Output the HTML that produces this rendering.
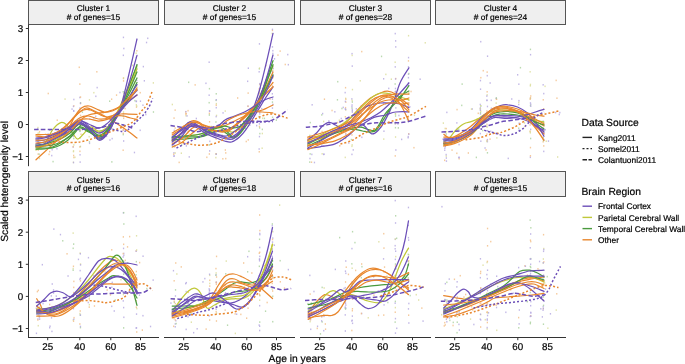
<!DOCTYPE html>
<html><head><meta charset="utf-8"><style>
html,body{margin:0;padding:0;background:#fff;width:685px;height:364px;overflow:hidden}
svg{display:block}
</style></head><body>
<div style="will-change:transform;width:685px;height:364px">
<svg width="685" height="364" viewBox="0 0 685 364" font-family="Liberation Sans, sans-serif" style="text-rendering:geometricPrecision">
<rect x="28.5" y="0.5" width="130" height="24.0" fill="#efefef" stroke="#555" stroke-width="1"/>
<text x="93.5" y="11.1" font-size="8.4" text-anchor="middle" fill="#000" stroke="#000" stroke-width="0.2">Cluster 1</text>
<text x="93.5" y="19.7" font-size="8.4" text-anchor="middle" fill="#000" stroke="#000" stroke-width="0.2"># of genes=15</text>
<rect x="164.5" y="0.5" width="130" height="24.0" fill="#efefef" stroke="#555" stroke-width="1"/>
<text x="229.5" y="11.1" font-size="8.4" text-anchor="middle" fill="#000" stroke="#000" stroke-width="0.2">Cluster 2</text>
<text x="229.5" y="19.7" font-size="8.4" text-anchor="middle" fill="#000" stroke="#000" stroke-width="0.2"># of genes=15</text>
<rect x="300.5" y="0.5" width="130" height="24.0" fill="#efefef" stroke="#555" stroke-width="1"/>
<text x="365.5" y="11.1" font-size="8.4" text-anchor="middle" fill="#000" stroke="#000" stroke-width="0.2">Cluster 3</text>
<text x="365.5" y="19.7" font-size="8.4" text-anchor="middle" fill="#000" stroke="#000" stroke-width="0.2"># of genes=28</text>
<rect x="435.5" y="0.5" width="130" height="24.0" fill="#efefef" stroke="#555" stroke-width="1"/>
<text x="500.5" y="11.1" font-size="8.4" text-anchor="middle" fill="#000" stroke="#000" stroke-width="0.2">Cluster 4</text>
<text x="500.5" y="19.7" font-size="8.4" text-anchor="middle" fill="#000" stroke="#000" stroke-width="0.2"># of genes=24</text>
<rect x="28.5" y="171.5" width="130" height="25.0" fill="#efefef" stroke="#555" stroke-width="1"/>
<text x="93.5" y="182.8" font-size="8.4" text-anchor="middle" fill="#000" stroke="#000" stroke-width="0.2">Cluster 5</text>
<text x="93.5" y="191.4" font-size="8.4" text-anchor="middle" fill="#000" stroke="#000" stroke-width="0.2"># of genes=16</text>
<rect x="164.5" y="171.5" width="130" height="25.0" fill="#efefef" stroke="#555" stroke-width="1"/>
<text x="229.5" y="182.8" font-size="8.4" text-anchor="middle" fill="#000" stroke="#000" stroke-width="0.2">Cluster 6</text>
<text x="229.5" y="191.4" font-size="8.4" text-anchor="middle" fill="#000" stroke="#000" stroke-width="0.2"># of genes=18</text>
<rect x="300.5" y="171.5" width="130" height="25.0" fill="#efefef" stroke="#555" stroke-width="1"/>
<text x="365.5" y="182.8" font-size="8.4" text-anchor="middle" fill="#000" stroke="#000" stroke-width="0.2">Cluster 7</text>
<text x="365.5" y="191.4" font-size="8.4" text-anchor="middle" fill="#000" stroke="#000" stroke-width="0.2"># of genes=16</text>
<rect x="435.5" y="171.5" width="130" height="25.0" fill="#efefef" stroke="#555" stroke-width="1"/>
<text x="500.5" y="182.8" font-size="8.4" text-anchor="middle" fill="#000" stroke="#000" stroke-width="0.2">Cluster 8</text>
<text x="500.5" y="191.4" font-size="8.4" text-anchor="middle" fill="#000" stroke="#000" stroke-width="0.2"># of genes=15</text>
<line x1="28.5" y1="24.5" x2="28.5" y2="166.2" stroke="#333" stroke-width="1"/>
<line x1="25.8" y1="28.5" x2="28.5" y2="28.5" stroke="#333" stroke-width="1"/>
<text x="23.3" y="32.1" font-size="9.8" text-anchor="end" fill="#000" stroke="#000" stroke-width="0.2">3</text>
<line x1="25.8" y1="60.5" x2="28.5" y2="60.5" stroke="#333" stroke-width="1"/>
<text x="23.3" y="64.1" font-size="9.8" text-anchor="end" fill="#000" stroke="#000" stroke-width="0.2">2</text>
<line x1="25.8" y1="92.5" x2="28.5" y2="92.5" stroke="#333" stroke-width="1"/>
<text x="23.3" y="96.1" font-size="9.8" text-anchor="end" fill="#000" stroke="#000" stroke-width="0.2">1</text>
<line x1="25.8" y1="124.5" x2="28.5" y2="124.5" stroke="#333" stroke-width="1"/>
<text x="23.3" y="128.1" font-size="9.8" text-anchor="end" fill="#000" stroke="#000" stroke-width="0.2">0</text>
<line x1="25.8" y1="156.5" x2="28.5" y2="156.5" stroke="#333" stroke-width="1"/>
<text x="23.3" y="160.1" font-size="9.8" text-anchor="end" fill="#000" stroke="#000" stroke-width="0.2">−1</text>
<line x1="28.5" y1="196.5" x2="28.5" y2="337.8" stroke="#333" stroke-width="1"/>
<line x1="25.8" y1="200.1" x2="28.5" y2="200.1" stroke="#333" stroke-width="1"/>
<text x="23.3" y="203.7" font-size="9.8" text-anchor="end" fill="#000" stroke="#000" stroke-width="0.2">3</text>
<line x1="25.8" y1="232.2" x2="28.5" y2="232.2" stroke="#333" stroke-width="1"/>
<text x="23.3" y="235.8" font-size="9.8" text-anchor="end" fill="#000" stroke="#000" stroke-width="0.2">2</text>
<line x1="25.8" y1="264.3" x2="28.5" y2="264.3" stroke="#333" stroke-width="1"/>
<text x="23.3" y="267.9" font-size="9.8" text-anchor="end" fill="#000" stroke="#000" stroke-width="0.2">1</text>
<line x1="25.8" y1="296.4" x2="28.5" y2="296.4" stroke="#333" stroke-width="1"/>
<text x="23.3" y="300.0" font-size="9.8" text-anchor="end" fill="#000" stroke="#000" stroke-width="0.2">0</text>
<line x1="25.8" y1="328.5" x2="28.5" y2="328.5" stroke="#333" stroke-width="1"/>
<text x="23.3" y="332.1" font-size="9.8" text-anchor="end" fill="#000" stroke="#000" stroke-width="0.2">−1</text>
<line x1="28.0" y1="337.5" x2="159.0" y2="337.5" stroke="#333" stroke-width="1"/>
<line x1="47.7" y1="337.5" x2="47.7" y2="340.2" stroke="#333" stroke-width="1"/>
<text x="47.7" y="349.9" font-size="9.8" text-anchor="middle" fill="#000" stroke="#000" stroke-width="0.2">25</text>
<line x1="79.8" y1="337.5" x2="79.8" y2="340.2" stroke="#333" stroke-width="1"/>
<text x="79.8" y="349.9" font-size="9.8" text-anchor="middle" fill="#000" stroke="#000" stroke-width="0.2">40</text>
<line x1="110.8" y1="337.5" x2="110.8" y2="340.2" stroke="#333" stroke-width="1"/>
<text x="110.8" y="349.9" font-size="9.8" text-anchor="middle" fill="#000" stroke="#000" stroke-width="0.2">60</text>
<line x1="140.5" y1="337.5" x2="140.5" y2="340.2" stroke="#333" stroke-width="1"/>
<text x="140.5" y="349.9" font-size="9.8" text-anchor="middle" fill="#000" stroke="#000" stroke-width="0.2">85</text>
<line x1="164.0" y1="337.5" x2="295.0" y2="337.5" stroke="#333" stroke-width="1"/>
<line x1="183.7" y1="337.5" x2="183.7" y2="340.2" stroke="#333" stroke-width="1"/>
<text x="183.7" y="349.9" font-size="9.8" text-anchor="middle" fill="#000" stroke="#000" stroke-width="0.2">25</text>
<line x1="215.8" y1="337.5" x2="215.8" y2="340.2" stroke="#333" stroke-width="1"/>
<text x="215.8" y="349.9" font-size="9.8" text-anchor="middle" fill="#000" stroke="#000" stroke-width="0.2">40</text>
<line x1="246.8" y1="337.5" x2="246.8" y2="340.2" stroke="#333" stroke-width="1"/>
<text x="246.8" y="349.9" font-size="9.8" text-anchor="middle" fill="#000" stroke="#000" stroke-width="0.2">60</text>
<line x1="276.5" y1="337.5" x2="276.5" y2="340.2" stroke="#333" stroke-width="1"/>
<text x="276.5" y="349.9" font-size="9.8" text-anchor="middle" fill="#000" stroke="#000" stroke-width="0.2">85</text>
<line x1="300.0" y1="337.5" x2="431.0" y2="337.5" stroke="#333" stroke-width="1"/>
<line x1="319.7" y1="337.5" x2="319.7" y2="340.2" stroke="#333" stroke-width="1"/>
<text x="319.7" y="349.9" font-size="9.8" text-anchor="middle" fill="#000" stroke="#000" stroke-width="0.2">25</text>
<line x1="351.8" y1="337.5" x2="351.8" y2="340.2" stroke="#333" stroke-width="1"/>
<text x="351.8" y="349.9" font-size="9.8" text-anchor="middle" fill="#000" stroke="#000" stroke-width="0.2">40</text>
<line x1="382.8" y1="337.5" x2="382.8" y2="340.2" stroke="#333" stroke-width="1"/>
<text x="382.8" y="349.9" font-size="9.8" text-anchor="middle" fill="#000" stroke="#000" stroke-width="0.2">60</text>
<line x1="412.5" y1="337.5" x2="412.5" y2="340.2" stroke="#333" stroke-width="1"/>
<text x="412.5" y="349.9" font-size="9.8" text-anchor="middle" fill="#000" stroke="#000" stroke-width="0.2">85</text>
<line x1="435.0" y1="337.5" x2="566.0" y2="337.5" stroke="#333" stroke-width="1"/>
<line x1="454.7" y1="337.5" x2="454.7" y2="340.2" stroke="#333" stroke-width="1"/>
<text x="454.7" y="349.9" font-size="9.8" text-anchor="middle" fill="#000" stroke="#000" stroke-width="0.2">25</text>
<line x1="486.8" y1="337.5" x2="486.8" y2="340.2" stroke="#333" stroke-width="1"/>
<text x="486.8" y="349.9" font-size="9.8" text-anchor="middle" fill="#000" stroke="#000" stroke-width="0.2">40</text>
<line x1="517.8" y1="337.5" x2="517.8" y2="340.2" stroke="#333" stroke-width="1"/>
<text x="517.8" y="349.9" font-size="9.8" text-anchor="middle" fill="#000" stroke="#000" stroke-width="0.2">60</text>
<line x1="547.5" y1="337.5" x2="547.5" y2="340.2" stroke="#333" stroke-width="1"/>
<text x="547.5" y="349.9" font-size="9.8" text-anchor="middle" fill="#000" stroke="#000" stroke-width="0.2">85</text>
<text x="297.2" y="361.9" font-size="10.3" text-anchor="middle" fill="#000" stroke="#000" stroke-width="0.2">Age in years</text>
<text transform="translate(7.6,181.4) rotate(-90)" x="0" y="0" font-size="10.3" text-anchor="middle" fill="#000" stroke="#000" stroke-width="0.2">Scaled heterogeneity level</text>
<text x="581.5" y="125.9" font-size="10.3" fill="#000" stroke="#000" stroke-width="0.2">Data Source</text>
<line x1="582.5" y1="137.4" x2="592" y2="137.4" stroke="#222" stroke-width="1.4"/>
<text x="598" y="140.5" font-size="8.4" fill="#000" stroke="#000" stroke-width="0.2">Kang2011</text>
<line x1="582.5" y1="148.6" x2="592" y2="148.6" stroke="#222" stroke-width="1.4" stroke-dasharray="2 2"/>
<text x="598" y="151.7" font-size="8.4" fill="#000" stroke="#000" stroke-width="0.2">Somel2011</text>
<line x1="582.5" y1="159.8" x2="592" y2="159.8" stroke="#222" stroke-width="1.4" stroke-dasharray="4.5 1.5"/>
<text x="598" y="162.9" font-size="8.4" fill="#000" stroke="#000" stroke-width="0.2">Colantuoni2011</text>
<text x="581.5" y="195" font-size="10.3" fill="#000" stroke="#000" stroke-width="0.2">Brain Region</text>
<line x1="582.5" y1="206.2" x2="592" y2="206.2" stroke="#6c4fb8" stroke-width="1.4"/>
<text x="598" y="209.3" font-size="8.4" fill="#000" stroke="#000" stroke-width="0.2">Frontal Cortex</text>
<line x1="582.5" y1="217.4" x2="592" y2="217.4" stroke="#c0c83a" stroke-width="1.4"/>
<text x="598" y="220.5" font-size="8.4" fill="#000" stroke="#000" stroke-width="0.2">Parietal Cerebral Wall</text>
<line x1="582.5" y1="228.6" x2="592" y2="228.6" stroke="#4a9a3e" stroke-width="1.4"/>
<text x="598" y="231.7" font-size="8.4" fill="#000" stroke="#000" stroke-width="0.2">Temporal Cerebral Wall</text>
<line x1="582.5" y1="239.8" x2="592" y2="239.8" stroke="#e8862c" stroke-width="1.4"/>
<text x="598" y="242.9" font-size="8.4" fill="#000" stroke="#000" stroke-width="0.2">Other</text>
<rect x="37.3" y="126.8" width="1.3" height="1.6" fill="#dadc96" opacity="0.8"/>
<rect x="37.6" y="149.3" width="1.3" height="1.6" fill="#f2bd85" opacity="0.8"/>
<rect x="37.5" y="153.3" width="1.3" height="1.6" fill="#f2bd85" opacity="0.8"/>
<rect x="37.1" y="145.6" width="1.3" height="1.6" fill="#b3a6e0" opacity="0.8"/>
<rect x="37.6" y="138.0" width="1.3" height="1.6" fill="#f2bd85" opacity="0.8"/>
<rect x="37.7" y="142.5" width="1.3" height="1.6" fill="#f2bd85" opacity="0.8"/>
<rect x="37.5" y="140.1" width="1.3" height="1.6" fill="#a9d19c" opacity="0.8"/>
<rect x="37.4" y="132.5" width="1.3" height="1.6" fill="#dadc96" opacity="0.8"/>
<rect x="37.0" y="128.1" width="1.3" height="1.6" fill="#b3a6e0" opacity="0.8"/>
<rect x="38.8" y="157.6" width="1.3" height="1.6" fill="#dadc96" opacity="0.8"/>
<rect x="38.9" y="130.8" width="1.3" height="1.6" fill="#f2bd85" opacity="0.8"/>
<rect x="38.8" y="147.2" width="1.3" height="1.6" fill="#b3a6e0" opacity="0.8"/>
<rect x="38.5" y="153.4" width="1.3" height="1.6" fill="#a9d19c" opacity="0.8"/>
<rect x="39.2" y="135.7" width="1.3" height="1.6" fill="#f2bd85" opacity="0.8"/>
<rect x="38.5" y="132.0" width="1.3" height="1.6" fill="#dadc96" opacity="0.8"/>
<rect x="38.7" y="143.2" width="1.3" height="1.6" fill="#f2bd85" opacity="0.8"/>
<rect x="49.0" y="150.8" width="1.3" height="1.6" fill="#f2bd85" opacity="0.8"/>
<rect x="49.6" y="137.6" width="1.3" height="1.6" fill="#b3a6e0" opacity="0.8"/>
<rect x="49.1" y="144.9" width="1.3" height="1.6" fill="#b3a6e0" opacity="0.8"/>
<rect x="49.7" y="143.8" width="1.3" height="1.6" fill="#f2bd85" opacity="0.8"/>
<rect x="49.3" y="136.8" width="1.3" height="1.6" fill="#f2bd85" opacity="0.8"/>
<rect x="49.2" y="129.4" width="1.3" height="1.6" fill="#a9d19c" opacity="0.8"/>
<rect x="51.2" y="134.1" width="1.3" height="1.6" fill="#b3a6e0" opacity="0.8"/>
<rect x="51.1" y="154.8" width="1.3" height="1.6" fill="#b3a6e0" opacity="0.8"/>
<rect x="51.0" y="139.9" width="1.3" height="1.6" fill="#a9d19c" opacity="0.8"/>
<rect x="51.5" y="148.9" width="1.3" height="1.6" fill="#b3a6e0" opacity="0.8"/>
<rect x="73.1" y="137.7" width="1.3" height="1.6" fill="#a9d19c" opacity="0.8"/>
<rect x="73.0" y="154.7" width="1.3" height="1.6" fill="#f2bd85" opacity="0.8"/>
<rect x="72.5" y="146.2" width="1.3" height="1.6" fill="#b3a6e0" opacity="0.8"/>
<rect x="73.2" y="144.1" width="1.3" height="1.6" fill="#dadc96" opacity="0.8"/>
<rect x="72.6" y="133.3" width="1.3" height="1.6" fill="#b3a6e0" opacity="0.8"/>
<rect x="73.2" y="105.1" width="1.3" height="1.6" fill="#f2bd85" opacity="0.8"/>
<rect x="73.2" y="98.7" width="1.3" height="1.6" fill="#b3a6e0" opacity="0.8"/>
<rect x="72.8" y="105.6" width="1.3" height="1.6" fill="#b3a6e0" opacity="0.8"/>
<rect x="72.7" y="161.6" width="1.3" height="1.6" fill="#dadc96" opacity="0.8"/>
<rect x="72.5" y="128.1" width="1.3" height="1.6" fill="#b3a6e0" opacity="0.8"/>
<rect x="72.9" y="135.5" width="1.3" height="1.6" fill="#b3a6e0" opacity="0.8"/>
<rect x="72.9" y="161.7" width="1.3" height="1.6" fill="#b3a6e0" opacity="0.8"/>
<rect x="72.9" y="150.1" width="1.3" height="1.6" fill="#dadc96" opacity="0.8"/>
<rect x="72.8" y="150.8" width="1.3" height="1.6" fill="#dadc96" opacity="0.8"/>
<rect x="73.1" y="110.4" width="1.3" height="1.6" fill="#b3a6e0" opacity="0.8"/>
<rect x="73.0" y="109.9" width="1.3" height="1.6" fill="#b3a6e0" opacity="0.8"/>
<rect x="72.6" y="145.9" width="1.3" height="1.6" fill="#f2bd85" opacity="0.8"/>
<rect x="73.2" y="156.7" width="1.3" height="1.6" fill="#f2bd85" opacity="0.8"/>
<rect x="79.2" y="96.7" width="1.3" height="1.6" fill="#b3a6e0" opacity="0.8"/>
<rect x="79.9" y="102.7" width="1.3" height="1.6" fill="#f2bd85" opacity="0.8"/>
<rect x="79.5" y="125.1" width="1.3" height="1.6" fill="#b3a6e0" opacity="0.8"/>
<rect x="79.3" y="150.5" width="1.3" height="1.6" fill="#f2bd85" opacity="0.8"/>
<rect x="79.9" y="102.0" width="1.3" height="1.6" fill="#a9d19c" opacity="0.8"/>
<rect x="79.8" y="145.7" width="1.3" height="1.6" fill="#a9d19c" opacity="0.8"/>
<rect x="79.2" y="146.1" width="1.3" height="1.6" fill="#f2bd85" opacity="0.8"/>
<rect x="79.2" y="137.3" width="1.3" height="1.6" fill="#a9d19c" opacity="0.8"/>
<rect x="79.2" y="117.7" width="1.3" height="1.6" fill="#b3a6e0" opacity="0.8"/>
<rect x="79.4" y="154.0" width="1.3" height="1.6" fill="#b3a6e0" opacity="0.8"/>
<rect x="79.3" y="107.3" width="1.3" height="1.6" fill="#b3a6e0" opacity="0.8"/>
<rect x="79.9" y="114.7" width="1.3" height="1.6" fill="#f2bd85" opacity="0.8"/>
<rect x="79.9" y="96.3" width="1.3" height="1.6" fill="#f2bd85" opacity="0.8"/>
<rect x="79.2" y="83.3" width="1.3" height="1.6" fill="#f2bd85" opacity="0.8"/>
<rect x="79.4" y="129.1" width="1.3" height="1.6" fill="#a9d19c" opacity="0.8"/>
<rect x="79.5" y="161.3" width="1.3" height="1.6" fill="#b3a6e0" opacity="0.8"/>
<rect x="79.4" y="130.1" width="1.3" height="1.6" fill="#a9d19c" opacity="0.8"/>
<rect x="79.6" y="129.3" width="1.3" height="1.6" fill="#f2bd85" opacity="0.8"/>
<rect x="79.2" y="130.5" width="1.3" height="1.6" fill="#a9d19c" opacity="0.8"/>
<rect x="79.8" y="102.5" width="1.3" height="1.6" fill="#b3a6e0" opacity="0.8"/>
<rect x="88.8" y="141.1" width="1.3" height="1.6" fill="#a9d19c" opacity="0.8"/>
<rect x="89.1" y="118.2" width="1.3" height="1.6" fill="#b3a6e0" opacity="0.8"/>
<rect x="88.8" y="99.1" width="1.3" height="1.6" fill="#dadc96" opacity="0.8"/>
<rect x="88.9" y="142.5" width="1.3" height="1.6" fill="#b3a6e0" opacity="0.8"/>
<rect x="88.5" y="109.1" width="1.3" height="1.6" fill="#f2bd85" opacity="0.8"/>
<rect x="111.5" y="137.8" width="1.3" height="1.6" fill="#b3a6e0" opacity="0.8"/>
<rect x="111.2" y="161.1" width="1.3" height="1.6" fill="#a9d19c" opacity="0.8"/>
<rect x="111.5" y="118.2" width="1.3" height="1.6" fill="#a9d19c" opacity="0.8"/>
<rect x="111.0" y="98.4" width="1.3" height="1.6" fill="#f2bd85" opacity="0.8"/>
<rect x="111.4" y="125.8" width="1.3" height="1.6" fill="#dadc96" opacity="0.8"/>
<rect x="111.1" y="116.8" width="1.3" height="1.6" fill="#b3a6e0" opacity="0.8"/>
<rect x="111.0" y="127.9" width="1.3" height="1.6" fill="#a9d19c" opacity="0.8"/>
<rect x="122.7" y="112.9" width="1.3" height="1.6" fill="#f2bd85" opacity="0.8"/>
<rect x="122.7" y="54.5" width="1.3" height="1.6" fill="#b3a6e0" opacity="0.8"/>
<rect x="122.6" y="132.6" width="1.3" height="1.6" fill="#f2bd85" opacity="0.8"/>
<rect x="123.0" y="140.2" width="1.3" height="1.6" fill="#b3a6e0" opacity="0.8"/>
<rect x="122.8" y="36.6" width="1.3" height="1.6" fill="#b3a6e0" opacity="0.8"/>
<rect x="122.6" y="129.1" width="1.3" height="1.6" fill="#b3a6e0" opacity="0.8"/>
<rect x="123.2" y="47.7" width="1.3" height="1.6" fill="#b3a6e0" opacity="0.8"/>
<rect x="122.6" y="129.4" width="1.3" height="1.6" fill="#f2bd85" opacity="0.8"/>
<rect x="122.8" y="124.0" width="1.3" height="1.6" fill="#b3a6e0" opacity="0.8"/>
<rect x="123.2" y="92.4" width="1.3" height="1.6" fill="#dadc96" opacity="0.8"/>
<rect x="123.1" y="115.5" width="1.3" height="1.6" fill="#b3a6e0" opacity="0.8"/>
<rect x="122.8" y="106.7" width="1.3" height="1.6" fill="#b3a6e0" opacity="0.8"/>
<rect x="122.8" y="99.8" width="1.3" height="1.6" fill="#f2bd85" opacity="0.8"/>
<rect x="122.8" y="126.8" width="1.3" height="1.6" fill="#f2bd85" opacity="0.8"/>
<rect x="122.8" y="77.6" width="1.3" height="1.6" fill="#f2bd85" opacity="0.8"/>
<rect x="122.9" y="111.2" width="1.3" height="1.6" fill="#dadc96" opacity="0.8"/>
<rect x="123.0" y="107.4" width="1.3" height="1.6" fill="#a9d19c" opacity="0.8"/>
<rect x="122.9" y="77.1" width="1.3" height="1.6" fill="#dadc96" opacity="0.8"/>
<rect x="122.6" y="91.0" width="1.3" height="1.6" fill="#a9d19c" opacity="0.8"/>
<rect x="122.7" y="96.2" width="1.3" height="1.6" fill="#dadc96" opacity="0.8"/>
<rect x="122.6" y="105.7" width="1.3" height="1.6" fill="#dadc96" opacity="0.8"/>
<rect x="122.5" y="149.4" width="1.3" height="1.6" fill="#f2bd85" opacity="0.8"/>
<rect x="123.0" y="117.5" width="1.3" height="1.6" fill="#f2bd85" opacity="0.8"/>
<rect x="122.6" y="133.8" width="1.3" height="1.6" fill="#a9d19c" opacity="0.8"/>
<rect x="122.5" y="115.2" width="1.3" height="1.6" fill="#a9d19c" opacity="0.8"/>
<rect x="122.9" y="80.1" width="1.3" height="1.6" fill="#f2bd85" opacity="0.8"/>
<rect x="135.7" y="104.1" width="1.3" height="1.6" fill="#dadc96" opacity="0.8"/>
<rect x="136.2" y="89.1" width="1.3" height="1.6" fill="#a9d19c" opacity="0.8"/>
<rect x="135.8" y="84.3" width="1.3" height="1.6" fill="#b3a6e0" opacity="0.8"/>
<rect x="135.8" y="100.5" width="1.3" height="1.6" fill="#b3a6e0" opacity="0.8"/>
<rect x="135.8" y="106.3" width="1.3" height="1.6" fill="#f2bd85" opacity="0.8"/>
<rect x="136.2" y="67.3" width="1.3" height="1.6" fill="#a9d19c" opacity="0.8"/>
<rect x="136.2" y="119.9" width="1.3" height="1.6" fill="#a9d19c" opacity="0.8"/>
<rect x="136.1" y="86.1" width="1.3" height="1.6" fill="#dadc96" opacity="0.8"/>
<rect x="135.5" y="70.8" width="1.3" height="1.6" fill="#b3a6e0" opacity="0.8"/>
<rect x="136.1" y="105.3" width="1.3" height="1.6" fill="#dadc96" opacity="0.8"/>
<rect x="135.6" y="56.6" width="1.3" height="1.6" fill="#b3a6e0" opacity="0.8"/>
<rect x="136.2" y="50.0" width="1.3" height="1.6" fill="#f2bd85" opacity="0.8"/>
<rect x="136.2" y="119.0" width="1.3" height="1.6" fill="#dadc96" opacity="0.8"/>
<rect x="136.2" y="79.7" width="1.3" height="1.6" fill="#b3a6e0" opacity="0.8"/>
<rect x="135.5" y="100.6" width="1.3" height="1.6" fill="#b3a6e0" opacity="0.8"/>
<rect x="135.9" y="64.2" width="1.3" height="1.6" fill="#b3a6e0" opacity="0.8"/>
<rect x="135.6" y="88.3" width="1.3" height="1.6" fill="#b3a6e0" opacity="0.8"/>
<rect x="135.5" y="52.4" width="1.3" height="1.6" fill="#dadc96" opacity="0.8"/>
<rect x="136.0" y="89.9" width="1.3" height="1.6" fill="#b3a6e0" opacity="0.8"/>
<rect x="135.8" y="68.2" width="1.3" height="1.6" fill="#b3a6e0" opacity="0.8"/>
<rect x="152.8" y="111.2" width="1.3" height="1.6" fill="#a9d19c" opacity="0.8"/>
<rect x="115.9" y="94.3" width="1.3" height="1.6" fill="#f2bd85" opacity="0.8"/>
<rect x="102.7" y="111.7" width="1.3" height="1.6" fill="#f2bd85" opacity="0.8"/>
<rect x="96.5" y="86.8" width="1.3" height="1.6" fill="#b3a6e0" opacity="0.8"/>
<rect x="132.8" y="73.9" width="1.3" height="1.6" fill="#f2bd85" opacity="0.8"/>
<rect x="134.2" y="80.8" width="1.3" height="1.6" fill="#f2bd85" opacity="0.8"/>
<rect x="64.4" y="98.3" width="1.3" height="1.6" fill="#dadc96" opacity="0.8"/>
<rect x="96.2" y="71.0" width="1.3" height="1.6" fill="#f2bd85" opacity="0.8"/>
<rect x="93.1" y="117.1" width="1.3" height="1.6" fill="#b3a6e0" opacity="0.8"/>
<rect x="105.9" y="135.5" width="1.3" height="1.6" fill="#b3a6e0" opacity="0.8"/>
<rect x="98.6" y="148.0" width="1.3" height="1.6" fill="#f2bd85" opacity="0.8"/>
<rect x="48.4" y="153.6" width="1.3" height="1.6" fill="#f2bd85" opacity="0.8"/>
<rect x="88.5" y="135.9" width="1.3" height="1.6" fill="#dadc96" opacity="0.8"/>
<rect x="143.7" y="80.0" width="1.3" height="1.6" fill="#b3a6e0" opacity="0.8"/>
<rect x="74.3" y="156.5" width="1.3" height="1.6" fill="#dadc96" opacity="0.8"/>
<rect x="145.2" y="113.7" width="1.3" height="1.6" fill="#b3a6e0" opacity="0.8"/>
<rect x="56.6" y="119.4" width="1.3" height="1.6" fill="#f2bd85" opacity="0.8"/>
<rect x="37.4" y="141.2" width="1.3" height="1.6" fill="#b3a6e0" opacity="0.8"/>
<rect x="52.4" y="160.8" width="1.3" height="1.6" fill="#a9d19c" opacity="0.8"/>
<rect x="76.1" y="124.8" width="1.3" height="1.6" fill="#f2bd85" opacity="0.8"/>
<rect x="93.2" y="91.9" width="1.3" height="1.6" fill="#dadc96" opacity="0.8"/>
<rect x="94.6" y="129.6" width="1.3" height="1.6" fill="#b3a6e0" opacity="0.8"/>
<rect x="119.3" y="91.7" width="1.3" height="1.6" fill="#b3a6e0" opacity="0.8"/>
<rect x="78.6" y="66.5" width="1.3" height="1.6" fill="#f2bd85" opacity="0.8"/>
<rect x="132.0" y="64.6" width="1.3" height="1.6" fill="#dadc96" opacity="0.8"/>
<rect x="109.0" y="100.4" width="1.3" height="1.6" fill="#a9d19c" opacity="0.8"/>
<rect x="59.8" y="141.6" width="1.3" height="1.6" fill="#f2bd85" opacity="0.8"/>
<rect x="135.8" y="118.9" width="1.3" height="1.6" fill="#b3a6e0" opacity="0.8"/>
<rect x="142.7" y="65.8" width="1.3" height="1.6" fill="#b3a6e0" opacity="0.8"/>
<rect x="71.4" y="108.3" width="1.3" height="1.6" fill="#b3a6e0" opacity="0.8"/>
<rect x="139.8" y="100.4" width="1.3" height="1.6" fill="#b3a6e0" opacity="0.8"/>
<rect x="139.5" y="129.5" width="1.3" height="1.6" fill="#b3a6e0" opacity="0.8"/>
<rect x="139.6" y="91.9" width="1.3" height="1.6" fill="#f2bd85" opacity="0.8"/>
<rect x="45.4" y="149.5" width="1.3" height="1.6" fill="#dadc96" opacity="0.8"/>
<rect x="145.9" y="41.7" width="1.3" height="1.6" fill="#b3a6e0" opacity="0.8"/>
<rect x="81.8" y="111.4" width="1.3" height="1.6" fill="#a9d19c" opacity="0.8"/>
<rect x="128.9" y="126.1" width="1.3" height="1.6" fill="#b3a6e0" opacity="0.8"/>
<rect x="142.3" y="104.4" width="1.3" height="1.6" fill="#b3a6e0" opacity="0.8"/>
<rect x="47.6" y="92.7" width="1.3" height="1.6" fill="#f2bd85" opacity="0.8"/>
<rect x="152.7" y="82.1" width="1.3" height="1.6" fill="#dadc96" opacity="0.8"/>
<rect x="56.3" y="147.9" width="1.3" height="1.6" fill="#b3a6e0" opacity="0.8"/>
<rect x="124.5" y="107.8" width="1.3" height="1.6" fill="#f2bd85" opacity="0.8"/>
<rect x="95.1" y="115.5" width="1.3" height="1.6" fill="#b3a6e0" opacity="0.8"/>
<rect x="47.5" y="133.2" width="1.3" height="1.6" fill="#b3a6e0" opacity="0.8"/>
<rect x="133.8" y="151.7" width="1.3" height="1.6" fill="#b3a6e0" opacity="0.8"/>
<rect x="102.8" y="125.4" width="1.3" height="1.6" fill="#b3a6e0" opacity="0.8"/>
<rect x="147.1" y="37.5" width="1.3" height="1.6" fill="#b3a6e0" opacity="0.8"/>
<rect x="80.4" y="133.5" width="1.3" height="1.6" fill="#f2bd85" opacity="0.8"/>
<rect x="95.2" y="95.5" width="1.3" height="1.6" fill="#b3a6e0" opacity="0.8"/>
<rect x="109.3" y="139.2" width="1.3" height="1.6" fill="#b3a6e0" opacity="0.8"/>
<rect x="134.3" y="99.9" width="1.3" height="1.6" fill="#a9d19c" opacity="0.8"/>
<rect x="173.3" y="152.0" width="1.3" height="1.6" fill="#b3a6e0" opacity="0.8"/>
<rect x="173.6" y="140.8" width="1.3" height="1.6" fill="#f2bd85" opacity="0.8"/>
<rect x="173.7" y="145.9" width="1.3" height="1.6" fill="#b3a6e0" opacity="0.8"/>
<rect x="173.7" y="145.0" width="1.3" height="1.6" fill="#dadc96" opacity="0.8"/>
<rect x="173.4" y="117.3" width="1.3" height="1.6" fill="#f2bd85" opacity="0.8"/>
<rect x="173.6" y="144.7" width="1.3" height="1.6" fill="#b3a6e0" opacity="0.8"/>
<rect x="173.2" y="155.3" width="1.3" height="1.6" fill="#b3a6e0" opacity="0.8"/>
<rect x="173.6" y="155.2" width="1.3" height="1.6" fill="#b3a6e0" opacity="0.8"/>
<rect x="173.1" y="153.4" width="1.3" height="1.6" fill="#f2bd85" opacity="0.8"/>
<rect x="173.6" y="129.6" width="1.3" height="1.6" fill="#b3a6e0" opacity="0.8"/>
<rect x="174.6" y="152.2" width="1.3" height="1.6" fill="#dadc96" opacity="0.8"/>
<rect x="174.7" y="139.4" width="1.3" height="1.6" fill="#dadc96" opacity="0.8"/>
<rect x="174.5" y="145.6" width="1.3" height="1.6" fill="#f2bd85" opacity="0.8"/>
<rect x="174.5" y="109.3" width="1.3" height="1.6" fill="#f2bd85" opacity="0.8"/>
<rect x="174.7" y="131.8" width="1.3" height="1.6" fill="#b3a6e0" opacity="0.8"/>
<rect x="174.5" y="127.2" width="1.3" height="1.6" fill="#f2bd85" opacity="0.8"/>
<rect x="185.7" y="113.0" width="1.3" height="1.6" fill="#f2bd85" opacity="0.8"/>
<rect x="185.3" y="114.9" width="1.3" height="1.6" fill="#dadc96" opacity="0.8"/>
<rect x="185.0" y="111.1" width="1.3" height="1.6" fill="#f2bd85" opacity="0.8"/>
<rect x="185.3" y="110.9" width="1.3" height="1.6" fill="#b3a6e0" opacity="0.8"/>
<rect x="185.0" y="113.1" width="1.3" height="1.6" fill="#f2bd85" opacity="0.8"/>
<rect x="185.2" y="135.7" width="1.3" height="1.6" fill="#b3a6e0" opacity="0.8"/>
<rect x="185.7" y="145.1" width="1.3" height="1.6" fill="#b3a6e0" opacity="0.8"/>
<rect x="187.4" y="109.9" width="1.3" height="1.6" fill="#f2bd85" opacity="0.8"/>
<rect x="187.5" y="122.1" width="1.3" height="1.6" fill="#b3a6e0" opacity="0.8"/>
<rect x="187.5" y="130.4" width="1.3" height="1.6" fill="#f2bd85" opacity="0.8"/>
<rect x="187.3" y="122.1" width="1.3" height="1.6" fill="#b3a6e0" opacity="0.8"/>
<rect x="187.6" y="142.7" width="1.3" height="1.6" fill="#b3a6e0" opacity="0.8"/>
<rect x="208.9" y="121.0" width="1.3" height="1.6" fill="#f2bd85" opacity="0.8"/>
<rect x="208.7" y="153.2" width="1.3" height="1.6" fill="#f2bd85" opacity="0.8"/>
<rect x="208.7" y="112.6" width="1.3" height="1.6" fill="#f2bd85" opacity="0.8"/>
<rect x="208.7" y="144.1" width="1.3" height="1.6" fill="#a9d19c" opacity="0.8"/>
<rect x="208.7" y="114.2" width="1.3" height="1.6" fill="#a9d19c" opacity="0.8"/>
<rect x="209.0" y="150.1" width="1.3" height="1.6" fill="#b3a6e0" opacity="0.8"/>
<rect x="209.1" y="132.4" width="1.3" height="1.6" fill="#f2bd85" opacity="0.8"/>
<rect x="208.8" y="87.9" width="1.3" height="1.6" fill="#a9d19c" opacity="0.8"/>
<rect x="208.5" y="94.4" width="1.3" height="1.6" fill="#b3a6e0" opacity="0.8"/>
<rect x="208.8" y="110.2" width="1.3" height="1.6" fill="#b3a6e0" opacity="0.8"/>
<rect x="208.5" y="61.4" width="1.3" height="1.6" fill="#b3a6e0" opacity="0.8"/>
<rect x="209.2" y="140.5" width="1.3" height="1.6" fill="#b3a6e0" opacity="0.8"/>
<rect x="208.6" y="125.7" width="1.3" height="1.6" fill="#dadc96" opacity="0.8"/>
<rect x="208.5" y="101.9" width="1.3" height="1.6" fill="#a9d19c" opacity="0.8"/>
<rect x="209.1" y="110.3" width="1.3" height="1.6" fill="#b3a6e0" opacity="0.8"/>
<rect x="215.6" y="106.9" width="1.3" height="1.6" fill="#b3a6e0" opacity="0.8"/>
<rect x="215.5" y="153.2" width="1.3" height="1.6" fill="#a9d19c" opacity="0.8"/>
<rect x="215.4" y="153.0" width="1.3" height="1.6" fill="#f2bd85" opacity="0.8"/>
<rect x="215.7" y="102.9" width="1.3" height="1.6" fill="#dadc96" opacity="0.8"/>
<rect x="215.9" y="114.7" width="1.3" height="1.6" fill="#dadc96" opacity="0.8"/>
<rect x="215.5" y="115.8" width="1.3" height="1.6" fill="#b3a6e0" opacity="0.8"/>
<rect x="215.6" y="104.4" width="1.3" height="1.6" fill="#f2bd85" opacity="0.8"/>
<rect x="215.4" y="129.7" width="1.3" height="1.6" fill="#b3a6e0" opacity="0.8"/>
<rect x="215.6" y="93.0" width="1.3" height="1.6" fill="#a9d19c" opacity="0.8"/>
<rect x="215.4" y="99.5" width="1.3" height="1.6" fill="#a9d19c" opacity="0.8"/>
<rect x="215.9" y="135.0" width="1.3" height="1.6" fill="#f2bd85" opacity="0.8"/>
<rect x="215.7" y="99.0" width="1.3" height="1.6" fill="#b3a6e0" opacity="0.8"/>
<rect x="215.6" y="153.4" width="1.3" height="1.6" fill="#b3a6e0" opacity="0.8"/>
<rect x="215.3" y="131.5" width="1.3" height="1.6" fill="#b3a6e0" opacity="0.8"/>
<rect x="215.3" y="121.2" width="1.3" height="1.6" fill="#a9d19c" opacity="0.8"/>
<rect x="215.5" y="138.2" width="1.3" height="1.6" fill="#f2bd85" opacity="0.8"/>
<rect x="215.3" y="136.9" width="1.3" height="1.6" fill="#a9d19c" opacity="0.8"/>
<rect x="215.2" y="156.8" width="1.3" height="1.6" fill="#dadc96" opacity="0.8"/>
<rect x="225.1" y="152.1" width="1.3" height="1.6" fill="#f2bd85" opacity="0.8"/>
<rect x="224.7" y="132.0" width="1.3" height="1.6" fill="#a9d19c" opacity="0.8"/>
<rect x="224.6" y="110.3" width="1.3" height="1.6" fill="#dadc96" opacity="0.8"/>
<rect x="224.7" y="149.2" width="1.3" height="1.6" fill="#f2bd85" opacity="0.8"/>
<rect x="225.1" y="157.8" width="1.3" height="1.6" fill="#f2bd85" opacity="0.8"/>
<rect x="247.2" y="122.6" width="1.3" height="1.6" fill="#a9d19c" opacity="0.8"/>
<rect x="247.3" y="105.4" width="1.3" height="1.6" fill="#b3a6e0" opacity="0.8"/>
<rect x="247.4" y="105.5" width="1.3" height="1.6" fill="#f2bd85" opacity="0.8"/>
<rect x="247.6" y="139.1" width="1.3" height="1.6" fill="#f2bd85" opacity="0.8"/>
<rect x="247.0" y="80.5" width="1.3" height="1.6" fill="#b3a6e0" opacity="0.8"/>
<rect x="247.7" y="125.2" width="1.3" height="1.6" fill="#b3a6e0" opacity="0.8"/>
<rect x="247.5" y="92.3" width="1.3" height="1.6" fill="#f2bd85" opacity="0.8"/>
<rect x="258.7" y="68.0" width="1.3" height="1.6" fill="#a9d19c" opacity="0.8"/>
<rect x="259.0" y="117.4" width="1.3" height="1.6" fill="#a9d19c" opacity="0.8"/>
<rect x="259.2" y="83.7" width="1.3" height="1.6" fill="#b3a6e0" opacity="0.8"/>
<rect x="259.2" y="83.7" width="1.3" height="1.6" fill="#f2bd85" opacity="0.8"/>
<rect x="259.2" y="132.8" width="1.3" height="1.6" fill="#a9d19c" opacity="0.8"/>
<rect x="258.8" y="43.1" width="1.3" height="1.6" fill="#b3a6e0" opacity="0.8"/>
<rect x="258.8" y="123.1" width="1.3" height="1.6" fill="#b3a6e0" opacity="0.8"/>
<rect x="258.5" y="71.0" width="1.3" height="1.6" fill="#b3a6e0" opacity="0.8"/>
<rect x="258.8" y="103.4" width="1.3" height="1.6" fill="#a9d19c" opacity="0.8"/>
<rect x="259.1" y="93.2" width="1.3" height="1.6" fill="#f2bd85" opacity="0.8"/>
<rect x="258.9" y="97.5" width="1.3" height="1.6" fill="#f2bd85" opacity="0.8"/>
<rect x="258.9" y="67.3" width="1.3" height="1.6" fill="#dadc96" opacity="0.8"/>
<rect x="259.2" y="106.3" width="1.3" height="1.6" fill="#f2bd85" opacity="0.8"/>
<rect x="259.1" y="113.1" width="1.3" height="1.6" fill="#b3a6e0" opacity="0.8"/>
<rect x="258.9" y="101.9" width="1.3" height="1.6" fill="#b3a6e0" opacity="0.8"/>
<rect x="259.0" y="111.4" width="1.3" height="1.6" fill="#b3a6e0" opacity="0.8"/>
<rect x="258.7" y="104.0" width="1.3" height="1.6" fill="#f2bd85" opacity="0.8"/>
<rect x="258.5" y="88.2" width="1.3" height="1.6" fill="#f2bd85" opacity="0.8"/>
<rect x="258.5" y="148.2" width="1.3" height="1.6" fill="#b3a6e0" opacity="0.8"/>
<rect x="259.0" y="127.1" width="1.3" height="1.6" fill="#a9d19c" opacity="0.8"/>
<rect x="258.6" y="151.0" width="1.3" height="1.6" fill="#f2bd85" opacity="0.8"/>
<rect x="258.8" y="135.8" width="1.3" height="1.6" fill="#b3a6e0" opacity="0.8"/>
<rect x="258.8" y="125.7" width="1.3" height="1.6" fill="#f2bd85" opacity="0.8"/>
<rect x="259.1" y="82.9" width="1.3" height="1.6" fill="#b3a6e0" opacity="0.8"/>
<rect x="258.9" y="90.6" width="1.3" height="1.6" fill="#f2bd85" opacity="0.8"/>
<rect x="258.5" y="115.8" width="1.3" height="1.6" fill="#a9d19c" opacity="0.8"/>
<rect x="259.1" y="92.1" width="1.3" height="1.6" fill="#dadc96" opacity="0.8"/>
<rect x="271.7" y="70.5" width="1.3" height="1.6" fill="#a9d19c" opacity="0.8"/>
<rect x="272.2" y="103.6" width="1.3" height="1.6" fill="#b3a6e0" opacity="0.8"/>
<rect x="272.0" y="77.0" width="1.3" height="1.6" fill="#f2bd85" opacity="0.8"/>
<rect x="271.5" y="32.7" width="1.3" height="1.6" fill="#dadc96" opacity="0.8"/>
<rect x="272.2" y="69.7" width="1.3" height="1.6" fill="#f2bd85" opacity="0.8"/>
<rect x="271.8" y="76.8" width="1.3" height="1.6" fill="#a9d19c" opacity="0.8"/>
<rect x="271.7" y="93.0" width="1.3" height="1.6" fill="#b3a6e0" opacity="0.8"/>
<rect x="272.2" y="49.9" width="1.3" height="1.6" fill="#b3a6e0" opacity="0.8"/>
<rect x="271.8" y="98.3" width="1.3" height="1.6" fill="#b3a6e0" opacity="0.8"/>
<rect x="272.1" y="73.4" width="1.3" height="1.6" fill="#b3a6e0" opacity="0.8"/>
<rect x="272.2" y="52.7" width="1.3" height="1.6" fill="#b3a6e0" opacity="0.8"/>
<rect x="272.2" y="76.4" width="1.3" height="1.6" fill="#f2bd85" opacity="0.8"/>
<rect x="271.7" y="71.1" width="1.3" height="1.6" fill="#b3a6e0" opacity="0.8"/>
<rect x="271.6" y="84.9" width="1.3" height="1.6" fill="#f2bd85" opacity="0.8"/>
<rect x="271.8" y="101.3" width="1.3" height="1.6" fill="#a9d19c" opacity="0.8"/>
<rect x="271.8" y="46.1" width="1.3" height="1.6" fill="#b3a6e0" opacity="0.8"/>
<rect x="272.2" y="74.7" width="1.3" height="1.6" fill="#dadc96" opacity="0.8"/>
<rect x="271.8" y="29.6" width="1.3" height="1.6" fill="#f2bd85" opacity="0.8"/>
<rect x="271.8" y="28.6" width="1.3" height="1.6" fill="#b3a6e0" opacity="0.8"/>
<rect x="271.9" y="116.5" width="1.3" height="1.6" fill="#a9d19c" opacity="0.8"/>
<rect x="271.8" y="107.3" width="1.3" height="1.6" fill="#b3a6e0" opacity="0.8"/>
<rect x="195.7" y="117.7" width="1.3" height="1.6" fill="#b3a6e0" opacity="0.8"/>
<rect x="265.2" y="64.8" width="1.3" height="1.6" fill="#f2bd85" opacity="0.8"/>
<rect x="262.0" y="117.5" width="1.3" height="1.6" fill="#dadc96" opacity="0.8"/>
<rect x="287.7" y="63.9" width="1.3" height="1.6" fill="#b3a6e0" opacity="0.8"/>
<rect x="273.9" y="58.0" width="1.3" height="1.6" fill="#b3a6e0" opacity="0.8"/>
<rect x="223.4" y="130.4" width="1.3" height="1.6" fill="#dadc96" opacity="0.8"/>
<rect x="188.6" y="156.1" width="1.3" height="1.6" fill="#b3a6e0" opacity="0.8"/>
<rect x="261.7" y="132.7" width="1.3" height="1.6" fill="#dadc96" opacity="0.8"/>
<rect x="245.6" y="140.7" width="1.3" height="1.6" fill="#f2bd85" opacity="0.8"/>
<rect x="176.2" y="135.8" width="1.3" height="1.6" fill="#f2bd85" opacity="0.8"/>
<rect x="261.5" y="147.4" width="1.3" height="1.6" fill="#dadc96" opacity="0.8"/>
<rect x="187.6" y="128.2" width="1.3" height="1.6" fill="#b3a6e0" opacity="0.8"/>
<rect x="179.7" y="130.0" width="1.3" height="1.6" fill="#b3a6e0" opacity="0.8"/>
<rect x="275.7" y="119.3" width="1.3" height="1.6" fill="#a9d19c" opacity="0.8"/>
<rect x="271.9" y="66.0" width="1.3" height="1.6" fill="#b3a6e0" opacity="0.8"/>
<rect x="172.1" y="145.8" width="1.3" height="1.6" fill="#a9d19c" opacity="0.8"/>
<rect x="180.7" y="152.4" width="1.3" height="1.6" fill="#dadc96" opacity="0.8"/>
<rect x="222.2" y="158.0" width="1.3" height="1.6" fill="#f2bd85" opacity="0.8"/>
<rect x="188.6" y="133.5" width="1.3" height="1.6" fill="#dadc96" opacity="0.8"/>
<rect x="284.6" y="63.7" width="1.3" height="1.6" fill="#f2bd85" opacity="0.8"/>
<rect x="206.2" y="156.5" width="1.3" height="1.6" fill="#f2bd85" opacity="0.8"/>
<rect x="249.2" y="124.3" width="1.3" height="1.6" fill="#b3a6e0" opacity="0.8"/>
<rect x="182.4" y="138.5" width="1.3" height="1.6" fill="#f2bd85" opacity="0.8"/>
<rect x="250.3" y="111.8" width="1.3" height="1.6" fill="#b3a6e0" opacity="0.8"/>
<rect x="247.7" y="67.4" width="1.3" height="1.6" fill="#b3a6e0" opacity="0.8"/>
<rect x="272.6" y="67.6" width="1.3" height="1.6" fill="#b3a6e0" opacity="0.8"/>
<rect x="237.0" y="97.2" width="1.3" height="1.6" fill="#f2bd85" opacity="0.8"/>
<rect x="261.7" y="128.6" width="1.3" height="1.6" fill="#a9d19c" opacity="0.8"/>
<rect x="194.5" y="84.1" width="1.3" height="1.6" fill="#f2bd85" opacity="0.8"/>
<rect x="188.0" y="81.5" width="1.3" height="1.6" fill="#a9d19c" opacity="0.8"/>
<rect x="205.3" y="82.5" width="1.3" height="1.6" fill="#b3a6e0" opacity="0.8"/>
<rect x="259.7" y="87.3" width="1.3" height="1.6" fill="#b3a6e0" opacity="0.8"/>
<rect x="193.6" y="122.7" width="1.3" height="1.6" fill="#a9d19c" opacity="0.8"/>
<rect x="182.9" y="125.3" width="1.3" height="1.6" fill="#f2bd85" opacity="0.8"/>
<rect x="256.0" y="124.8" width="1.3" height="1.6" fill="#b3a6e0" opacity="0.8"/>
<rect x="223.0" y="120.2" width="1.3" height="1.6" fill="#f2bd85" opacity="0.8"/>
<rect x="181.1" y="144.2" width="1.3" height="1.6" fill="#a9d19c" opacity="0.8"/>
<rect x="244.9" y="127.6" width="1.3" height="1.6" fill="#b3a6e0" opacity="0.8"/>
<rect x="269.4" y="98.3" width="1.3" height="1.6" fill="#f2bd85" opacity="0.8"/>
<rect x="253.6" y="114.1" width="1.3" height="1.6" fill="#b3a6e0" opacity="0.8"/>
<rect x="221.5" y="134.2" width="1.3" height="1.6" fill="#dadc96" opacity="0.8"/>
<rect x="178.5" y="161.6" width="1.3" height="1.6" fill="#f2bd85" opacity="0.8"/>
<rect x="186.4" y="115.1" width="1.3" height="1.6" fill="#b3a6e0" opacity="0.8"/>
<rect x="261.1" y="107.9" width="1.3" height="1.6" fill="#b3a6e0" opacity="0.8"/>
<rect x="279.5" y="50.3" width="1.3" height="1.6" fill="#f2bd85" opacity="0.8"/>
<rect x="171.7" y="103.7" width="1.3" height="1.6" fill="#dadc96" opacity="0.8"/>
<rect x="263.8" y="117.6" width="1.3" height="1.6" fill="#a9d19c" opacity="0.8"/>
<rect x="287.1" y="53.8" width="1.3" height="1.6" fill="#b3a6e0" opacity="0.8"/>
<rect x="210.6" y="125.8" width="1.3" height="1.6" fill="#a9d19c" opacity="0.8"/>
<rect x="222.4" y="112.1" width="1.3" height="1.6" fill="#b3a6e0" opacity="0.8"/>
<rect x="263.7" y="85.8" width="1.3" height="1.6" fill="#dadc96" opacity="0.8"/>
<rect x="182.1" y="129.6" width="1.3" height="1.6" fill="#f2bd85" opacity="0.8"/>
<rect x="277.3" y="54.3" width="1.3" height="1.6" fill="#f2bd85" opacity="0.8"/>
<rect x="309.1" y="144.1" width="1.3" height="1.6" fill="#f2bd85" opacity="0.8"/>
<rect x="309.1" y="161.3" width="1.3" height="1.6" fill="#a9d19c" opacity="0.8"/>
<rect x="309.6" y="121.8" width="1.3" height="1.6" fill="#a9d19c" opacity="0.8"/>
<rect x="309.5" y="153.1" width="1.3" height="1.6" fill="#a9d19c" opacity="0.8"/>
<rect x="309.4" y="143.4" width="1.3" height="1.6" fill="#f2bd85" opacity="0.8"/>
<rect x="309.2" y="134.7" width="1.3" height="1.6" fill="#a9d19c" opacity="0.8"/>
<rect x="309.3" y="157.7" width="1.3" height="1.6" fill="#b3a6e0" opacity="0.8"/>
<rect x="310.9" y="161.4" width="1.3" height="1.6" fill="#f2bd85" opacity="0.8"/>
<rect x="311.2" y="153.6" width="1.3" height="1.6" fill="#b3a6e0" opacity="0.8"/>
<rect x="310.6" y="140.2" width="1.3" height="1.6" fill="#f2bd85" opacity="0.8"/>
<rect x="321.7" y="138.3" width="1.3" height="1.6" fill="#a9d19c" opacity="0.8"/>
<rect x="321.6" y="136.5" width="1.3" height="1.6" fill="#b3a6e0" opacity="0.8"/>
<rect x="321.4" y="130.7" width="1.3" height="1.6" fill="#f2bd85" opacity="0.8"/>
<rect x="321.3" y="144.3" width="1.3" height="1.6" fill="#b3a6e0" opacity="0.8"/>
<rect x="321.1" y="114.1" width="1.3" height="1.6" fill="#a9d19c" opacity="0.8"/>
<rect x="321.5" y="153.0" width="1.3" height="1.6" fill="#dadc96" opacity="0.8"/>
<rect x="321.5" y="135.8" width="1.3" height="1.6" fill="#f2bd85" opacity="0.8"/>
<rect x="323.0" y="120.7" width="1.3" height="1.6" fill="#dadc96" opacity="0.8"/>
<rect x="323.4" y="142.0" width="1.3" height="1.6" fill="#b3a6e0" opacity="0.8"/>
<rect x="323.4" y="153.4" width="1.3" height="1.6" fill="#b3a6e0" opacity="0.8"/>
<rect x="323.1" y="145.3" width="1.3" height="1.6" fill="#b3a6e0" opacity="0.8"/>
<rect x="323.0" y="153.6" width="1.3" height="1.6" fill="#b3a6e0" opacity="0.8"/>
<rect x="344.6" y="136.4" width="1.3" height="1.6" fill="#dadc96" opacity="0.8"/>
<rect x="344.9" y="86.9" width="1.3" height="1.6" fill="#f2bd85" opacity="0.8"/>
<rect x="345.2" y="101.3" width="1.3" height="1.6" fill="#f2bd85" opacity="0.8"/>
<rect x="345.1" y="132.6" width="1.3" height="1.6" fill="#f2bd85" opacity="0.8"/>
<rect x="345.1" y="127.9" width="1.3" height="1.6" fill="#f2bd85" opacity="0.8"/>
<rect x="345.0" y="97.6" width="1.3" height="1.6" fill="#dadc96" opacity="0.8"/>
<rect x="345.2" y="133.5" width="1.3" height="1.6" fill="#b3a6e0" opacity="0.8"/>
<rect x="344.7" y="116.0" width="1.3" height="1.6" fill="#f2bd85" opacity="0.8"/>
<rect x="344.7" y="100.7" width="1.3" height="1.6" fill="#b3a6e0" opacity="0.8"/>
<rect x="344.7" y="124.1" width="1.3" height="1.6" fill="#b3a6e0" opacity="0.8"/>
<rect x="344.9" y="106.9" width="1.3" height="1.6" fill="#f2bd85" opacity="0.8"/>
<rect x="345.1" y="109.1" width="1.3" height="1.6" fill="#dadc96" opacity="0.8"/>
<rect x="344.5" y="91.8" width="1.3" height="1.6" fill="#b3a6e0" opacity="0.8"/>
<rect x="345.2" y="98.5" width="1.3" height="1.6" fill="#f2bd85" opacity="0.8"/>
<rect x="345.0" y="137.6" width="1.3" height="1.6" fill="#f2bd85" opacity="0.8"/>
<rect x="345.0" y="108.6" width="1.3" height="1.6" fill="#b3a6e0" opacity="0.8"/>
<rect x="345.2" y="124.4" width="1.3" height="1.6" fill="#b3a6e0" opacity="0.8"/>
<rect x="351.7" y="124.3" width="1.3" height="1.6" fill="#dadc96" opacity="0.8"/>
<rect x="351.3" y="145.5" width="1.3" height="1.6" fill="#dadc96" opacity="0.8"/>
<rect x="351.7" y="101.2" width="1.3" height="1.6" fill="#a9d19c" opacity="0.8"/>
<rect x="351.6" y="65.3" width="1.3" height="1.6" fill="#b3a6e0" opacity="0.8"/>
<rect x="351.2" y="98.1" width="1.3" height="1.6" fill="#b3a6e0" opacity="0.8"/>
<rect x="351.4" y="52.9" width="1.3" height="1.6" fill="#b3a6e0" opacity="0.8"/>
<rect x="351.4" y="107.3" width="1.3" height="1.6" fill="#a9d19c" opacity="0.8"/>
<rect x="351.8" y="119.6" width="1.3" height="1.6" fill="#f2bd85" opacity="0.8"/>
<rect x="351.3" y="134.1" width="1.3" height="1.6" fill="#f2bd85" opacity="0.8"/>
<rect x="351.2" y="116.8" width="1.3" height="1.6" fill="#b3a6e0" opacity="0.8"/>
<rect x="351.4" y="104.2" width="1.3" height="1.6" fill="#b3a6e0" opacity="0.8"/>
<rect x="351.5" y="54.6" width="1.3" height="1.6" fill="#dadc96" opacity="0.8"/>
<rect x="351.3" y="125.2" width="1.3" height="1.6" fill="#b3a6e0" opacity="0.8"/>
<rect x="351.3" y="153.6" width="1.3" height="1.6" fill="#b3a6e0" opacity="0.8"/>
<rect x="351.8" y="88.8" width="1.3" height="1.6" fill="#dadc96" opacity="0.8"/>
<rect x="351.9" y="128.9" width="1.3" height="1.6" fill="#a9d19c" opacity="0.8"/>
<rect x="351.3" y="121.3" width="1.3" height="1.6" fill="#f2bd85" opacity="0.8"/>
<rect x="351.7" y="111.3" width="1.3" height="1.6" fill="#b3a6e0" opacity="0.8"/>
<rect x="351.7" y="110.0" width="1.3" height="1.6" fill="#b3a6e0" opacity="0.8"/>
<rect x="351.5" y="99.7" width="1.3" height="1.6" fill="#dadc96" opacity="0.8"/>
<rect x="351.5" y="144.1" width="1.3" height="1.6" fill="#dadc96" opacity="0.8"/>
<rect x="351.3" y="105.8" width="1.3" height="1.6" fill="#b3a6e0" opacity="0.8"/>
<rect x="360.6" y="126.2" width="1.3" height="1.6" fill="#a9d19c" opacity="0.8"/>
<rect x="361.0" y="113.3" width="1.3" height="1.6" fill="#b3a6e0" opacity="0.8"/>
<rect x="360.7" y="105.2" width="1.3" height="1.6" fill="#b3a6e0" opacity="0.8"/>
<rect x="360.9" y="120.2" width="1.3" height="1.6" fill="#a9d19c" opacity="0.8"/>
<rect x="361.2" y="136.5" width="1.3" height="1.6" fill="#b3a6e0" opacity="0.8"/>
<rect x="383.5" y="118.2" width="1.3" height="1.6" fill="#b3a6e0" opacity="0.8"/>
<rect x="383.3" y="97.4" width="1.3" height="1.6" fill="#b3a6e0" opacity="0.8"/>
<rect x="383.3" y="130.4" width="1.3" height="1.6" fill="#b3a6e0" opacity="0.8"/>
<rect x="383.0" y="78.0" width="1.3" height="1.6" fill="#b3a6e0" opacity="0.8"/>
<rect x="383.2" y="97.8" width="1.3" height="1.6" fill="#f2bd85" opacity="0.8"/>
<rect x="383.1" y="102.0" width="1.3" height="1.6" fill="#b3a6e0" opacity="0.8"/>
<rect x="383.1" y="138.3" width="1.3" height="1.6" fill="#dadc96" opacity="0.8"/>
<rect x="394.6" y="123.0" width="1.3" height="1.6" fill="#b3a6e0" opacity="0.8"/>
<rect x="395.2" y="149.2" width="1.3" height="1.6" fill="#b3a6e0" opacity="0.8"/>
<rect x="394.9" y="136.2" width="1.3" height="1.6" fill="#dadc96" opacity="0.8"/>
<rect x="395.2" y="107.1" width="1.3" height="1.6" fill="#b3a6e0" opacity="0.8"/>
<rect x="395.1" y="77.8" width="1.3" height="1.6" fill="#f2bd85" opacity="0.8"/>
<rect x="394.7" y="99.2" width="1.3" height="1.6" fill="#b3a6e0" opacity="0.8"/>
<rect x="394.9" y="90.6" width="1.3" height="1.6" fill="#b3a6e0" opacity="0.8"/>
<rect x="395.0" y="100.1" width="1.3" height="1.6" fill="#dadc96" opacity="0.8"/>
<rect x="394.6" y="155.1" width="1.3" height="1.6" fill="#f2bd85" opacity="0.8"/>
<rect x="395.1" y="93.4" width="1.3" height="1.6" fill="#dadc96" opacity="0.8"/>
<rect x="394.8" y="126.9" width="1.3" height="1.6" fill="#a9d19c" opacity="0.8"/>
<rect x="394.7" y="122.7" width="1.3" height="1.6" fill="#dadc96" opacity="0.8"/>
<rect x="394.8" y="87.7" width="1.3" height="1.6" fill="#b3a6e0" opacity="0.8"/>
<rect x="395.1" y="46.1" width="1.3" height="1.6" fill="#b3a6e0" opacity="0.8"/>
<rect x="394.9" y="78.1" width="1.3" height="1.6" fill="#b3a6e0" opacity="0.8"/>
<rect x="394.5" y="83.2" width="1.3" height="1.6" fill="#a9d19c" opacity="0.8"/>
<rect x="394.6" y="32.8" width="1.3" height="1.6" fill="#b3a6e0" opacity="0.8"/>
<rect x="394.9" y="121.5" width="1.3" height="1.6" fill="#b3a6e0" opacity="0.8"/>
<rect x="394.7" y="113.1" width="1.3" height="1.6" fill="#a9d19c" opacity="0.8"/>
<rect x="394.5" y="61.4" width="1.3" height="1.6" fill="#dadc96" opacity="0.8"/>
<rect x="394.9" y="115.2" width="1.3" height="1.6" fill="#a9d19c" opacity="0.8"/>
<rect x="395.0" y="113.2" width="1.3" height="1.6" fill="#dadc96" opacity="0.8"/>
<rect x="394.5" y="91.1" width="1.3" height="1.6" fill="#f2bd85" opacity="0.8"/>
<rect x="395.1" y="91.3" width="1.3" height="1.6" fill="#b3a6e0" opacity="0.8"/>
<rect x="394.9" y="94.9" width="1.3" height="1.6" fill="#dadc96" opacity="0.8"/>
<rect x="395.0" y="40.1" width="1.3" height="1.6" fill="#b3a6e0" opacity="0.8"/>
<rect x="394.6" y="66.1" width="1.3" height="1.6" fill="#b3a6e0" opacity="0.8"/>
<rect x="395.0" y="97.0" width="1.3" height="1.6" fill="#a9d19c" opacity="0.8"/>
<rect x="407.8" y="76.9" width="1.3" height="1.6" fill="#b3a6e0" opacity="0.8"/>
<rect x="408.0" y="84.8" width="1.3" height="1.6" fill="#b3a6e0" opacity="0.8"/>
<rect x="407.8" y="82.1" width="1.3" height="1.6" fill="#b3a6e0" opacity="0.8"/>
<rect x="407.9" y="34.9" width="1.3" height="1.6" fill="#dadc96" opacity="0.8"/>
<rect x="408.0" y="133.0" width="1.3" height="1.6" fill="#f2bd85" opacity="0.8"/>
<rect x="407.5" y="136.9" width="1.3" height="1.6" fill="#b3a6e0" opacity="0.8"/>
<rect x="407.8" y="73.4" width="1.3" height="1.6" fill="#b3a6e0" opacity="0.8"/>
<rect x="407.8" y="120.6" width="1.3" height="1.6" fill="#b3a6e0" opacity="0.8"/>
<rect x="408.2" y="72.8" width="1.3" height="1.6" fill="#a9d19c" opacity="0.8"/>
<rect x="407.7" y="106.1" width="1.3" height="1.6" fill="#b3a6e0" opacity="0.8"/>
<rect x="407.9" y="56.8" width="1.3" height="1.6" fill="#b3a6e0" opacity="0.8"/>
<rect x="407.7" y="103.9" width="1.3" height="1.6" fill="#b3a6e0" opacity="0.8"/>
<rect x="408.2" y="133.4" width="1.3" height="1.6" fill="#b3a6e0" opacity="0.8"/>
<rect x="407.8" y="119.7" width="1.3" height="1.6" fill="#b3a6e0" opacity="0.8"/>
<rect x="408.2" y="93.1" width="1.3" height="1.6" fill="#a9d19c" opacity="0.8"/>
<rect x="408.2" y="99.4" width="1.3" height="1.6" fill="#dadc96" opacity="0.8"/>
<rect x="407.8" y="66.1" width="1.3" height="1.6" fill="#b3a6e0" opacity="0.8"/>
<rect x="407.8" y="60.1" width="1.3" height="1.6" fill="#f2bd85" opacity="0.8"/>
<rect x="407.6" y="135.8" width="1.3" height="1.6" fill="#b3a6e0" opacity="0.8"/>
<rect x="408.1" y="92.0" width="1.3" height="1.6" fill="#f2bd85" opacity="0.8"/>
<rect x="407.6" y="116.9" width="1.3" height="1.6" fill="#f2bd85" opacity="0.8"/>
<rect x="331.4" y="109.7" width="1.3" height="1.6" fill="#f2bd85" opacity="0.8"/>
<rect x="364.2" y="122.1" width="1.3" height="1.6" fill="#a9d19c" opacity="0.8"/>
<rect x="386.7" y="114.5" width="1.3" height="1.6" fill="#f2bd85" opacity="0.8"/>
<rect x="355.7" y="108.0" width="1.3" height="1.6" fill="#b3a6e0" opacity="0.8"/>
<rect x="388.1" y="87.6" width="1.3" height="1.6" fill="#b3a6e0" opacity="0.8"/>
<rect x="367.6" y="129.9" width="1.3" height="1.6" fill="#a9d19c" opacity="0.8"/>
<rect x="337.1" y="80.9" width="1.3" height="1.6" fill="#a9d19c" opacity="0.8"/>
<rect x="398.3" y="114.7" width="1.3" height="1.6" fill="#b3a6e0" opacity="0.8"/>
<rect x="397.0" y="89.1" width="1.3" height="1.6" fill="#b3a6e0" opacity="0.8"/>
<rect x="424.6" y="42.0" width="1.3" height="1.6" fill="#dadc96" opacity="0.8"/>
<rect x="344.6" y="156.6" width="1.3" height="1.6" fill="#dadc96" opacity="0.8"/>
<rect x="410.4" y="90.7" width="1.3" height="1.6" fill="#f2bd85" opacity="0.8"/>
<rect x="334.2" y="111.0" width="1.3" height="1.6" fill="#b3a6e0" opacity="0.8"/>
<rect x="328.2" y="120.2" width="1.3" height="1.6" fill="#b3a6e0" opacity="0.8"/>
<rect x="343.0" y="126.8" width="1.3" height="1.6" fill="#f2bd85" opacity="0.8"/>
<rect x="362.8" y="106.9" width="1.3" height="1.6" fill="#f2bd85" opacity="0.8"/>
<rect x="336.8" y="99.0" width="1.3" height="1.6" fill="#a9d19c" opacity="0.8"/>
<rect x="359.6" y="80.0" width="1.3" height="1.6" fill="#dadc96" opacity="0.8"/>
<rect x="390.7" y="78.4" width="1.3" height="1.6" fill="#dadc96" opacity="0.8"/>
<rect x="348.2" y="142.2" width="1.3" height="1.6" fill="#b3a6e0" opacity="0.8"/>
<rect x="340.6" y="117.7" width="1.3" height="1.6" fill="#b3a6e0" opacity="0.8"/>
<rect x="406.8" y="118.6" width="1.3" height="1.6" fill="#a9d19c" opacity="0.8"/>
<rect x="380.9" y="55.6" width="1.3" height="1.6" fill="#a9d19c" opacity="0.8"/>
<rect x="341.3" y="107.7" width="1.3" height="1.6" fill="#a9d19c" opacity="0.8"/>
<rect x="313.8" y="161.7" width="1.3" height="1.6" fill="#b3a6e0" opacity="0.8"/>
<rect x="385.2" y="73.6" width="1.3" height="1.6" fill="#dadc96" opacity="0.8"/>
<rect x="409.2" y="106.0" width="1.3" height="1.6" fill="#b3a6e0" opacity="0.8"/>
<rect x="401.0" y="138.6" width="1.3" height="1.6" fill="#b3a6e0" opacity="0.8"/>
<rect x="352.6" y="149.1" width="1.3" height="1.6" fill="#b3a6e0" opacity="0.8"/>
<rect x="339.7" y="139.4" width="1.3" height="1.6" fill="#a9d19c" opacity="0.8"/>
<rect x="339.1" y="145.0" width="1.3" height="1.6" fill="#f2bd85" opacity="0.8"/>
<rect x="397.3" y="123.1" width="1.3" height="1.6" fill="#b3a6e0" opacity="0.8"/>
<rect x="385.0" y="103.0" width="1.3" height="1.6" fill="#b3a6e0" opacity="0.8"/>
<rect x="413.8" y="114.5" width="1.3" height="1.6" fill="#dadc96" opacity="0.8"/>
<rect x="323.8" y="98.4" width="1.3" height="1.6" fill="#f2bd85" opacity="0.8"/>
<rect x="342.6" y="106.6" width="1.3" height="1.6" fill="#b3a6e0" opacity="0.8"/>
<rect x="413.3" y="146.9" width="1.3" height="1.6" fill="#f2bd85" opacity="0.8"/>
<rect x="350.7" y="138.8" width="1.3" height="1.6" fill="#a9d19c" opacity="0.8"/>
<rect x="344.6" y="108.2" width="1.3" height="1.6" fill="#b3a6e0" opacity="0.8"/>
<rect x="350.3" y="131.2" width="1.3" height="1.6" fill="#b3a6e0" opacity="0.8"/>
<rect x="337.0" y="121.8" width="1.3" height="1.6" fill="#f2bd85" opacity="0.8"/>
<rect x="351.6" y="108.8" width="1.3" height="1.6" fill="#b3a6e0" opacity="0.8"/>
<rect x="419.5" y="78.4" width="1.3" height="1.6" fill="#b3a6e0" opacity="0.8"/>
<rect x="397.7" y="127.1" width="1.3" height="1.6" fill="#a9d19c" opacity="0.8"/>
<rect x="311.5" y="104.0" width="1.3" height="1.6" fill="#b3a6e0" opacity="0.8"/>
<rect x="338.7" y="119.5" width="1.3" height="1.6" fill="#dadc96" opacity="0.8"/>
<rect x="361.1" y="50.8" width="1.3" height="1.6" fill="#f2bd85" opacity="0.8"/>
<rect x="322.0" y="112.8" width="1.3" height="1.6" fill="#b3a6e0" opacity="0.8"/>
<rect x="444.7" y="141.5" width="1.3" height="1.6" fill="#f2bd85" opacity="0.8"/>
<rect x="444.2" y="147.4" width="1.3" height="1.6" fill="#b3a6e0" opacity="0.8"/>
<rect x="444.1" y="149.4" width="1.3" height="1.6" fill="#b3a6e0" opacity="0.8"/>
<rect x="444.0" y="159.5" width="1.3" height="1.6" fill="#f2bd85" opacity="0.8"/>
<rect x="444.3" y="142.1" width="1.3" height="1.6" fill="#f2bd85" opacity="0.8"/>
<rect x="444.6" y="131.6" width="1.3" height="1.6" fill="#f2bd85" opacity="0.8"/>
<rect x="444.5" y="127.7" width="1.3" height="1.6" fill="#dadc96" opacity="0.8"/>
<rect x="444.7" y="145.1" width="1.3" height="1.6" fill="#b3a6e0" opacity="0.8"/>
<rect x="444.6" y="131.5" width="1.3" height="1.6" fill="#b3a6e0" opacity="0.8"/>
<rect x="444.7" y="145.7" width="1.3" height="1.6" fill="#b3a6e0" opacity="0.8"/>
<rect x="445.6" y="155.3" width="1.3" height="1.6" fill="#dadc96" opacity="0.8"/>
<rect x="445.9" y="131.0" width="1.3" height="1.6" fill="#dadc96" opacity="0.8"/>
<rect x="445.8" y="160.3" width="1.3" height="1.6" fill="#b3a6e0" opacity="0.8"/>
<rect x="445.6" y="127.8" width="1.3" height="1.6" fill="#f2bd85" opacity="0.8"/>
<rect x="445.7" y="157.2" width="1.3" height="1.6" fill="#b3a6e0" opacity="0.8"/>
<rect x="445.6" y="133.2" width="1.3" height="1.6" fill="#a9d19c" opacity="0.8"/>
<rect x="446.2" y="111.6" width="1.3" height="1.6" fill="#b3a6e0" opacity="0.8"/>
<rect x="445.5" y="153.8" width="1.3" height="1.6" fill="#b3a6e0" opacity="0.8"/>
<rect x="456.4" y="108.8" width="1.3" height="1.6" fill="#f2bd85" opacity="0.8"/>
<rect x="456.6" y="137.2" width="1.3" height="1.6" fill="#f2bd85" opacity="0.8"/>
<rect x="456.3" y="135.0" width="1.3" height="1.6" fill="#dadc96" opacity="0.8"/>
<rect x="456.6" y="130.1" width="1.3" height="1.6" fill="#a9d19c" opacity="0.8"/>
<rect x="456.2" y="152.5" width="1.3" height="1.6" fill="#f2bd85" opacity="0.8"/>
<rect x="456.2" y="129.0" width="1.3" height="1.6" fill="#a9d19c" opacity="0.8"/>
<rect x="456.6" y="127.7" width="1.3" height="1.6" fill="#b3a6e0" opacity="0.8"/>
<rect x="458.4" y="143.8" width="1.3" height="1.6" fill="#b3a6e0" opacity="0.8"/>
<rect x="458.5" y="157.9" width="1.3" height="1.6" fill="#f2bd85" opacity="0.8"/>
<rect x="458.6" y="156.6" width="1.3" height="1.6" fill="#b3a6e0" opacity="0.8"/>
<rect x="458.1" y="156.7" width="1.3" height="1.6" fill="#b3a6e0" opacity="0.8"/>
<rect x="458.1" y="128.4" width="1.3" height="1.6" fill="#a9d19c" opacity="0.8"/>
<rect x="479.8" y="108.0" width="1.3" height="1.6" fill="#b3a6e0" opacity="0.8"/>
<rect x="479.7" y="107.1" width="1.3" height="1.6" fill="#b3a6e0" opacity="0.8"/>
<rect x="479.8" y="79.8" width="1.3" height="1.6" fill="#b3a6e0" opacity="0.8"/>
<rect x="480.2" y="105.2" width="1.3" height="1.6" fill="#a9d19c" opacity="0.8"/>
<rect x="479.6" y="103.7" width="1.3" height="1.6" fill="#b3a6e0" opacity="0.8"/>
<rect x="479.7" y="122.1" width="1.3" height="1.6" fill="#b3a6e0" opacity="0.8"/>
<rect x="479.8" y="113.2" width="1.3" height="1.6" fill="#b3a6e0" opacity="0.8"/>
<rect x="480.1" y="40.9" width="1.3" height="1.6" fill="#b3a6e0" opacity="0.8"/>
<rect x="479.7" y="132.8" width="1.3" height="1.6" fill="#b3a6e0" opacity="0.8"/>
<rect x="480.1" y="110.4" width="1.3" height="1.6" fill="#dadc96" opacity="0.8"/>
<rect x="479.9" y="112.0" width="1.3" height="1.6" fill="#a9d19c" opacity="0.8"/>
<rect x="479.6" y="108.0" width="1.3" height="1.6" fill="#dadc96" opacity="0.8"/>
<rect x="479.9" y="88.4" width="1.3" height="1.6" fill="#b3a6e0" opacity="0.8"/>
<rect x="480.1" y="105.0" width="1.3" height="1.6" fill="#dadc96" opacity="0.8"/>
<rect x="480.2" y="76.9" width="1.3" height="1.6" fill="#f2bd85" opacity="0.8"/>
<rect x="480.2" y="140.4" width="1.3" height="1.6" fill="#b3a6e0" opacity="0.8"/>
<rect x="479.7" y="109.4" width="1.3" height="1.6" fill="#b3a6e0" opacity="0.8"/>
<rect x="486.3" y="123.6" width="1.3" height="1.6" fill="#f2bd85" opacity="0.8"/>
<rect x="486.2" y="99.6" width="1.3" height="1.6" fill="#b3a6e0" opacity="0.8"/>
<rect x="486.4" y="99.5" width="1.3" height="1.6" fill="#b3a6e0" opacity="0.8"/>
<rect x="486.2" y="116.0" width="1.3" height="1.6" fill="#b3a6e0" opacity="0.8"/>
<rect x="486.4" y="126.3" width="1.3" height="1.6" fill="#dadc96" opacity="0.8"/>
<rect x="486.3" y="133.3" width="1.3" height="1.6" fill="#f2bd85" opacity="0.8"/>
<rect x="486.3" y="125.6" width="1.3" height="1.6" fill="#dadc96" opacity="0.8"/>
<rect x="486.4" y="139.7" width="1.3" height="1.6" fill="#f2bd85" opacity="0.8"/>
<rect x="486.5" y="91.0" width="1.3" height="1.6" fill="#f2bd85" opacity="0.8"/>
<rect x="486.8" y="152.0" width="1.3" height="1.6" fill="#a9d19c" opacity="0.8"/>
<rect x="486.4" y="130.0" width="1.3" height="1.6" fill="#b3a6e0" opacity="0.8"/>
<rect x="486.5" y="94.1" width="1.3" height="1.6" fill="#dadc96" opacity="0.8"/>
<rect x="486.8" y="140.8" width="1.3" height="1.6" fill="#b3a6e0" opacity="0.8"/>
<rect x="486.6" y="74.9" width="1.3" height="1.6" fill="#b3a6e0" opacity="0.8"/>
<rect x="486.8" y="105.7" width="1.3" height="1.6" fill="#b3a6e0" opacity="0.8"/>
<rect x="486.2" y="95.3" width="1.3" height="1.6" fill="#b3a6e0" opacity="0.8"/>
<rect x="486.9" y="55.4" width="1.3" height="1.6" fill="#b3a6e0" opacity="0.8"/>
<rect x="486.8" y="129.9" width="1.3" height="1.6" fill="#b3a6e0" opacity="0.8"/>
<rect x="486.5" y="114.4" width="1.3" height="1.6" fill="#a9d19c" opacity="0.8"/>
<rect x="486.8" y="138.9" width="1.3" height="1.6" fill="#b3a6e0" opacity="0.8"/>
<rect x="486.2" y="140.6" width="1.3" height="1.6" fill="#dadc96" opacity="0.8"/>
<rect x="486.5" y="71.3" width="1.3" height="1.6" fill="#f2bd85" opacity="0.8"/>
<rect x="486.2" y="110.2" width="1.3" height="1.6" fill="#f2bd85" opacity="0.8"/>
<rect x="495.6" y="98.1" width="1.3" height="1.6" fill="#f2bd85" opacity="0.8"/>
<rect x="496.0" y="98.4" width="1.3" height="1.6" fill="#f2bd85" opacity="0.8"/>
<rect x="496.2" y="137.1" width="1.3" height="1.6" fill="#dadc96" opacity="0.8"/>
<rect x="495.7" y="97.5" width="1.3" height="1.6" fill="#b3a6e0" opacity="0.8"/>
<rect x="495.7" y="97.2" width="1.3" height="1.6" fill="#a9d19c" opacity="0.8"/>
<rect x="518.1" y="127.4" width="1.3" height="1.6" fill="#a9d19c" opacity="0.8"/>
<rect x="518.5" y="122.4" width="1.3" height="1.6" fill="#b3a6e0" opacity="0.8"/>
<rect x="518.2" y="83.4" width="1.3" height="1.6" fill="#b3a6e0" opacity="0.8"/>
<rect x="518.1" y="103.7" width="1.3" height="1.6" fill="#b3a6e0" opacity="0.8"/>
<rect x="518.3" y="99.9" width="1.3" height="1.6" fill="#b3a6e0" opacity="0.8"/>
<rect x="518.3" y="129.5" width="1.3" height="1.6" fill="#b3a6e0" opacity="0.8"/>
<rect x="518.1" y="101.6" width="1.3" height="1.6" fill="#dadc96" opacity="0.8"/>
<rect x="529.7" y="156.5" width="1.3" height="1.6" fill="#b3a6e0" opacity="0.8"/>
<rect x="529.8" y="118.9" width="1.3" height="1.6" fill="#b3a6e0" opacity="0.8"/>
<rect x="529.8" y="102.2" width="1.3" height="1.6" fill="#b3a6e0" opacity="0.8"/>
<rect x="529.7" y="132.0" width="1.3" height="1.6" fill="#dadc96" opacity="0.8"/>
<rect x="529.8" y="48.6" width="1.3" height="1.6" fill="#a9d19c" opacity="0.8"/>
<rect x="529.7" y="85.0" width="1.3" height="1.6" fill="#dadc96" opacity="0.8"/>
<rect x="530.0" y="137.7" width="1.3" height="1.6" fill="#a9d19c" opacity="0.8"/>
<rect x="529.5" y="117.2" width="1.3" height="1.6" fill="#a9d19c" opacity="0.8"/>
<rect x="530.1" y="95.2" width="1.3" height="1.6" fill="#f2bd85" opacity="0.8"/>
<rect x="529.8" y="97.6" width="1.3" height="1.6" fill="#a9d19c" opacity="0.8"/>
<rect x="530.1" y="103.6" width="1.3" height="1.6" fill="#b3a6e0" opacity="0.8"/>
<rect x="529.8" y="104.7" width="1.3" height="1.6" fill="#a9d19c" opacity="0.8"/>
<rect x="529.8" y="83.7" width="1.3" height="1.6" fill="#dadc96" opacity="0.8"/>
<rect x="529.5" y="124.2" width="1.3" height="1.6" fill="#f2bd85" opacity="0.8"/>
<rect x="529.8" y="155.0" width="1.3" height="1.6" fill="#f2bd85" opacity="0.8"/>
<rect x="529.5" y="98.4" width="1.3" height="1.6" fill="#f2bd85" opacity="0.8"/>
<rect x="529.8" y="146.8" width="1.3" height="1.6" fill="#f2bd85" opacity="0.8"/>
<rect x="530.0" y="128.6" width="1.3" height="1.6" fill="#b3a6e0" opacity="0.8"/>
<rect x="529.8" y="97.0" width="1.3" height="1.6" fill="#f2bd85" opacity="0.8"/>
<rect x="529.5" y="130.4" width="1.3" height="1.6" fill="#f2bd85" opacity="0.8"/>
<rect x="530.1" y="105.4" width="1.3" height="1.6" fill="#b3a6e0" opacity="0.8"/>
<rect x="529.5" y="71.0" width="1.3" height="1.6" fill="#dadc96" opacity="0.8"/>
<rect x="529.9" y="53.9" width="1.3" height="1.6" fill="#b3a6e0" opacity="0.8"/>
<rect x="529.5" y="130.9" width="1.3" height="1.6" fill="#dadc96" opacity="0.8"/>
<rect x="542.7" y="127.4" width="1.3" height="1.6" fill="#b3a6e0" opacity="0.8"/>
<rect x="542.5" y="138.7" width="1.3" height="1.6" fill="#f2bd85" opacity="0.8"/>
<rect x="542.6" y="99.0" width="1.3" height="1.6" fill="#f2bd85" opacity="0.8"/>
<rect x="542.5" y="120.4" width="1.3" height="1.6" fill="#b3a6e0" opacity="0.8"/>
<rect x="542.5" y="84.0" width="1.3" height="1.6" fill="#b3a6e0" opacity="0.8"/>
<rect x="543.1" y="145.1" width="1.3" height="1.6" fill="#f2bd85" opacity="0.8"/>
<rect x="543.1" y="132.5" width="1.3" height="1.6" fill="#b3a6e0" opacity="0.8"/>
<rect x="543.1" y="92.8" width="1.3" height="1.6" fill="#b3a6e0" opacity="0.8"/>
<rect x="543.2" y="138.8" width="1.3" height="1.6" fill="#b3a6e0" opacity="0.8"/>
<rect x="543.1" y="150.6" width="1.3" height="1.6" fill="#b3a6e0" opacity="0.8"/>
<rect x="542.5" y="141.0" width="1.3" height="1.6" fill="#f2bd85" opacity="0.8"/>
<rect x="542.9" y="139.8" width="1.3" height="1.6" fill="#a9d19c" opacity="0.8"/>
<rect x="542.6" y="136.7" width="1.3" height="1.6" fill="#a9d19c" opacity="0.8"/>
<rect x="542.7" y="121.6" width="1.3" height="1.6" fill="#a9d19c" opacity="0.8"/>
<rect x="543.0" y="108.1" width="1.3" height="1.6" fill="#f2bd85" opacity="0.8"/>
<rect x="543.0" y="123.4" width="1.3" height="1.6" fill="#b3a6e0" opacity="0.8"/>
<rect x="543.0" y="129.9" width="1.3" height="1.6" fill="#dadc96" opacity="0.8"/>
<rect x="542.6" y="121.1" width="1.3" height="1.6" fill="#a9d19c" opacity="0.8"/>
<rect x="542.8" y="129.6" width="1.3" height="1.6" fill="#f2bd85" opacity="0.8"/>
<rect x="456.2" y="122.1" width="1.3" height="1.6" fill="#b3a6e0" opacity="0.8"/>
<rect x="471.6" y="108.2" width="1.3" height="1.6" fill="#b3a6e0" opacity="0.8"/>
<rect x="559.2" y="111.8" width="1.3" height="1.6" fill="#b3a6e0" opacity="0.8"/>
<rect x="544.4" y="85.5" width="1.3" height="1.6" fill="#dadc96" opacity="0.8"/>
<rect x="489.4" y="138.3" width="1.3" height="1.6" fill="#f2bd85" opacity="0.8"/>
<rect x="485.4" y="149.1" width="1.3" height="1.6" fill="#f2bd85" opacity="0.8"/>
<rect x="489.5" y="82.2" width="1.3" height="1.6" fill="#b3a6e0" opacity="0.8"/>
<rect x="482.1" y="129.7" width="1.3" height="1.6" fill="#a9d19c" opacity="0.8"/>
<rect x="490.6" y="99.5" width="1.3" height="1.6" fill="#b3a6e0" opacity="0.8"/>
<rect x="544.7" y="128.9" width="1.3" height="1.6" fill="#b3a6e0" opacity="0.8"/>
<rect x="467.7" y="152.2" width="1.3" height="1.6" fill="#f2bd85" opacity="0.8"/>
<rect x="487.0" y="114.6" width="1.3" height="1.6" fill="#f2bd85" opacity="0.8"/>
<rect x="517.0" y="74.0" width="1.3" height="1.6" fill="#b3a6e0" opacity="0.8"/>
<rect x="490.7" y="107.5" width="1.3" height="1.6" fill="#b3a6e0" opacity="0.8"/>
<rect x="475.7" y="156.6" width="1.3" height="1.6" fill="#a9d19c" opacity="0.8"/>
<rect x="442.4" y="138.4" width="1.3" height="1.6" fill="#b3a6e0" opacity="0.8"/>
<rect x="456.6" y="135.9" width="1.3" height="1.6" fill="#dadc96" opacity="0.8"/>
<rect x="470.8" y="108.3" width="1.3" height="1.6" fill="#dadc96" opacity="0.8"/>
<rect x="545.6" y="140.4" width="1.3" height="1.6" fill="#dadc96" opacity="0.8"/>
<rect x="511.1" y="98.2" width="1.3" height="1.6" fill="#b3a6e0" opacity="0.8"/>
<rect x="451.4" y="137.1" width="1.3" height="1.6" fill="#b3a6e0" opacity="0.8"/>
<rect x="523.8" y="122.1" width="1.3" height="1.6" fill="#dadc96" opacity="0.8"/>
<rect x="496.7" y="116.8" width="1.3" height="1.6" fill="#b3a6e0" opacity="0.8"/>
<rect x="461.1" y="104.6" width="1.3" height="1.6" fill="#a9d19c" opacity="0.8"/>
<rect x="512.9" y="109.7" width="1.3" height="1.6" fill="#b3a6e0" opacity="0.8"/>
<rect x="557.0" y="156.2" width="1.3" height="1.6" fill="#dadc96" opacity="0.8"/>
<rect x="468.2" y="131.5" width="1.3" height="1.6" fill="#f2bd85" opacity="0.8"/>
<rect x="524.3" y="125.6" width="1.3" height="1.6" fill="#f2bd85" opacity="0.8"/>
<rect x="518.9" y="112.5" width="1.3" height="1.6" fill="#dadc96" opacity="0.8"/>
<rect x="518.9" y="129.5" width="1.3" height="1.6" fill="#b3a6e0" opacity="0.8"/>
<rect x="539.7" y="113.1" width="1.3" height="1.6" fill="#dadc96" opacity="0.8"/>
<rect x="450.8" y="139.6" width="1.3" height="1.6" fill="#b3a6e0" opacity="0.8"/>
<rect x="554.9" y="111.8" width="1.3" height="1.6" fill="#b3a6e0" opacity="0.8"/>
<rect x="519.8" y="66.9" width="1.3" height="1.6" fill="#a9d19c" opacity="0.8"/>
<rect x="497.2" y="133.1" width="1.3" height="1.6" fill="#b3a6e0" opacity="0.8"/>
<rect x="442.7" y="122.3" width="1.3" height="1.6" fill="#dadc96" opacity="0.8"/>
<rect x="484.4" y="147.2" width="1.3" height="1.6" fill="#b3a6e0" opacity="0.8"/>
<rect x="482.6" y="69.9" width="1.3" height="1.6" fill="#f2bd85" opacity="0.8"/>
<rect x="507.6" y="157.6" width="1.3" height="1.6" fill="#b3a6e0" opacity="0.8"/>
<rect x="476.7" y="118.2" width="1.3" height="1.6" fill="#f2bd85" opacity="0.8"/>
<rect x="508.0" y="128.6" width="1.3" height="1.6" fill="#a9d19c" opacity="0.8"/>
<rect x="451.4" y="149.3" width="1.3" height="1.6" fill="#f2bd85" opacity="0.8"/>
<rect x="477.6" y="112.5" width="1.3" height="1.6" fill="#f2bd85" opacity="0.8"/>
<rect x="490.1" y="130.6" width="1.3" height="1.6" fill="#b3a6e0" opacity="0.8"/>
<rect x="558.6" y="113.7" width="1.3" height="1.6" fill="#b3a6e0" opacity="0.8"/>
<rect x="495.5" y="102.3" width="1.3" height="1.6" fill="#dadc96" opacity="0.8"/>
<rect x="547.8" y="140.3" width="1.3" height="1.6" fill="#b3a6e0" opacity="0.8"/>
<rect x="556.3" y="97.4" width="1.3" height="1.6" fill="#f2bd85" opacity="0.8"/>
<rect x="461.5" y="83.3" width="1.3" height="1.6" fill="#a9d19c" opacity="0.8"/>
<rect x="555.5" y="79.6" width="1.3" height="1.6" fill="#f2bd85" opacity="0.8"/>
<rect x="37.6" y="314.4" width="1.3" height="1.6" fill="#dadc96" opacity="0.8"/>
<rect x="37.5" y="300.9" width="1.3" height="1.6" fill="#a9d19c" opacity="0.8"/>
<rect x="37.0" y="301.6" width="1.3" height="1.6" fill="#f2bd85" opacity="0.8"/>
<rect x="37.3" y="318.2" width="1.3" height="1.6" fill="#b3a6e0" opacity="0.8"/>
<rect x="37.6" y="324.9" width="1.3" height="1.6" fill="#dadc96" opacity="0.8"/>
<rect x="37.3" y="300.8" width="1.3" height="1.6" fill="#b3a6e0" opacity="0.8"/>
<rect x="37.0" y="307.0" width="1.3" height="1.6" fill="#f2bd85" opacity="0.8"/>
<rect x="37.2" y="319.2" width="1.3" height="1.6" fill="#f2bd85" opacity="0.8"/>
<rect x="37.7" y="289.6" width="1.3" height="1.6" fill="#f2bd85" opacity="0.8"/>
<rect x="37.7" y="311.4" width="1.3" height="1.6" fill="#f2bd85" opacity="0.8"/>
<rect x="38.7" y="315.6" width="1.3" height="1.6" fill="#a9d19c" opacity="0.8"/>
<rect x="38.9" y="307.2" width="1.3" height="1.6" fill="#a9d19c" opacity="0.8"/>
<rect x="38.8" y="311.1" width="1.3" height="1.6" fill="#dadc96" opacity="0.8"/>
<rect x="39.0" y="315.7" width="1.3" height="1.6" fill="#b3a6e0" opacity="0.8"/>
<rect x="39.1" y="306.5" width="1.3" height="1.6" fill="#b3a6e0" opacity="0.8"/>
<rect x="38.6" y="316.0" width="1.3" height="1.6" fill="#b3a6e0" opacity="0.8"/>
<rect x="38.6" y="300.8" width="1.3" height="1.6" fill="#dadc96" opacity="0.8"/>
<rect x="39.0" y="318.3" width="1.3" height="1.6" fill="#b3a6e0" opacity="0.8"/>
<rect x="49.4" y="325.4" width="1.3" height="1.6" fill="#b3a6e0" opacity="0.8"/>
<rect x="49.3" y="313.7" width="1.3" height="1.6" fill="#f2bd85" opacity="0.8"/>
<rect x="49.0" y="326.9" width="1.3" height="1.6" fill="#b3a6e0" opacity="0.8"/>
<rect x="49.2" y="311.5" width="1.3" height="1.6" fill="#f2bd85" opacity="0.8"/>
<rect x="49.2" y="311.6" width="1.3" height="1.6" fill="#a9d19c" opacity="0.8"/>
<rect x="49.0" y="303.7" width="1.3" height="1.6" fill="#f2bd85" opacity="0.8"/>
<rect x="51.3" y="330.6" width="1.3" height="1.6" fill="#b3a6e0" opacity="0.8"/>
<rect x="51.6" y="283.2" width="1.3" height="1.6" fill="#b3a6e0" opacity="0.8"/>
<rect x="51.2" y="307.1" width="1.3" height="1.6" fill="#b3a6e0" opacity="0.8"/>
<rect x="51.5" y="306.2" width="1.3" height="1.6" fill="#f2bd85" opacity="0.8"/>
<rect x="73.0" y="291.8" width="1.3" height="1.6" fill="#f2bd85" opacity="0.8"/>
<rect x="72.8" y="307.8" width="1.3" height="1.6" fill="#b3a6e0" opacity="0.8"/>
<rect x="72.7" y="302.8" width="1.3" height="1.6" fill="#b3a6e0" opacity="0.8"/>
<rect x="72.6" y="319.2" width="1.3" height="1.6" fill="#dadc96" opacity="0.8"/>
<rect x="72.8" y="295.0" width="1.3" height="1.6" fill="#dadc96" opacity="0.8"/>
<rect x="72.9" y="320.4" width="1.3" height="1.6" fill="#f2bd85" opacity="0.8"/>
<rect x="73.0" y="243.3" width="1.3" height="1.6" fill="#a9d19c" opacity="0.8"/>
<rect x="73.2" y="280.6" width="1.3" height="1.6" fill="#f2bd85" opacity="0.8"/>
<rect x="73.1" y="300.3" width="1.3" height="1.6" fill="#b3a6e0" opacity="0.8"/>
<rect x="72.8" y="265.5" width="1.3" height="1.6" fill="#f2bd85" opacity="0.8"/>
<rect x="72.5" y="267.8" width="1.3" height="1.6" fill="#dadc96" opacity="0.8"/>
<rect x="72.5" y="232.3" width="1.3" height="1.6" fill="#dadc96" opacity="0.8"/>
<rect x="72.8" y="294.1" width="1.3" height="1.6" fill="#dadc96" opacity="0.8"/>
<rect x="73.1" y="286.6" width="1.3" height="1.6" fill="#f2bd85" opacity="0.8"/>
<rect x="72.5" y="247.5" width="1.3" height="1.6" fill="#a9d19c" opacity="0.8"/>
<rect x="73.2" y="318.5" width="1.3" height="1.6" fill="#b3a6e0" opacity="0.8"/>
<rect x="72.5" y="269.4" width="1.3" height="1.6" fill="#a9d19c" opacity="0.8"/>
<rect x="79.6" y="314.3" width="1.3" height="1.6" fill="#a9d19c" opacity="0.8"/>
<rect x="79.3" y="312.8" width="1.3" height="1.6" fill="#dadc96" opacity="0.8"/>
<rect x="79.9" y="263.3" width="1.3" height="1.6" fill="#dadc96" opacity="0.8"/>
<rect x="79.8" y="314.3" width="1.3" height="1.6" fill="#b3a6e0" opacity="0.8"/>
<rect x="79.9" y="287.9" width="1.3" height="1.6" fill="#f2bd85" opacity="0.8"/>
<rect x="79.7" y="296.6" width="1.3" height="1.6" fill="#b3a6e0" opacity="0.8"/>
<rect x="79.8" y="326.8" width="1.3" height="1.6" fill="#a9d19c" opacity="0.8"/>
<rect x="79.8" y="280.1" width="1.3" height="1.6" fill="#f2bd85" opacity="0.8"/>
<rect x="79.8" y="325.7" width="1.3" height="1.6" fill="#b3a6e0" opacity="0.8"/>
<rect x="79.3" y="293.0" width="1.3" height="1.6" fill="#dadc96" opacity="0.8"/>
<rect x="79.5" y="299.9" width="1.3" height="1.6" fill="#b3a6e0" opacity="0.8"/>
<rect x="79.6" y="310.2" width="1.3" height="1.6" fill="#f2bd85" opacity="0.8"/>
<rect x="79.5" y="252.3" width="1.3" height="1.6" fill="#dadc96" opacity="0.8"/>
<rect x="79.9" y="297.5" width="1.3" height="1.6" fill="#a9d19c" opacity="0.8"/>
<rect x="79.2" y="278.5" width="1.3" height="1.6" fill="#b3a6e0" opacity="0.8"/>
<rect x="79.7" y="253.0" width="1.3" height="1.6" fill="#b3a6e0" opacity="0.8"/>
<rect x="79.2" y="298.1" width="1.3" height="1.6" fill="#f2bd85" opacity="0.8"/>
<rect x="79.5" y="269.8" width="1.3" height="1.6" fill="#b3a6e0" opacity="0.8"/>
<rect x="79.2" y="288.7" width="1.3" height="1.6" fill="#f2bd85" opacity="0.8"/>
<rect x="79.9" y="264.1" width="1.3" height="1.6" fill="#b3a6e0" opacity="0.8"/>
<rect x="79.2" y="323.2" width="1.3" height="1.6" fill="#f2bd85" opacity="0.8"/>
<rect x="79.8" y="277.5" width="1.3" height="1.6" fill="#b3a6e0" opacity="0.8"/>
<rect x="88.6" y="298.6" width="1.3" height="1.6" fill="#dadc96" opacity="0.8"/>
<rect x="88.7" y="295.5" width="1.3" height="1.6" fill="#a9d19c" opacity="0.8"/>
<rect x="88.6" y="297.5" width="1.3" height="1.6" fill="#f2bd85" opacity="0.8"/>
<rect x="88.7" y="303.9" width="1.3" height="1.6" fill="#dadc96" opacity="0.8"/>
<rect x="88.6" y="281.9" width="1.3" height="1.6" fill="#b3a6e0" opacity="0.8"/>
<rect x="111.6" y="281.6" width="1.3" height="1.6" fill="#b3a6e0" opacity="0.8"/>
<rect x="111.6" y="265.9" width="1.3" height="1.6" fill="#b3a6e0" opacity="0.8"/>
<rect x="111.1" y="249.0" width="1.3" height="1.6" fill="#f2bd85" opacity="0.8"/>
<rect x="111.2" y="286.5" width="1.3" height="1.6" fill="#b3a6e0" opacity="0.8"/>
<rect x="111.5" y="266.8" width="1.3" height="1.6" fill="#dadc96" opacity="0.8"/>
<rect x="111.7" y="257.3" width="1.3" height="1.6" fill="#a9d19c" opacity="0.8"/>
<rect x="111.1" y="305.5" width="1.3" height="1.6" fill="#b3a6e0" opacity="0.8"/>
<rect x="123.0" y="306.8" width="1.3" height="1.6" fill="#b3a6e0" opacity="0.8"/>
<rect x="122.7" y="270.3" width="1.3" height="1.6" fill="#b3a6e0" opacity="0.8"/>
<rect x="122.5" y="291.5" width="1.3" height="1.6" fill="#b3a6e0" opacity="0.8"/>
<rect x="122.7" y="293.8" width="1.3" height="1.6" fill="#dadc96" opacity="0.8"/>
<rect x="123.1" y="261.0" width="1.3" height="1.6" fill="#b3a6e0" opacity="0.8"/>
<rect x="122.9" y="247.6" width="1.3" height="1.6" fill="#b3a6e0" opacity="0.8"/>
<rect x="122.6" y="260.0" width="1.3" height="1.6" fill="#a9d19c" opacity="0.8"/>
<rect x="123.1" y="265.1" width="1.3" height="1.6" fill="#f2bd85" opacity="0.8"/>
<rect x="122.7" y="212.0" width="1.3" height="1.6" fill="#b3a6e0" opacity="0.8"/>
<rect x="123.1" y="211.9" width="1.3" height="1.6" fill="#a9d19c" opacity="0.8"/>
<rect x="122.8" y="291.1" width="1.3" height="1.6" fill="#b3a6e0" opacity="0.8"/>
<rect x="123.2" y="252.7" width="1.3" height="1.6" fill="#b3a6e0" opacity="0.8"/>
<rect x="122.7" y="236.1" width="1.3" height="1.6" fill="#f2bd85" opacity="0.8"/>
<rect x="123.2" y="254.6" width="1.3" height="1.6" fill="#b3a6e0" opacity="0.8"/>
<rect x="123.0" y="327.1" width="1.3" height="1.6" fill="#a9d19c" opacity="0.8"/>
<rect x="123.2" y="316.5" width="1.3" height="1.6" fill="#b3a6e0" opacity="0.8"/>
<rect x="122.6" y="300.1" width="1.3" height="1.6" fill="#b3a6e0" opacity="0.8"/>
<rect x="122.7" y="291.2" width="1.3" height="1.6" fill="#b3a6e0" opacity="0.8"/>
<rect x="123.0" y="273.4" width="1.3" height="1.6" fill="#a9d19c" opacity="0.8"/>
<rect x="122.5" y="256.2" width="1.3" height="1.6" fill="#b3a6e0" opacity="0.8"/>
<rect x="123.2" y="223.2" width="1.3" height="1.6" fill="#a9d19c" opacity="0.8"/>
<rect x="122.5" y="252.8" width="1.3" height="1.6" fill="#f2bd85" opacity="0.8"/>
<rect x="123.0" y="243.5" width="1.3" height="1.6" fill="#f2bd85" opacity="0.8"/>
<rect x="122.8" y="261.3" width="1.3" height="1.6" fill="#f2bd85" opacity="0.8"/>
<rect x="135.6" y="300.0" width="1.3" height="1.6" fill="#f2bd85" opacity="0.8"/>
<rect x="135.5" y="327.2" width="1.3" height="1.6" fill="#b3a6e0" opacity="0.8"/>
<rect x="135.5" y="250.2" width="1.3" height="1.6" fill="#f2bd85" opacity="0.8"/>
<rect x="135.7" y="288.8" width="1.3" height="1.6" fill="#b3a6e0" opacity="0.8"/>
<rect x="136.2" y="290.1" width="1.3" height="1.6" fill="#b3a6e0" opacity="0.8"/>
<rect x="136.2" y="307.8" width="1.3" height="1.6" fill="#dadc96" opacity="0.8"/>
<rect x="135.9" y="327.1" width="1.3" height="1.6" fill="#b3a6e0" opacity="0.8"/>
<rect x="135.9" y="235.0" width="1.3" height="1.6" fill="#dadc96" opacity="0.8"/>
<rect x="135.7" y="270.7" width="1.3" height="1.6" fill="#f2bd85" opacity="0.8"/>
<rect x="135.5" y="250.4" width="1.3" height="1.6" fill="#b3a6e0" opacity="0.8"/>
<rect x="135.5" y="215.5" width="1.3" height="1.6" fill="#b3a6e0" opacity="0.8"/>
<rect x="136.1" y="277.3" width="1.3" height="1.6" fill="#b3a6e0" opacity="0.8"/>
<rect x="135.6" y="291.8" width="1.3" height="1.6" fill="#b3a6e0" opacity="0.8"/>
<rect x="136.0" y="284.2" width="1.3" height="1.6" fill="#b3a6e0" opacity="0.8"/>
<rect x="136.0" y="249.2" width="1.3" height="1.6" fill="#dadc96" opacity="0.8"/>
<rect x="135.5" y="281.3" width="1.3" height="1.6" fill="#b3a6e0" opacity="0.8"/>
<rect x="136.1" y="331.2" width="1.3" height="1.6" fill="#f2bd85" opacity="0.8"/>
<rect x="135.7" y="306.4" width="1.3" height="1.6" fill="#f2bd85" opacity="0.8"/>
<rect x="135.6" y="291.2" width="1.3" height="1.6" fill="#dadc96" opacity="0.8"/>
<rect x="135.9" y="313.3" width="1.3" height="1.6" fill="#b3a6e0" opacity="0.8"/>
<rect x="135.7" y="260.9" width="1.3" height="1.6" fill="#a9d19c" opacity="0.8"/>
<rect x="135.6" y="281.7" width="1.3" height="1.6" fill="#a9d19c" opacity="0.8"/>
<rect x="138.8" y="294.4" width="1.3" height="1.6" fill="#b3a6e0" opacity="0.8"/>
<rect x="87.6" y="301.7" width="1.3" height="1.6" fill="#b3a6e0" opacity="0.8"/>
<rect x="127.1" y="262.2" width="1.3" height="1.6" fill="#a9d19c" opacity="0.8"/>
<rect x="106.5" y="289.2" width="1.3" height="1.6" fill="#f2bd85" opacity="0.8"/>
<rect x="96.1" y="278.0" width="1.3" height="1.6" fill="#b3a6e0" opacity="0.8"/>
<rect x="41.7" y="263.9" width="1.3" height="1.6" fill="#b3a6e0" opacity="0.8"/>
<rect x="114.1" y="263.6" width="1.3" height="1.6" fill="#dadc96" opacity="0.8"/>
<rect x="93.8" y="305.2" width="1.3" height="1.6" fill="#f2bd85" opacity="0.8"/>
<rect x="59.8" y="233.8" width="1.3" height="1.6" fill="#b3a6e0" opacity="0.8"/>
<rect x="113.6" y="310.2" width="1.3" height="1.6" fill="#b3a6e0" opacity="0.8"/>
<rect x="142.3" y="314.9" width="1.3" height="1.6" fill="#b3a6e0" opacity="0.8"/>
<rect x="83.7" y="289.1" width="1.3" height="1.6" fill="#a9d19c" opacity="0.8"/>
<rect x="126.9" y="246.1" width="1.3" height="1.6" fill="#f2bd85" opacity="0.8"/>
<rect x="141.7" y="329.3" width="1.3" height="1.6" fill="#f2bd85" opacity="0.8"/>
<rect x="104.5" y="271.2" width="1.3" height="1.6" fill="#dadc96" opacity="0.8"/>
<rect x="142.4" y="255.4" width="1.3" height="1.6" fill="#b3a6e0" opacity="0.8"/>
<rect x="93.2" y="274.9" width="1.3" height="1.6" fill="#b3a6e0" opacity="0.8"/>
<rect x="50.9" y="317.0" width="1.3" height="1.6" fill="#b3a6e0" opacity="0.8"/>
<rect x="52.9" y="289.2" width="1.3" height="1.6" fill="#b3a6e0" opacity="0.8"/>
<rect x="74.5" y="299.8" width="1.3" height="1.6" fill="#b3a6e0" opacity="0.8"/>
<rect x="50.7" y="295.1" width="1.3" height="1.6" fill="#b3a6e0" opacity="0.8"/>
<rect x="62.1" y="240.0" width="1.3" height="1.6" fill="#a9d19c" opacity="0.8"/>
<rect x="114.6" y="299.3" width="1.3" height="1.6" fill="#a9d19c" opacity="0.8"/>
<rect x="87.8" y="256.9" width="1.3" height="1.6" fill="#b3a6e0" opacity="0.8"/>
<rect x="120.3" y="278.9" width="1.3" height="1.6" fill="#dadc96" opacity="0.8"/>
<rect x="42.4" y="302.8" width="1.3" height="1.6" fill="#b3a6e0" opacity="0.8"/>
<rect x="120.2" y="258.5" width="1.3" height="1.6" fill="#b3a6e0" opacity="0.8"/>
<rect x="55.6" y="295.3" width="1.3" height="1.6" fill="#b3a6e0" opacity="0.8"/>
<rect x="66.4" y="253.0" width="1.3" height="1.6" fill="#f2bd85" opacity="0.8"/>
<rect x="124.6" y="259.6" width="1.3" height="1.6" fill="#f2bd85" opacity="0.8"/>
<rect x="35.8" y="332.5" width="1.3" height="1.6" fill="#b3a6e0" opacity="0.8"/>
<rect x="149.9" y="325.7" width="1.3" height="1.6" fill="#b3a6e0" opacity="0.8"/>
<rect x="52.9" y="292.2" width="1.3" height="1.6" fill="#b3a6e0" opacity="0.8"/>
<rect x="109.8" y="294.1" width="1.3" height="1.6" fill="#f2bd85" opacity="0.8"/>
<rect x="88.6" y="306.3" width="1.3" height="1.6" fill="#f2bd85" opacity="0.8"/>
<rect x="152.5" y="279.3" width="1.3" height="1.6" fill="#b3a6e0" opacity="0.8"/>
<rect x="146.2" y="287.8" width="1.3" height="1.6" fill="#a9d19c" opacity="0.8"/>
<rect x="36.8" y="312.3" width="1.3" height="1.6" fill="#b3a6e0" opacity="0.8"/>
<rect x="67.4" y="275.2" width="1.3" height="1.6" fill="#b3a6e0" opacity="0.8"/>
<rect x="54.4" y="306.9" width="1.3" height="1.6" fill="#b3a6e0" opacity="0.8"/>
<rect x="36.7" y="290.8" width="1.3" height="1.6" fill="#f2bd85" opacity="0.8"/>
<rect x="129.0" y="235.8" width="1.3" height="1.6" fill="#f2bd85" opacity="0.8"/>
<rect x="36.8" y="310.3" width="1.3" height="1.6" fill="#b3a6e0" opacity="0.8"/>
<rect x="35.7" y="307.5" width="1.3" height="1.6" fill="#b3a6e0" opacity="0.8"/>
<rect x="134.8" y="291.1" width="1.3" height="1.6" fill="#f2bd85" opacity="0.8"/>
<rect x="77.8" y="258.6" width="1.3" height="1.6" fill="#b3a6e0" opacity="0.8"/>
<rect x="53.6" y="315.5" width="1.3" height="1.6" fill="#b3a6e0" opacity="0.8"/>
<rect x="139.0" y="261.8" width="1.3" height="1.6" fill="#f2bd85" opacity="0.8"/>
<rect x="103.7" y="259.4" width="1.3" height="1.6" fill="#b3a6e0" opacity="0.8"/>
<rect x="73.4" y="316.9" width="1.3" height="1.6" fill="#f2bd85" opacity="0.8"/>
<rect x="135.4" y="274.0" width="1.3" height="1.6" fill="#a9d19c" opacity="0.8"/>
<rect x="53.2" y="228.3" width="1.3" height="1.6" fill="#b3a6e0" opacity="0.8"/>
<rect x="173.1" y="309.4" width="1.3" height="1.6" fill="#dadc96" opacity="0.8"/>
<rect x="173.3" y="309.9" width="1.3" height="1.6" fill="#f2bd85" opacity="0.8"/>
<rect x="173.7" y="301.5" width="1.3" height="1.6" fill="#a9d19c" opacity="0.8"/>
<rect x="173.0" y="310.3" width="1.3" height="1.6" fill="#a9d19c" opacity="0.8"/>
<rect x="173.4" y="317.8" width="1.3" height="1.6" fill="#f2bd85" opacity="0.8"/>
<rect x="173.5" y="280.0" width="1.3" height="1.6" fill="#f2bd85" opacity="0.8"/>
<rect x="173.0" y="312.2" width="1.3" height="1.6" fill="#a9d19c" opacity="0.8"/>
<rect x="173.6" y="300.5" width="1.3" height="1.6" fill="#f2bd85" opacity="0.8"/>
<rect x="173.3" y="311.9" width="1.3" height="1.6" fill="#f2bd85" opacity="0.8"/>
<rect x="173.0" y="325.5" width="1.3" height="1.6" fill="#f2bd85" opacity="0.8"/>
<rect x="175.2" y="319.9" width="1.3" height="1.6" fill="#b3a6e0" opacity="0.8"/>
<rect x="174.7" y="308.3" width="1.3" height="1.6" fill="#b3a6e0" opacity="0.8"/>
<rect x="174.6" y="326.0" width="1.3" height="1.6" fill="#b3a6e0" opacity="0.8"/>
<rect x="174.6" y="323.1" width="1.3" height="1.6" fill="#b3a6e0" opacity="0.8"/>
<rect x="174.9" y="289.1" width="1.3" height="1.6" fill="#a9d19c" opacity="0.8"/>
<rect x="174.8" y="295.2" width="1.3" height="1.6" fill="#b3a6e0" opacity="0.8"/>
<rect x="174.6" y="319.1" width="1.3" height="1.6" fill="#f2bd85" opacity="0.8"/>
<rect x="174.7" y="302.8" width="1.3" height="1.6" fill="#f2bd85" opacity="0.8"/>
<rect x="185.5" y="328.6" width="1.3" height="1.6" fill="#b3a6e0" opacity="0.8"/>
<rect x="185.7" y="300.5" width="1.3" height="1.6" fill="#b3a6e0" opacity="0.8"/>
<rect x="185.5" y="290.8" width="1.3" height="1.6" fill="#b3a6e0" opacity="0.8"/>
<rect x="185.2" y="314.4" width="1.3" height="1.6" fill="#dadc96" opacity="0.8"/>
<rect x="185.0" y="282.8" width="1.3" height="1.6" fill="#b3a6e0" opacity="0.8"/>
<rect x="185.7" y="281.9" width="1.3" height="1.6" fill="#b3a6e0" opacity="0.8"/>
<rect x="185.7" y="310.8" width="1.3" height="1.6" fill="#b3a6e0" opacity="0.8"/>
<rect x="187.4" y="296.7" width="1.3" height="1.6" fill="#a9d19c" opacity="0.8"/>
<rect x="187.7" y="291.5" width="1.3" height="1.6" fill="#f2bd85" opacity="0.8"/>
<rect x="187.1" y="303.0" width="1.3" height="1.6" fill="#a9d19c" opacity="0.8"/>
<rect x="187.7" y="302.0" width="1.3" height="1.6" fill="#b3a6e0" opacity="0.8"/>
<rect x="187.4" y="316.1" width="1.3" height="1.6" fill="#b3a6e0" opacity="0.8"/>
<rect x="209.1" y="282.6" width="1.3" height="1.6" fill="#dadc96" opacity="0.8"/>
<rect x="209.0" y="295.4" width="1.3" height="1.6" fill="#b3a6e0" opacity="0.8"/>
<rect x="209.1" y="285.3" width="1.3" height="1.6" fill="#f2bd85" opacity="0.8"/>
<rect x="209.1" y="274.5" width="1.3" height="1.6" fill="#dadc96" opacity="0.8"/>
<rect x="209.0" y="319.2" width="1.3" height="1.6" fill="#f2bd85" opacity="0.8"/>
<rect x="208.6" y="299.1" width="1.3" height="1.6" fill="#f2bd85" opacity="0.8"/>
<rect x="208.8" y="297.0" width="1.3" height="1.6" fill="#b3a6e0" opacity="0.8"/>
<rect x="208.6" y="291.7" width="1.3" height="1.6" fill="#b3a6e0" opacity="0.8"/>
<rect x="208.9" y="289.2" width="1.3" height="1.6" fill="#b3a6e0" opacity="0.8"/>
<rect x="208.8" y="290.0" width="1.3" height="1.6" fill="#b3a6e0" opacity="0.8"/>
<rect x="209.0" y="296.6" width="1.3" height="1.6" fill="#b3a6e0" opacity="0.8"/>
<rect x="208.7" y="293.1" width="1.3" height="1.6" fill="#b3a6e0" opacity="0.8"/>
<rect x="208.9" y="273.5" width="1.3" height="1.6" fill="#b3a6e0" opacity="0.8"/>
<rect x="209.1" y="279.5" width="1.3" height="1.6" fill="#f2bd85" opacity="0.8"/>
<rect x="208.5" y="288.1" width="1.3" height="1.6" fill="#b3a6e0" opacity="0.8"/>
<rect x="208.5" y="315.1" width="1.3" height="1.6" fill="#b3a6e0" opacity="0.8"/>
<rect x="215.8" y="320.2" width="1.3" height="1.6" fill="#f2bd85" opacity="0.8"/>
<rect x="215.3" y="267.8" width="1.3" height="1.6" fill="#f2bd85" opacity="0.8"/>
<rect x="215.5" y="308.4" width="1.3" height="1.6" fill="#b3a6e0" opacity="0.8"/>
<rect x="215.4" y="274.1" width="1.3" height="1.6" fill="#b3a6e0" opacity="0.8"/>
<rect x="215.9" y="312.3" width="1.3" height="1.6" fill="#dadc96" opacity="0.8"/>
<rect x="215.9" y="276.2" width="1.3" height="1.6" fill="#f2bd85" opacity="0.8"/>
<rect x="215.5" y="272.2" width="1.3" height="1.6" fill="#dadc96" opacity="0.8"/>
<rect x="215.5" y="310.8" width="1.3" height="1.6" fill="#f2bd85" opacity="0.8"/>
<rect x="215.8" y="292.1" width="1.3" height="1.6" fill="#f2bd85" opacity="0.8"/>
<rect x="215.9" y="255.6" width="1.3" height="1.6" fill="#f2bd85" opacity="0.8"/>
<rect x="215.6" y="281.5" width="1.3" height="1.6" fill="#b3a6e0" opacity="0.8"/>
<rect x="215.3" y="291.9" width="1.3" height="1.6" fill="#b3a6e0" opacity="0.8"/>
<rect x="215.9" y="298.3" width="1.3" height="1.6" fill="#dadc96" opacity="0.8"/>
<rect x="215.8" y="281.7" width="1.3" height="1.6" fill="#b3a6e0" opacity="0.8"/>
<rect x="215.7" y="283.4" width="1.3" height="1.6" fill="#f2bd85" opacity="0.8"/>
<rect x="215.2" y="274.4" width="1.3" height="1.6" fill="#a9d19c" opacity="0.8"/>
<rect x="215.9" y="306.0" width="1.3" height="1.6" fill="#b3a6e0" opacity="0.8"/>
<rect x="215.9" y="299.8" width="1.3" height="1.6" fill="#b3a6e0" opacity="0.8"/>
<rect x="215.2" y="303.8" width="1.3" height="1.6" fill="#b3a6e0" opacity="0.8"/>
<rect x="215.7" y="289.5" width="1.3" height="1.6" fill="#f2bd85" opacity="0.8"/>
<rect x="215.5" y="281.5" width="1.3" height="1.6" fill="#f2bd85" opacity="0.8"/>
<rect x="225.0" y="298.0" width="1.3" height="1.6" fill="#dadc96" opacity="0.8"/>
<rect x="225.1" y="273.0" width="1.3" height="1.6" fill="#a9d19c" opacity="0.8"/>
<rect x="224.5" y="309.3" width="1.3" height="1.6" fill="#f2bd85" opacity="0.8"/>
<rect x="224.9" y="292.1" width="1.3" height="1.6" fill="#b3a6e0" opacity="0.8"/>
<rect x="224.5" y="285.2" width="1.3" height="1.6" fill="#f2bd85" opacity="0.8"/>
<rect x="247.4" y="307.4" width="1.3" height="1.6" fill="#f2bd85" opacity="0.8"/>
<rect x="247.7" y="298.3" width="1.3" height="1.6" fill="#b3a6e0" opacity="0.8"/>
<rect x="247.6" y="303.3" width="1.3" height="1.6" fill="#f2bd85" opacity="0.8"/>
<rect x="247.0" y="271.0" width="1.3" height="1.6" fill="#a9d19c" opacity="0.8"/>
<rect x="247.5" y="284.8" width="1.3" height="1.6" fill="#dadc96" opacity="0.8"/>
<rect x="247.3" y="302.8" width="1.3" height="1.6" fill="#f2bd85" opacity="0.8"/>
<rect x="247.0" y="255.9" width="1.3" height="1.6" fill="#b3a6e0" opacity="0.8"/>
<rect x="259.0" y="325.4" width="1.3" height="1.6" fill="#b3a6e0" opacity="0.8"/>
<rect x="258.6" y="252.4" width="1.3" height="1.6" fill="#f2bd85" opacity="0.8"/>
<rect x="258.7" y="293.5" width="1.3" height="1.6" fill="#f2bd85" opacity="0.8"/>
<rect x="258.9" y="258.3" width="1.3" height="1.6" fill="#b3a6e0" opacity="0.8"/>
<rect x="258.8" y="258.6" width="1.3" height="1.6" fill="#b3a6e0" opacity="0.8"/>
<rect x="259.0" y="214.2" width="1.3" height="1.6" fill="#f2bd85" opacity="0.8"/>
<rect x="259.2" y="294.8" width="1.3" height="1.6" fill="#a9d19c" opacity="0.8"/>
<rect x="259.2" y="274.4" width="1.3" height="1.6" fill="#f2bd85" opacity="0.8"/>
<rect x="259.0" y="304.9" width="1.3" height="1.6" fill="#b3a6e0" opacity="0.8"/>
<rect x="259.0" y="294.3" width="1.3" height="1.6" fill="#f2bd85" opacity="0.8"/>
<rect x="258.7" y="265.5" width="1.3" height="1.6" fill="#a9d19c" opacity="0.8"/>
<rect x="259.1" y="251.5" width="1.3" height="1.6" fill="#f2bd85" opacity="0.8"/>
<rect x="258.9" y="260.0" width="1.3" height="1.6" fill="#b3a6e0" opacity="0.8"/>
<rect x="259.1" y="232.7" width="1.3" height="1.6" fill="#b3a6e0" opacity="0.8"/>
<rect x="258.5" y="324.3" width="1.3" height="1.6" fill="#b3a6e0" opacity="0.8"/>
<rect x="259.2" y="233.8" width="1.3" height="1.6" fill="#b3a6e0" opacity="0.8"/>
<rect x="259.0" y="329.7" width="1.3" height="1.6" fill="#b3a6e0" opacity="0.8"/>
<rect x="259.1" y="246.7" width="1.3" height="1.6" fill="#b3a6e0" opacity="0.8"/>
<rect x="259.0" y="299.4" width="1.3" height="1.6" fill="#dadc96" opacity="0.8"/>
<rect x="259.1" y="321.3" width="1.3" height="1.6" fill="#a9d19c" opacity="0.8"/>
<rect x="258.7" y="282.3" width="1.3" height="1.6" fill="#b3a6e0" opacity="0.8"/>
<rect x="258.9" y="238.5" width="1.3" height="1.6" fill="#a9d19c" opacity="0.8"/>
<rect x="259.1" y="255.6" width="1.3" height="1.6" fill="#b3a6e0" opacity="0.8"/>
<rect x="259.2" y="229.8" width="1.3" height="1.6" fill="#f2bd85" opacity="0.8"/>
<rect x="272.1" y="237.3" width="1.3" height="1.6" fill="#b3a6e0" opacity="0.8"/>
<rect x="271.6" y="224.9" width="1.3" height="1.6" fill="#b3a6e0" opacity="0.8"/>
<rect x="272.1" y="320.9" width="1.3" height="1.6" fill="#a9d19c" opacity="0.8"/>
<rect x="272.2" y="230.9" width="1.3" height="1.6" fill="#dadc96" opacity="0.8"/>
<rect x="271.6" y="264.3" width="1.3" height="1.6" fill="#a9d19c" opacity="0.8"/>
<rect x="271.9" y="238.7" width="1.3" height="1.6" fill="#f2bd85" opacity="0.8"/>
<rect x="271.9" y="244.0" width="1.3" height="1.6" fill="#f2bd85" opacity="0.8"/>
<rect x="271.5" y="288.2" width="1.3" height="1.6" fill="#dadc96" opacity="0.8"/>
<rect x="271.7" y="255.7" width="1.3" height="1.6" fill="#b3a6e0" opacity="0.8"/>
<rect x="271.6" y="247.9" width="1.3" height="1.6" fill="#dadc96" opacity="0.8"/>
<rect x="271.7" y="223.2" width="1.3" height="1.6" fill="#a9d19c" opacity="0.8"/>
<rect x="271.9" y="241.3" width="1.3" height="1.6" fill="#b3a6e0" opacity="0.8"/>
<rect x="272.0" y="290.2" width="1.3" height="1.6" fill="#f2bd85" opacity="0.8"/>
<rect x="272.1" y="277.6" width="1.3" height="1.6" fill="#dadc96" opacity="0.8"/>
<rect x="271.6" y="282.6" width="1.3" height="1.6" fill="#f2bd85" opacity="0.8"/>
<rect x="272.0" y="269.3" width="1.3" height="1.6" fill="#b3a6e0" opacity="0.8"/>
<rect x="272.0" y="275.8" width="1.3" height="1.6" fill="#b3a6e0" opacity="0.8"/>
<rect x="271.9" y="260.3" width="1.3" height="1.6" fill="#a9d19c" opacity="0.8"/>
<rect x="272.1" y="295.5" width="1.3" height="1.6" fill="#a9d19c" opacity="0.8"/>
<rect x="271.7" y="275.5" width="1.3" height="1.6" fill="#a9d19c" opacity="0.8"/>
<rect x="271.7" y="248.3" width="1.3" height="1.6" fill="#b3a6e0" opacity="0.8"/>
<rect x="272.0" y="277.4" width="1.3" height="1.6" fill="#f2bd85" opacity="0.8"/>
<rect x="173.1" y="298.2" width="1.3" height="1.6" fill="#dadc96" opacity="0.8"/>
<rect x="263.6" y="269.1" width="1.3" height="1.6" fill="#b3a6e0" opacity="0.8"/>
<rect x="196.4" y="292.9" width="1.3" height="1.6" fill="#b3a6e0" opacity="0.8"/>
<rect x="263.6" y="264.8" width="1.3" height="1.6" fill="#f2bd85" opacity="0.8"/>
<rect x="190.7" y="321.4" width="1.3" height="1.6" fill="#dadc96" opacity="0.8"/>
<rect x="212.1" y="292.7" width="1.3" height="1.6" fill="#b3a6e0" opacity="0.8"/>
<rect x="273.7" y="244.4" width="1.3" height="1.6" fill="#b3a6e0" opacity="0.8"/>
<rect x="226.9" y="324.4" width="1.3" height="1.6" fill="#a9d19c" opacity="0.8"/>
<rect x="175.5" y="322.8" width="1.3" height="1.6" fill="#a9d19c" opacity="0.8"/>
<rect x="258.6" y="287.9" width="1.3" height="1.6" fill="#f2bd85" opacity="0.8"/>
<rect x="172.8" y="269.9" width="1.3" height="1.6" fill="#b3a6e0" opacity="0.8"/>
<rect x="175.1" y="262.2" width="1.3" height="1.6" fill="#f2bd85" opacity="0.8"/>
<rect x="215.9" y="303.5" width="1.3" height="1.6" fill="#a9d19c" opacity="0.8"/>
<rect x="243.0" y="262.2" width="1.3" height="1.6" fill="#f2bd85" opacity="0.8"/>
<rect x="202.3" y="281.1" width="1.3" height="1.6" fill="#b3a6e0" opacity="0.8"/>
<rect x="176.2" y="273.2" width="1.3" height="1.6" fill="#dadc96" opacity="0.8"/>
<rect x="204.2" y="277.8" width="1.3" height="1.6" fill="#b3a6e0" opacity="0.8"/>
<rect x="170.3" y="302.3" width="1.3" height="1.6" fill="#b3a6e0" opacity="0.8"/>
<rect x="205.5" y="328.3" width="1.3" height="1.6" fill="#f2bd85" opacity="0.8"/>
<rect x="240.3" y="293.1" width="1.3" height="1.6" fill="#b3a6e0" opacity="0.8"/>
<rect x="190.4" y="312.6" width="1.3" height="1.6" fill="#a9d19c" opacity="0.8"/>
<rect x="230.8" y="303.2" width="1.3" height="1.6" fill="#b3a6e0" opacity="0.8"/>
<rect x="234.7" y="332.6" width="1.3" height="1.6" fill="#dadc96" opacity="0.8"/>
<rect x="248.3" y="250.5" width="1.3" height="1.6" fill="#a9d19c" opacity="0.8"/>
<rect x="255.3" y="288.0" width="1.3" height="1.6" fill="#b3a6e0" opacity="0.8"/>
<rect x="225.6" y="260.3" width="1.3" height="1.6" fill="#dadc96" opacity="0.8"/>
<rect x="265.4" y="267.0" width="1.3" height="1.6" fill="#dadc96" opacity="0.8"/>
<rect x="196.5" y="328.0" width="1.3" height="1.6" fill="#b3a6e0" opacity="0.8"/>
<rect x="247.0" y="292.9" width="1.3" height="1.6" fill="#b3a6e0" opacity="0.8"/>
<rect x="243.7" y="286.2" width="1.3" height="1.6" fill="#dadc96" opacity="0.8"/>
<rect x="279.7" y="281.0" width="1.3" height="1.6" fill="#f2bd85" opacity="0.8"/>
<rect x="251.2" y="272.2" width="1.3" height="1.6" fill="#f2bd85" opacity="0.8"/>
<rect x="180.6" y="266.1" width="1.3" height="1.6" fill="#f2bd85" opacity="0.8"/>
<rect x="279.0" y="204.3" width="1.3" height="1.6" fill="#dadc96" opacity="0.8"/>
<rect x="193.0" y="331.9" width="1.3" height="1.6" fill="#b3a6e0" opacity="0.8"/>
<rect x="234.5" y="313.1" width="1.3" height="1.6" fill="#f2bd85" opacity="0.8"/>
<rect x="236.0" y="313.4" width="1.3" height="1.6" fill="#b3a6e0" opacity="0.8"/>
<rect x="287.7" y="268.8" width="1.3" height="1.6" fill="#b3a6e0" opacity="0.8"/>
<rect x="264.9" y="310.4" width="1.3" height="1.6" fill="#a9d19c" opacity="0.8"/>
<rect x="246.0" y="317.4" width="1.3" height="1.6" fill="#f2bd85" opacity="0.8"/>
<rect x="240.2" y="313.6" width="1.3" height="1.6" fill="#f2bd85" opacity="0.8"/>
<rect x="240.3" y="275.5" width="1.3" height="1.6" fill="#f2bd85" opacity="0.8"/>
<rect x="258.5" y="275.1" width="1.3" height="1.6" fill="#b3a6e0" opacity="0.8"/>
<rect x="250.1" y="295.3" width="1.3" height="1.6" fill="#f2bd85" opacity="0.8"/>
<rect x="266.5" y="301.7" width="1.3" height="1.6" fill="#f2bd85" opacity="0.8"/>
<rect x="279.5" y="259.9" width="1.3" height="1.6" fill="#a9d19c" opacity="0.8"/>
<rect x="248.0" y="286.5" width="1.3" height="1.6" fill="#b3a6e0" opacity="0.8"/>
<rect x="241.7" y="291.5" width="1.3" height="1.6" fill="#b3a6e0" opacity="0.8"/>
<rect x="283.8" y="287.3" width="1.3" height="1.6" fill="#f2bd85" opacity="0.8"/>
<rect x="309.2" y="274.6" width="1.3" height="1.6" fill="#b3a6e0" opacity="0.8"/>
<rect x="309.6" y="306.9" width="1.3" height="1.6" fill="#dadc96" opacity="0.8"/>
<rect x="309.0" y="313.9" width="1.3" height="1.6" fill="#b3a6e0" opacity="0.8"/>
<rect x="309.5" y="320.8" width="1.3" height="1.6" fill="#dadc96" opacity="0.8"/>
<rect x="309.1" y="317.6" width="1.3" height="1.6" fill="#a9d19c" opacity="0.8"/>
<rect x="309.5" y="293.3" width="1.3" height="1.6" fill="#f2bd85" opacity="0.8"/>
<rect x="309.5" y="310.0" width="1.3" height="1.6" fill="#dadc96" opacity="0.8"/>
<rect x="309.7" y="309.6" width="1.3" height="1.6" fill="#b3a6e0" opacity="0.8"/>
<rect x="309.6" y="318.8" width="1.3" height="1.6" fill="#b3a6e0" opacity="0.8"/>
<rect x="310.7" y="302.3" width="1.3" height="1.6" fill="#a9d19c" opacity="0.8"/>
<rect x="311.0" y="310.0" width="1.3" height="1.6" fill="#f2bd85" opacity="0.8"/>
<rect x="310.6" y="303.2" width="1.3" height="1.6" fill="#b3a6e0" opacity="0.8"/>
<rect x="310.5" y="306.3" width="1.3" height="1.6" fill="#a9d19c" opacity="0.8"/>
<rect x="310.7" y="311.7" width="1.3" height="1.6" fill="#f2bd85" opacity="0.8"/>
<rect x="321.5" y="321.1" width="1.3" height="1.6" fill="#a9d19c" opacity="0.8"/>
<rect x="321.5" y="286.6" width="1.3" height="1.6" fill="#a9d19c" opacity="0.8"/>
<rect x="321.0" y="320.1" width="1.3" height="1.6" fill="#b3a6e0" opacity="0.8"/>
<rect x="321.4" y="301.6" width="1.3" height="1.6" fill="#f2bd85" opacity="0.8"/>
<rect x="321.0" y="316.0" width="1.3" height="1.6" fill="#b3a6e0" opacity="0.8"/>
<rect x="321.2" y="315.6" width="1.3" height="1.6" fill="#f2bd85" opacity="0.8"/>
<rect x="321.5" y="302.8" width="1.3" height="1.6" fill="#f2bd85" opacity="0.8"/>
<rect x="323.1" y="313.9" width="1.3" height="1.6" fill="#f2bd85" opacity="0.8"/>
<rect x="323.5" y="287.2" width="1.3" height="1.6" fill="#dadc96" opacity="0.8"/>
<rect x="323.1" y="306.0" width="1.3" height="1.6" fill="#a9d19c" opacity="0.8"/>
<rect x="323.4" y="315.5" width="1.3" height="1.6" fill="#b3a6e0" opacity="0.8"/>
<rect x="323.1" y="329.9" width="1.3" height="1.6" fill="#b3a6e0" opacity="0.8"/>
<rect x="344.9" y="281.2" width="1.3" height="1.6" fill="#f2bd85" opacity="0.8"/>
<rect x="344.6" y="307.4" width="1.3" height="1.6" fill="#a9d19c" opacity="0.8"/>
<rect x="345.1" y="260.2" width="1.3" height="1.6" fill="#b3a6e0" opacity="0.8"/>
<rect x="345.2" y="304.3" width="1.3" height="1.6" fill="#b3a6e0" opacity="0.8"/>
<rect x="345.2" y="307.4" width="1.3" height="1.6" fill="#b3a6e0" opacity="0.8"/>
<rect x="344.6" y="286.9" width="1.3" height="1.6" fill="#b3a6e0" opacity="0.8"/>
<rect x="344.9" y="302.5" width="1.3" height="1.6" fill="#b3a6e0" opacity="0.8"/>
<rect x="344.6" y="301.2" width="1.3" height="1.6" fill="#b3a6e0" opacity="0.8"/>
<rect x="344.6" y="291.4" width="1.3" height="1.6" fill="#b3a6e0" opacity="0.8"/>
<rect x="344.9" y="308.3" width="1.3" height="1.6" fill="#a9d19c" opacity="0.8"/>
<rect x="344.6" y="306.3" width="1.3" height="1.6" fill="#b3a6e0" opacity="0.8"/>
<rect x="344.8" y="270.4" width="1.3" height="1.6" fill="#b3a6e0" opacity="0.8"/>
<rect x="344.9" y="289.4" width="1.3" height="1.6" fill="#a9d19c" opacity="0.8"/>
<rect x="345.2" y="272.5" width="1.3" height="1.6" fill="#b3a6e0" opacity="0.8"/>
<rect x="344.6" y="314.1" width="1.3" height="1.6" fill="#b3a6e0" opacity="0.8"/>
<rect x="344.9" y="293.2" width="1.3" height="1.6" fill="#dadc96" opacity="0.8"/>
<rect x="344.7" y="298.0" width="1.3" height="1.6" fill="#f2bd85" opacity="0.8"/>
<rect x="351.5" y="281.0" width="1.3" height="1.6" fill="#b3a6e0" opacity="0.8"/>
<rect x="351.2" y="283.4" width="1.3" height="1.6" fill="#a9d19c" opacity="0.8"/>
<rect x="351.2" y="263.0" width="1.3" height="1.6" fill="#a9d19c" opacity="0.8"/>
<rect x="351.9" y="285.6" width="1.3" height="1.6" fill="#dadc96" opacity="0.8"/>
<rect x="351.7" y="315.3" width="1.3" height="1.6" fill="#b3a6e0" opacity="0.8"/>
<rect x="351.8" y="308.0" width="1.3" height="1.6" fill="#f2bd85" opacity="0.8"/>
<rect x="351.8" y="282.2" width="1.3" height="1.6" fill="#b3a6e0" opacity="0.8"/>
<rect x="351.6" y="287.3" width="1.3" height="1.6" fill="#b3a6e0" opacity="0.8"/>
<rect x="351.9" y="230.9" width="1.3" height="1.6" fill="#a9d19c" opacity="0.8"/>
<rect x="351.9" y="322.5" width="1.3" height="1.6" fill="#b3a6e0" opacity="0.8"/>
<rect x="351.5" y="267.4" width="1.3" height="1.6" fill="#dadc96" opacity="0.8"/>
<rect x="351.5" y="286.1" width="1.3" height="1.6" fill="#b3a6e0" opacity="0.8"/>
<rect x="351.2" y="329.7" width="1.3" height="1.6" fill="#f2bd85" opacity="0.8"/>
<rect x="351.7" y="298.3" width="1.3" height="1.6" fill="#f2bd85" opacity="0.8"/>
<rect x="351.3" y="247.8" width="1.3" height="1.6" fill="#b3a6e0" opacity="0.8"/>
<rect x="351.5" y="319.5" width="1.3" height="1.6" fill="#b3a6e0" opacity="0.8"/>
<rect x="351.8" y="282.7" width="1.3" height="1.6" fill="#dadc96" opacity="0.8"/>
<rect x="351.7" y="309.9" width="1.3" height="1.6" fill="#f2bd85" opacity="0.8"/>
<rect x="351.6" y="294.6" width="1.3" height="1.6" fill="#b3a6e0" opacity="0.8"/>
<rect x="351.4" y="288.6" width="1.3" height="1.6" fill="#f2bd85" opacity="0.8"/>
<rect x="351.2" y="320.2" width="1.3" height="1.6" fill="#b3a6e0" opacity="0.8"/>
<rect x="360.7" y="276.9" width="1.3" height="1.6" fill="#a9d19c" opacity="0.8"/>
<rect x="361.0" y="263.2" width="1.3" height="1.6" fill="#f2bd85" opacity="0.8"/>
<rect x="361.1" y="312.7" width="1.3" height="1.6" fill="#b3a6e0" opacity="0.8"/>
<rect x="361.0" y="297.9" width="1.3" height="1.6" fill="#b3a6e0" opacity="0.8"/>
<rect x="360.7" y="312.7" width="1.3" height="1.6" fill="#f2bd85" opacity="0.8"/>
<rect x="383.3" y="247.3" width="1.3" height="1.6" fill="#f2bd85" opacity="0.8"/>
<rect x="383.4" y="271.3" width="1.3" height="1.6" fill="#f2bd85" opacity="0.8"/>
<rect x="383.1" y="314.3" width="1.3" height="1.6" fill="#f2bd85" opacity="0.8"/>
<rect x="383.1" y="294.6" width="1.3" height="1.6" fill="#b3a6e0" opacity="0.8"/>
<rect x="383.1" y="232.9" width="1.3" height="1.6" fill="#f2bd85" opacity="0.8"/>
<rect x="383.4" y="304.1" width="1.3" height="1.6" fill="#b3a6e0" opacity="0.8"/>
<rect x="383.4" y="288.5" width="1.3" height="1.6" fill="#b3a6e0" opacity="0.8"/>
<rect x="394.7" y="238.5" width="1.3" height="1.6" fill="#b3a6e0" opacity="0.8"/>
<rect x="394.6" y="199.8" width="1.3" height="1.6" fill="#b3a6e0" opacity="0.8"/>
<rect x="394.9" y="267.5" width="1.3" height="1.6" fill="#b3a6e0" opacity="0.8"/>
<rect x="395.1" y="255.8" width="1.3" height="1.6" fill="#dadc96" opacity="0.8"/>
<rect x="394.5" y="290.1" width="1.3" height="1.6" fill="#a9d19c" opacity="0.8"/>
<rect x="394.5" y="275.0" width="1.3" height="1.6" fill="#b3a6e0" opacity="0.8"/>
<rect x="394.9" y="222.2" width="1.3" height="1.6" fill="#b3a6e0" opacity="0.8"/>
<rect x="394.5" y="244.9" width="1.3" height="1.6" fill="#b3a6e0" opacity="0.8"/>
<rect x="394.7" y="258.6" width="1.3" height="1.6" fill="#b3a6e0" opacity="0.8"/>
<rect x="395.0" y="215.0" width="1.3" height="1.6" fill="#a9d19c" opacity="0.8"/>
<rect x="394.6" y="311.4" width="1.3" height="1.6" fill="#f2bd85" opacity="0.8"/>
<rect x="395.0" y="250.4" width="1.3" height="1.6" fill="#b3a6e0" opacity="0.8"/>
<rect x="394.7" y="306.8" width="1.3" height="1.6" fill="#dadc96" opacity="0.8"/>
<rect x="394.8" y="274.8" width="1.3" height="1.6" fill="#f2bd85" opacity="0.8"/>
<rect x="394.8" y="317.8" width="1.3" height="1.6" fill="#b3a6e0" opacity="0.8"/>
<rect x="394.6" y="281.8" width="1.3" height="1.6" fill="#f2bd85" opacity="0.8"/>
<rect x="394.9" y="274.9" width="1.3" height="1.6" fill="#b3a6e0" opacity="0.8"/>
<rect x="394.5" y="321.3" width="1.3" height="1.6" fill="#a9d19c" opacity="0.8"/>
<rect x="394.8" y="332.3" width="1.3" height="1.6" fill="#b3a6e0" opacity="0.8"/>
<rect x="394.8" y="265.2" width="1.3" height="1.6" fill="#f2bd85" opacity="0.8"/>
<rect x="394.8" y="263.3" width="1.3" height="1.6" fill="#a9d19c" opacity="0.8"/>
<rect x="394.5" y="248.0" width="1.3" height="1.6" fill="#b3a6e0" opacity="0.8"/>
<rect x="394.5" y="302.4" width="1.3" height="1.6" fill="#b3a6e0" opacity="0.8"/>
<rect x="395.2" y="268.0" width="1.3" height="1.6" fill="#a9d19c" opacity="0.8"/>
<rect x="394.6" y="287.4" width="1.3" height="1.6" fill="#f2bd85" opacity="0.8"/>
<rect x="394.6" y="238.3" width="1.3" height="1.6" fill="#dadc96" opacity="0.8"/>
<rect x="394.7" y="300.6" width="1.3" height="1.6" fill="#a9d19c" opacity="0.8"/>
<rect x="408.0" y="239.3" width="1.3" height="1.6" fill="#b3a6e0" opacity="0.8"/>
<rect x="408.2" y="322.2" width="1.3" height="1.6" fill="#b3a6e0" opacity="0.8"/>
<rect x="407.5" y="264.1" width="1.3" height="1.6" fill="#b3a6e0" opacity="0.8"/>
<rect x="408.0" y="280.5" width="1.3" height="1.6" fill="#a9d19c" opacity="0.8"/>
<rect x="407.8" y="264.1" width="1.3" height="1.6" fill="#b3a6e0" opacity="0.8"/>
<rect x="408.2" y="272.3" width="1.3" height="1.6" fill="#f2bd85" opacity="0.8"/>
<rect x="407.6" y="277.2" width="1.3" height="1.6" fill="#a9d19c" opacity="0.8"/>
<rect x="407.5" y="287.6" width="1.3" height="1.6" fill="#dadc96" opacity="0.8"/>
<rect x="407.8" y="206.7" width="1.3" height="1.6" fill="#b3a6e0" opacity="0.8"/>
<rect x="408.1" y="254.0" width="1.3" height="1.6" fill="#dadc96" opacity="0.8"/>
<rect x="407.8" y="308.1" width="1.3" height="1.6" fill="#b3a6e0" opacity="0.8"/>
<rect x="407.7" y="224.6" width="1.3" height="1.6" fill="#b3a6e0" opacity="0.8"/>
<rect x="407.8" y="236.9" width="1.3" height="1.6" fill="#b3a6e0" opacity="0.8"/>
<rect x="408.2" y="302.7" width="1.3" height="1.6" fill="#b3a6e0" opacity="0.8"/>
<rect x="407.8" y="260.8" width="1.3" height="1.6" fill="#a9d19c" opacity="0.8"/>
<rect x="408.2" y="262.3" width="1.3" height="1.6" fill="#dadc96" opacity="0.8"/>
<rect x="407.9" y="287.3" width="1.3" height="1.6" fill="#dadc96" opacity="0.8"/>
<rect x="408.1" y="260.0" width="1.3" height="1.6" fill="#f2bd85" opacity="0.8"/>
<rect x="408.1" y="279.2" width="1.3" height="1.6" fill="#b3a6e0" opacity="0.8"/>
<rect x="408.0" y="314.4" width="1.3" height="1.6" fill="#f2bd85" opacity="0.8"/>
<rect x="408.1" y="280.4" width="1.3" height="1.6" fill="#f2bd85" opacity="0.8"/>
<rect x="407.6" y="253.6" width="1.3" height="1.6" fill="#a9d19c" opacity="0.8"/>
<rect x="313.3" y="290.7" width="1.3" height="1.6" fill="#b3a6e0" opacity="0.8"/>
<rect x="404.2" y="277.7" width="1.3" height="1.6" fill="#f2bd85" opacity="0.8"/>
<rect x="406.6" y="260.3" width="1.3" height="1.6" fill="#b3a6e0" opacity="0.8"/>
<rect x="326.8" y="305.6" width="1.3" height="1.6" fill="#f2bd85" opacity="0.8"/>
<rect x="377.9" y="314.6" width="1.3" height="1.6" fill="#f2bd85" opacity="0.8"/>
<rect x="367.6" y="317.0" width="1.3" height="1.6" fill="#dadc96" opacity="0.8"/>
<rect x="404.6" y="292.0" width="1.3" height="1.6" fill="#f2bd85" opacity="0.8"/>
<rect x="354.3" y="241.8" width="1.3" height="1.6" fill="#a9d19c" opacity="0.8"/>
<rect x="422.4" y="320.3" width="1.3" height="1.6" fill="#b3a6e0" opacity="0.8"/>
<rect x="382.9" y="258.1" width="1.3" height="1.6" fill="#b3a6e0" opacity="0.8"/>
<rect x="361.3" y="265.9" width="1.3" height="1.6" fill="#a9d19c" opacity="0.8"/>
<rect x="386.3" y="275.3" width="1.3" height="1.6" fill="#dadc96" opacity="0.8"/>
<rect x="340.1" y="294.5" width="1.3" height="1.6" fill="#f2bd85" opacity="0.8"/>
<rect x="343.4" y="287.7" width="1.3" height="1.6" fill="#b3a6e0" opacity="0.8"/>
<rect x="421.2" y="307.3" width="1.3" height="1.6" fill="#f2bd85" opacity="0.8"/>
<rect x="319.8" y="333.1" width="1.3" height="1.6" fill="#a9d19c" opacity="0.8"/>
<rect x="336.1" y="300.8" width="1.3" height="1.6" fill="#b3a6e0" opacity="0.8"/>
<rect x="347.8" y="273.6" width="1.3" height="1.6" fill="#f2bd85" opacity="0.8"/>
<rect x="418.0" y="299.2" width="1.3" height="1.6" fill="#dadc96" opacity="0.8"/>
<rect x="339.0" y="236.8" width="1.3" height="1.6" fill="#a9d19c" opacity="0.8"/>
<rect x="362.9" y="295.4" width="1.3" height="1.6" fill="#dadc96" opacity="0.8"/>
<rect x="344.7" y="330.2" width="1.3" height="1.6" fill="#b3a6e0" opacity="0.8"/>
<rect x="307.3" y="302.9" width="1.3" height="1.6" fill="#a9d19c" opacity="0.8"/>
<rect x="377.6" y="290.2" width="1.3" height="1.6" fill="#b3a6e0" opacity="0.8"/>
<rect x="334.7" y="268.6" width="1.3" height="1.6" fill="#b3a6e0" opacity="0.8"/>
<rect x="310.0" y="318.8" width="1.3" height="1.6" fill="#f2bd85" opacity="0.8"/>
<rect x="358.0" y="286.4" width="1.3" height="1.6" fill="#f2bd85" opacity="0.8"/>
<rect x="415.6" y="293.9" width="1.3" height="1.6" fill="#dadc96" opacity="0.8"/>
<rect x="387.2" y="301.7" width="1.3" height="1.6" fill="#a9d19c" opacity="0.8"/>
<rect x="316.6" y="327.6" width="1.3" height="1.6" fill="#f2bd85" opacity="0.8"/>
<rect x="383.9" y="266.3" width="1.3" height="1.6" fill="#f2bd85" opacity="0.8"/>
<rect x="324.5" y="304.9" width="1.3" height="1.6" fill="#b3a6e0" opacity="0.8"/>
<rect x="396.0" y="237.5" width="1.3" height="1.6" fill="#a9d19c" opacity="0.8"/>
<rect x="310.1" y="328.5" width="1.3" height="1.6" fill="#b3a6e0" opacity="0.8"/>
<rect x="324.7" y="323.2" width="1.3" height="1.6" fill="#f2bd85" opacity="0.8"/>
<rect x="409.5" y="294.8" width="1.3" height="1.6" fill="#a9d19c" opacity="0.8"/>
<rect x="378.2" y="241.0" width="1.3" height="1.6" fill="#dadc96" opacity="0.8"/>
<rect x="399.7" y="286.8" width="1.3" height="1.6" fill="#b3a6e0" opacity="0.8"/>
<rect x="394.6" y="268.6" width="1.3" height="1.6" fill="#dadc96" opacity="0.8"/>
<rect x="324.9" y="328.4" width="1.3" height="1.6" fill="#f2bd85" opacity="0.8"/>
<rect x="322.5" y="300.3" width="1.3" height="1.6" fill="#b3a6e0" opacity="0.8"/>
<rect x="373.0" y="276.0" width="1.3" height="1.6" fill="#b3a6e0" opacity="0.8"/>
<rect x="345.6" y="266.4" width="1.3" height="1.6" fill="#f2bd85" opacity="0.8"/>
<rect x="316.9" y="325.5" width="1.3" height="1.6" fill="#b3a6e0" opacity="0.8"/>
<rect x="314.1" y="305.5" width="1.3" height="1.6" fill="#f2bd85" opacity="0.8"/>
<rect x="396.1" y="327.5" width="1.3" height="1.6" fill="#b3a6e0" opacity="0.8"/>
<rect x="355.0" y="269.6" width="1.3" height="1.6" fill="#f2bd85" opacity="0.8"/>
<rect x="310.8" y="309.5" width="1.3" height="1.6" fill="#b3a6e0" opacity="0.8"/>
<rect x="386.2" y="295.5" width="1.3" height="1.6" fill="#b3a6e0" opacity="0.8"/>
<rect x="373.3" y="294.4" width="1.3" height="1.6" fill="#f2bd85" opacity="0.8"/>
<rect x="444.5" y="311.3" width="1.3" height="1.6" fill="#dadc96" opacity="0.8"/>
<rect x="444.7" y="299.4" width="1.3" height="1.6" fill="#a9d19c" opacity="0.8"/>
<rect x="444.5" y="299.2" width="1.3" height="1.6" fill="#b3a6e0" opacity="0.8"/>
<rect x="444.1" y="321.9" width="1.3" height="1.6" fill="#f2bd85" opacity="0.8"/>
<rect x="444.2" y="298.8" width="1.3" height="1.6" fill="#b3a6e0" opacity="0.8"/>
<rect x="444.7" y="282.9" width="1.3" height="1.6" fill="#b3a6e0" opacity="0.8"/>
<rect x="444.6" y="324.1" width="1.3" height="1.6" fill="#f2bd85" opacity="0.8"/>
<rect x="444.5" y="315.7" width="1.3" height="1.6" fill="#b3a6e0" opacity="0.8"/>
<rect x="444.4" y="307.2" width="1.3" height="1.6" fill="#a9d19c" opacity="0.8"/>
<rect x="444.3" y="290.0" width="1.3" height="1.6" fill="#b3a6e0" opacity="0.8"/>
<rect x="446.2" y="299.2" width="1.3" height="1.6" fill="#a9d19c" opacity="0.8"/>
<rect x="446.2" y="321.0" width="1.3" height="1.6" fill="#b3a6e0" opacity="0.8"/>
<rect x="445.8" y="307.2" width="1.3" height="1.6" fill="#f2bd85" opacity="0.8"/>
<rect x="446.2" y="302.1" width="1.3" height="1.6" fill="#b3a6e0" opacity="0.8"/>
<rect x="446.2" y="281.5" width="1.3" height="1.6" fill="#a9d19c" opacity="0.8"/>
<rect x="445.7" y="300.6" width="1.3" height="1.6" fill="#dadc96" opacity="0.8"/>
<rect x="445.7" y="318.5" width="1.3" height="1.6" fill="#b3a6e0" opacity="0.8"/>
<rect x="456.0" y="312.2" width="1.3" height="1.6" fill="#b3a6e0" opacity="0.8"/>
<rect x="456.1" y="298.0" width="1.3" height="1.6" fill="#b3a6e0" opacity="0.8"/>
<rect x="456.2" y="286.1" width="1.3" height="1.6" fill="#b3a6e0" opacity="0.8"/>
<rect x="456.5" y="281.0" width="1.3" height="1.6" fill="#b3a6e0" opacity="0.8"/>
<rect x="456.7" y="316.0" width="1.3" height="1.6" fill="#dadc96" opacity="0.8"/>
<rect x="456.6" y="311.4" width="1.3" height="1.6" fill="#f2bd85" opacity="0.8"/>
<rect x="456.6" y="321.4" width="1.3" height="1.6" fill="#a9d19c" opacity="0.8"/>
<rect x="458.3" y="323.6" width="1.3" height="1.6" fill="#b3a6e0" opacity="0.8"/>
<rect x="458.7" y="310.8" width="1.3" height="1.6" fill="#dadc96" opacity="0.8"/>
<rect x="458.4" y="311.1" width="1.3" height="1.6" fill="#b3a6e0" opacity="0.8"/>
<rect x="458.7" y="303.4" width="1.3" height="1.6" fill="#f2bd85" opacity="0.8"/>
<rect x="458.7" y="329.2" width="1.3" height="1.6" fill="#b3a6e0" opacity="0.8"/>
<rect x="479.5" y="302.6" width="1.3" height="1.6" fill="#f2bd85" opacity="0.8"/>
<rect x="480.0" y="326.2" width="1.3" height="1.6" fill="#f2bd85" opacity="0.8"/>
<rect x="480.1" y="313.7" width="1.3" height="1.6" fill="#dadc96" opacity="0.8"/>
<rect x="480.1" y="319.1" width="1.3" height="1.6" fill="#b3a6e0" opacity="0.8"/>
<rect x="480.2" y="302.3" width="1.3" height="1.6" fill="#f2bd85" opacity="0.8"/>
<rect x="479.8" y="258.0" width="1.3" height="1.6" fill="#b3a6e0" opacity="0.8"/>
<rect x="480.0" y="270.7" width="1.3" height="1.6" fill="#f2bd85" opacity="0.8"/>
<rect x="480.1" y="287.7" width="1.3" height="1.6" fill="#b3a6e0" opacity="0.8"/>
<rect x="479.8" y="313.5" width="1.3" height="1.6" fill="#b3a6e0" opacity="0.8"/>
<rect x="479.9" y="272.6" width="1.3" height="1.6" fill="#f2bd85" opacity="0.8"/>
<rect x="479.5" y="290.2" width="1.3" height="1.6" fill="#b3a6e0" opacity="0.8"/>
<rect x="480.1" y="287.0" width="1.3" height="1.6" fill="#f2bd85" opacity="0.8"/>
<rect x="479.7" y="276.9" width="1.3" height="1.6" fill="#b3a6e0" opacity="0.8"/>
<rect x="479.6" y="318.4" width="1.3" height="1.6" fill="#b3a6e0" opacity="0.8"/>
<rect x="479.5" y="304.8" width="1.3" height="1.6" fill="#b3a6e0" opacity="0.8"/>
<rect x="479.7" y="292.7" width="1.3" height="1.6" fill="#b3a6e0" opacity="0.8"/>
<rect x="486.6" y="295.7" width="1.3" height="1.6" fill="#f2bd85" opacity="0.8"/>
<rect x="486.8" y="311.3" width="1.3" height="1.6" fill="#f2bd85" opacity="0.8"/>
<rect x="486.7" y="321.7" width="1.3" height="1.6" fill="#f2bd85" opacity="0.8"/>
<rect x="486.6" y="319.3" width="1.3" height="1.6" fill="#b3a6e0" opacity="0.8"/>
<rect x="486.9" y="312.0" width="1.3" height="1.6" fill="#dadc96" opacity="0.8"/>
<rect x="486.7" y="277.9" width="1.3" height="1.6" fill="#b3a6e0" opacity="0.8"/>
<rect x="486.9" y="245.0" width="1.3" height="1.6" fill="#f2bd85" opacity="0.8"/>
<rect x="486.8" y="260.7" width="1.3" height="1.6" fill="#f2bd85" opacity="0.8"/>
<rect x="486.8" y="301.2" width="1.3" height="1.6" fill="#dadc96" opacity="0.8"/>
<rect x="486.6" y="287.4" width="1.3" height="1.6" fill="#f2bd85" opacity="0.8"/>
<rect x="486.3" y="303.0" width="1.3" height="1.6" fill="#f2bd85" opacity="0.8"/>
<rect x="486.9" y="289.8" width="1.3" height="1.6" fill="#b3a6e0" opacity="0.8"/>
<rect x="486.9" y="314.7" width="1.3" height="1.6" fill="#b3a6e0" opacity="0.8"/>
<rect x="486.5" y="328.2" width="1.3" height="1.6" fill="#dadc96" opacity="0.8"/>
<rect x="486.2" y="292.6" width="1.3" height="1.6" fill="#f2bd85" opacity="0.8"/>
<rect x="486.9" y="269.4" width="1.3" height="1.6" fill="#b3a6e0" opacity="0.8"/>
<rect x="486.4" y="261.7" width="1.3" height="1.6" fill="#dadc96" opacity="0.8"/>
<rect x="486.5" y="326.8" width="1.3" height="1.6" fill="#b3a6e0" opacity="0.8"/>
<rect x="486.9" y="227.7" width="1.3" height="1.6" fill="#f2bd85" opacity="0.8"/>
<rect x="486.2" y="311.5" width="1.3" height="1.6" fill="#f2bd85" opacity="0.8"/>
<rect x="486.2" y="273.8" width="1.3" height="1.6" fill="#b3a6e0" opacity="0.8"/>
<rect x="486.9" y="303.1" width="1.3" height="1.6" fill="#f2bd85" opacity="0.8"/>
<rect x="486.6" y="318.2" width="1.3" height="1.6" fill="#b3a6e0" opacity="0.8"/>
<rect x="495.5" y="304.4" width="1.3" height="1.6" fill="#f2bd85" opacity="0.8"/>
<rect x="495.9" y="281.4" width="1.3" height="1.6" fill="#f2bd85" opacity="0.8"/>
<rect x="495.9" y="306.7" width="1.3" height="1.6" fill="#b3a6e0" opacity="0.8"/>
<rect x="496.1" y="329.5" width="1.3" height="1.6" fill="#dadc96" opacity="0.8"/>
<rect x="496.0" y="275.4" width="1.3" height="1.6" fill="#b3a6e0" opacity="0.8"/>
<rect x="518.4" y="295.4" width="1.3" height="1.6" fill="#f2bd85" opacity="0.8"/>
<rect x="518.5" y="323.1" width="1.3" height="1.6" fill="#b3a6e0" opacity="0.8"/>
<rect x="518.0" y="273.2" width="1.3" height="1.6" fill="#b3a6e0" opacity="0.8"/>
<rect x="518.7" y="309.2" width="1.3" height="1.6" fill="#b3a6e0" opacity="0.8"/>
<rect x="518.1" y="327.0" width="1.3" height="1.6" fill="#a9d19c" opacity="0.8"/>
<rect x="518.0" y="266.8" width="1.3" height="1.6" fill="#b3a6e0" opacity="0.8"/>
<rect x="518.0" y="316.8" width="1.3" height="1.6" fill="#f2bd85" opacity="0.8"/>
<rect x="530.2" y="312.2" width="1.3" height="1.6" fill="#b3a6e0" opacity="0.8"/>
<rect x="529.7" y="270.4" width="1.3" height="1.6" fill="#a9d19c" opacity="0.8"/>
<rect x="530.1" y="240.8" width="1.3" height="1.6" fill="#f2bd85" opacity="0.8"/>
<rect x="529.7" y="322.8" width="1.3" height="1.6" fill="#a9d19c" opacity="0.8"/>
<rect x="529.6" y="265.7" width="1.3" height="1.6" fill="#a9d19c" opacity="0.8"/>
<rect x="529.6" y="274.5" width="1.3" height="1.6" fill="#b3a6e0" opacity="0.8"/>
<rect x="530.1" y="257.9" width="1.3" height="1.6" fill="#a9d19c" opacity="0.8"/>
<rect x="530.0" y="315.0" width="1.3" height="1.6" fill="#f2bd85" opacity="0.8"/>
<rect x="530.2" y="227.0" width="1.3" height="1.6" fill="#a9d19c" opacity="0.8"/>
<rect x="529.5" y="278.0" width="1.3" height="1.6" fill="#f2bd85" opacity="0.8"/>
<rect x="530.1" y="266.6" width="1.3" height="1.6" fill="#a9d19c" opacity="0.8"/>
<rect x="529.8" y="321.5" width="1.3" height="1.6" fill="#a9d19c" opacity="0.8"/>
<rect x="529.6" y="291.7" width="1.3" height="1.6" fill="#a9d19c" opacity="0.8"/>
<rect x="530.0" y="263.5" width="1.3" height="1.6" fill="#b3a6e0" opacity="0.8"/>
<rect x="530.1" y="311.6" width="1.3" height="1.6" fill="#b3a6e0" opacity="0.8"/>
<rect x="529.8" y="239.4" width="1.3" height="1.6" fill="#f2bd85" opacity="0.8"/>
<rect x="529.6" y="315.6" width="1.3" height="1.6" fill="#b3a6e0" opacity="0.8"/>
<rect x="529.5" y="219.3" width="1.3" height="1.6" fill="#a9d19c" opacity="0.8"/>
<rect x="530.2" y="300.8" width="1.3" height="1.6" fill="#b3a6e0" opacity="0.8"/>
<rect x="529.6" y="247.0" width="1.3" height="1.6" fill="#b3a6e0" opacity="0.8"/>
<rect x="530.0" y="233.2" width="1.3" height="1.6" fill="#b3a6e0" opacity="0.8"/>
<rect x="530.0" y="304.9" width="1.3" height="1.6" fill="#b3a6e0" opacity="0.8"/>
<rect x="529.9" y="272.7" width="1.3" height="1.6" fill="#b3a6e0" opacity="0.8"/>
<rect x="529.5" y="258.2" width="1.3" height="1.6" fill="#b3a6e0" opacity="0.8"/>
<rect x="530.1" y="258.2" width="1.3" height="1.6" fill="#b3a6e0" opacity="0.8"/>
<rect x="543.2" y="261.1" width="1.3" height="1.6" fill="#f2bd85" opacity="0.8"/>
<rect x="542.5" y="262.2" width="1.3" height="1.6" fill="#dadc96" opacity="0.8"/>
<rect x="543.1" y="247.8" width="1.3" height="1.6" fill="#dadc96" opacity="0.8"/>
<rect x="542.9" y="233.9" width="1.3" height="1.6" fill="#f2bd85" opacity="0.8"/>
<rect x="542.6" y="292.6" width="1.3" height="1.6" fill="#a9d19c" opacity="0.8"/>
<rect x="542.5" y="294.9" width="1.3" height="1.6" fill="#b3a6e0" opacity="0.8"/>
<rect x="542.7" y="258.2" width="1.3" height="1.6" fill="#dadc96" opacity="0.8"/>
<rect x="543.1" y="248.8" width="1.3" height="1.6" fill="#b3a6e0" opacity="0.8"/>
<rect x="542.9" y="282.7" width="1.3" height="1.6" fill="#dadc96" opacity="0.8"/>
<rect x="542.8" y="296.1" width="1.3" height="1.6" fill="#a9d19c" opacity="0.8"/>
<rect x="542.5" y="305.8" width="1.3" height="1.6" fill="#b3a6e0" opacity="0.8"/>
<rect x="542.8" y="282.8" width="1.3" height="1.6" fill="#f2bd85" opacity="0.8"/>
<rect x="542.9" y="274.4" width="1.3" height="1.6" fill="#b3a6e0" opacity="0.8"/>
<rect x="542.8" y="323.4" width="1.3" height="1.6" fill="#a9d19c" opacity="0.8"/>
<rect x="542.7" y="307.9" width="1.3" height="1.6" fill="#f2bd85" opacity="0.8"/>
<rect x="542.7" y="307.6" width="1.3" height="1.6" fill="#b3a6e0" opacity="0.8"/>
<rect x="542.7" y="299.3" width="1.3" height="1.6" fill="#f2bd85" opacity="0.8"/>
<rect x="542.5" y="278.4" width="1.3" height="1.6" fill="#b3a6e0" opacity="0.8"/>
<rect x="542.7" y="262.0" width="1.3" height="1.6" fill="#b3a6e0" opacity="0.8"/>
<rect x="542.9" y="304.6" width="1.3" height="1.6" fill="#a9d19c" opacity="0.8"/>
<rect x="448.6" y="278.3" width="1.3" height="1.6" fill="#b3a6e0" opacity="0.8"/>
<rect x="547.2" y="327.4" width="1.3" height="1.6" fill="#dadc96" opacity="0.8"/>
<rect x="524.2" y="265.1" width="1.3" height="1.6" fill="#f2bd85" opacity="0.8"/>
<rect x="456.7" y="296.3" width="1.3" height="1.6" fill="#b3a6e0" opacity="0.8"/>
<rect x="456.4" y="331.9" width="1.3" height="1.6" fill="#a9d19c" opacity="0.8"/>
<rect x="452.4" y="324.7" width="1.3" height="1.6" fill="#f2bd85" opacity="0.8"/>
<rect x="459.6" y="274.9" width="1.3" height="1.6" fill="#f2bd85" opacity="0.8"/>
<rect x="453.8" y="278.5" width="1.3" height="1.6" fill="#f2bd85" opacity="0.8"/>
<rect x="556.1" y="293.0" width="1.3" height="1.6" fill="#f2bd85" opacity="0.8"/>
<rect x="555.6" y="309.3" width="1.3" height="1.6" fill="#dadc96" opacity="0.8"/>
<rect x="449.2" y="319.6" width="1.3" height="1.6" fill="#a9d19c" opacity="0.8"/>
<rect x="443.6" y="325.1" width="1.3" height="1.6" fill="#f2bd85" opacity="0.8"/>
<rect x="513.1" y="292.4" width="1.3" height="1.6" fill="#b3a6e0" opacity="0.8"/>
<rect x="541.7" y="316.1" width="1.3" height="1.6" fill="#b3a6e0" opacity="0.8"/>
<rect x="546.6" y="275.8" width="1.3" height="1.6" fill="#a9d19c" opacity="0.8"/>
<rect x="471.0" y="305.9" width="1.3" height="1.6" fill="#f2bd85" opacity="0.8"/>
<rect x="537.3" y="268.0" width="1.3" height="1.6" fill="#f2bd85" opacity="0.8"/>
<rect x="452.6" y="321.6" width="1.3" height="1.6" fill="#a9d19c" opacity="0.8"/>
<rect x="526.8" y="274.4" width="1.3" height="1.6" fill="#f2bd85" opacity="0.8"/>
<rect x="441.0" y="313.9" width="1.3" height="1.6" fill="#dadc96" opacity="0.8"/>
<rect x="538.3" y="269.7" width="1.3" height="1.6" fill="#f2bd85" opacity="0.8"/>
<rect x="542.9" y="250.5" width="1.3" height="1.6" fill="#b3a6e0" opacity="0.8"/>
<rect x="445.5" y="310.8" width="1.3" height="1.6" fill="#f2bd85" opacity="0.8"/>
<rect x="441.3" y="205.9" width="1.3" height="1.6" fill="#b3a6e0" opacity="0.8"/>
<rect x="526.7" y="300.9" width="1.3" height="1.6" fill="#a9d19c" opacity="0.8"/>
<rect x="490.2" y="283.3" width="1.3" height="1.6" fill="#b3a6e0" opacity="0.8"/>
<rect x="490.1" y="240.8" width="1.3" height="1.6" fill="#f2bd85" opacity="0.8"/>
<rect x="540.2" y="308.0" width="1.3" height="1.6" fill="#b3a6e0" opacity="0.8"/>
<rect x="482.4" y="264.4" width="1.3" height="1.6" fill="#dadc96" opacity="0.8"/>
<rect x="487.9" y="312.0" width="1.3" height="1.6" fill="#b3a6e0" opacity="0.8"/>
<rect x="530.3" y="315.4" width="1.3" height="1.6" fill="#b3a6e0" opacity="0.8"/>
<rect x="497.1" y="285.8" width="1.3" height="1.6" fill="#b3a6e0" opacity="0.8"/>
<rect x="524.8" y="265.4" width="1.3" height="1.6" fill="#b3a6e0" opacity="0.8"/>
<rect x="473.2" y="323.7" width="1.3" height="1.6" fill="#b3a6e0" opacity="0.8"/>
<rect x="467.2" y="306.1" width="1.3" height="1.6" fill="#f2bd85" opacity="0.8"/>
<rect x="510.0" y="289.0" width="1.3" height="1.6" fill="#f2bd85" opacity="0.8"/>
<rect x="484.6" y="318.9" width="1.3" height="1.6" fill="#dadc96" opacity="0.8"/>
<rect x="463.3" y="296.3" width="1.3" height="1.6" fill="#f2bd85" opacity="0.8"/>
<rect x="544.9" y="288.3" width="1.3" height="1.6" fill="#b3a6e0" opacity="0.8"/>
<rect x="469.9" y="318.3" width="1.3" height="1.6" fill="#dadc96" opacity="0.8"/>
<rect x="540.0" y="297.5" width="1.3" height="1.6" fill="#a9d19c" opacity="0.8"/>
<rect x="465.0" y="293.7" width="1.3" height="1.6" fill="#f2bd85" opacity="0.8"/>
<rect x="549.8" y="313.0" width="1.3" height="1.6" fill="#b3a6e0" opacity="0.8"/>
<rect x="505.2" y="311.5" width="1.3" height="1.6" fill="#b3a6e0" opacity="0.8"/>
<rect x="448.8" y="317.2" width="1.3" height="1.6" fill="#b3a6e0" opacity="0.8"/>
<rect x="544.1" y="282.2" width="1.3" height="1.6" fill="#dadc96" opacity="0.8"/>
<rect x="483.2" y="304.9" width="1.3" height="1.6" fill="#f2bd85" opacity="0.8"/>
<rect x="542.4" y="309.4" width="1.3" height="1.6" fill="#b3a6e0" opacity="0.8"/>
<rect x="452.3" y="298.5" width="1.3" height="1.6" fill="#f2bd85" opacity="0.8"/>
<rect x="452.7" y="305.7" width="1.3" height="1.6" fill="#a9d19c" opacity="0.8"/>
<rect x="472.1" y="309.2" width="1.3" height="1.6" fill="#f2bd85" opacity="0.8"/>
<rect x="538.9" y="260.7" width="1.3" height="1.6" fill="#b3a6e0" opacity="0.8"/>
<path d="M36.0,159.8C37.4,158.5 41.8,154.5 44.5,152.0C47.2,149.5 49.8,147.2 52.5,144.7C55.2,142.2 58.0,139.5 60.5,137.0C63.0,134.5 65.4,133.1 67.8,129.6C70.2,126.1 72.7,119.6 75.0,116.0C77.3,112.4 79.2,109.7 81.5,108.0C83.8,106.3 86.5,105.8 89.0,106.0C91.5,106.2 93.9,108.0 96.5,109.0C99.1,110.0 101.8,111.8 104.5,112.0C107.2,112.2 109.8,111.0 112.5,110.0C115.2,109.0 118.3,107.5 121.0,106.0C123.7,104.5 125.8,102.8 128.5,101.0C131.2,99.2 135.6,96.0 137.0,95.0" fill="none" stroke="#e8862c" stroke-width="1.25" stroke-linecap="round"/>
<path d="M36.0,150.0C37.4,149.0 41.8,147.3 44.5,144.0C47.2,140.7 49.9,133.5 52.5,130.0C55.1,126.5 57.9,123.7 60.2,122.8C62.5,121.9 64.2,122.7 66.3,124.4C68.3,126.1 70.6,130.6 72.5,133.0C74.4,135.4 75.7,138.8 77.5,139.0C79.3,139.2 81.3,136.0 83.5,134.0C85.7,132.0 88.0,127.5 90.5,127.0C93.0,126.5 95.8,130.8 98.5,131.0C101.2,131.2 103.8,130.3 106.5,128.0C109.2,125.7 112.1,121.0 114.5,117.0C116.9,113.0 118.7,109.2 121.0,104.0C123.3,98.8 125.8,92.3 128.5,86.0C131.2,79.7 135.6,69.3 137.0,66.0" fill="none" stroke="#c0c83a" stroke-width="1.25" stroke-linecap="round"/>
<path d="M36.0,147.8C37.4,147.8 41.8,148.0 44.5,148.0C47.2,148.0 49.8,148.3 52.5,147.8C55.2,147.3 58.0,146.3 60.5,145.0C63.0,143.7 65.4,142.2 67.8,140.2C70.2,138.1 72.7,135.2 75.0,132.7C77.3,130.2 79.2,125.5 81.5,125.0C83.8,124.5 85.7,127.7 88.5,130.0C91.3,132.3 95.5,138.3 98.5,139.0C101.5,139.7 103.8,137.3 106.5,134.0C109.2,130.7 112.1,123.7 114.5,119.0C116.9,114.3 118.7,111.2 121.0,106.0C123.3,100.8 125.8,94.9 128.5,88.0C131.2,81.1 135.6,68.6 137.0,64.7" fill="none" stroke="#4a9a3e" stroke-width="1.25" stroke-linecap="round"/>
<path d="M36.0,138.0C37.4,137.8 41.8,137.7 44.5,137.0C47.2,136.3 49.8,135.0 52.5,134.0C55.2,133.0 57.6,132.3 60.5,131.0C63.4,129.7 66.8,127.8 70.0,126.0C73.2,124.2 76.4,120.0 79.5,120.0C82.6,120.0 85.3,123.3 88.5,126.0C91.7,128.7 95.5,135.2 98.5,136.0C101.5,136.8 103.8,133.7 106.5,131.0C109.2,128.3 112.1,124.2 114.5,120.0C116.9,115.8 118.7,113.3 121.0,106.0C123.3,98.7 125.8,87.2 128.5,76.0C131.2,64.8 135.6,45.2 137.0,39.0" fill="none" stroke="#6c4fb8" stroke-width="1.25" stroke-linecap="round"/>
<path d="M36.0,134.5C37.4,134.5 41.8,134.6 44.5,134.5C47.2,134.4 49.8,134.9 52.5,134.2C55.2,133.4 58.0,131.7 60.5,130.0C63.0,128.3 65.4,126.3 67.8,124.0C70.2,121.7 72.4,118.3 75.0,116.0C77.6,113.7 80.9,111.0 83.5,110.0C86.1,109.0 88.0,109.3 90.5,110.0C93.0,110.7 95.8,112.8 98.5,114.0C101.2,115.2 103.8,116.8 106.5,117.0C109.2,117.2 112.1,115.5 114.5,115.0C116.9,114.5 118.7,114.2 121.0,114.0C123.3,113.8 125.8,114.0 128.5,114.0C131.2,114.0 135.6,114.2 137.0,114.3" fill="none" stroke="#e8862c" stroke-width="1.25" stroke-linecap="round"/>
<path d="M36.0,146.0C37.4,145.8 41.8,145.8 44.5,145.0C47.2,144.2 49.8,142.3 52.5,141.0C55.2,139.7 57.6,138.7 60.5,137.0C63.4,135.3 66.8,133.2 70.0,131.0C73.2,128.8 76.4,124.7 79.5,124.0C82.6,123.3 85.3,125.7 88.5,127.0C91.7,128.3 95.5,131.7 98.5,132.0C101.5,132.3 103.8,131.5 106.5,129.0C109.2,126.5 112.1,120.8 114.5,117.0C116.9,113.2 118.7,110.5 121.0,106.0C123.3,101.5 125.8,96.2 128.5,90.0C131.2,83.8 135.6,72.5 137.0,69.0" fill="none" stroke="#c0c83a" stroke-width="1.25" stroke-linecap="round"/>
<path d="M36.0,146.0C37.4,146.0 41.8,146.2 44.5,146.0C47.2,145.8 49.8,145.7 52.5,145.0C55.2,144.3 57.6,143.5 60.5,142.0C63.4,140.5 66.8,138.5 70.0,136.0C73.2,133.5 76.4,127.8 79.5,127.0C82.6,126.2 85.3,129.3 88.5,131.0C91.7,132.7 95.5,136.7 98.5,137.0C101.5,137.3 103.8,136.0 106.5,133.0C109.2,130.0 112.1,123.2 114.5,119.0C116.9,114.8 118.7,112.5 121.0,108.0C123.3,103.5 125.8,98.0 128.5,92.0C131.2,86.0 135.6,75.3 137.0,72.0" fill="none" stroke="#4a9a3e" stroke-width="1.25" stroke-linecap="round"/>
<path d="M36.0,141.0C37.4,140.8 41.8,140.7 44.5,140.0C47.2,139.3 49.8,138.2 52.5,137.0C55.2,135.8 57.6,134.5 60.5,133.0C63.4,131.5 66.8,129.8 70.0,128.0C73.2,126.2 76.4,122.0 79.5,122.0C82.6,122.0 85.3,125.0 88.5,128.0C91.7,131.0 95.5,138.8 98.5,140.0C101.5,141.2 103.8,138.2 106.5,135.0C109.2,131.8 112.1,125.5 114.5,121.0C116.9,116.5 118.7,114.0 121.0,108.0C123.3,102.0 125.8,93.8 128.5,85.0C131.2,76.2 135.6,60.2 137.0,55.3" fill="none" stroke="#6c4fb8" stroke-width="1.25" stroke-linecap="round"/>
<path d="M36.0,136.0C37.4,136.2 41.8,137.0 44.5,137.0C47.2,137.0 49.8,136.8 52.5,136.0C55.2,135.2 57.6,134.3 60.5,132.0C63.4,129.7 66.8,125.3 70.0,122.0C73.2,118.7 76.8,114.3 79.5,112.0C82.2,109.7 84.0,108.2 86.5,108.0C89.0,107.8 91.5,109.7 94.5,111.0C97.5,112.3 101.2,114.2 104.5,116.0C107.8,117.8 111.3,120.0 114.5,122.0C117.7,124.0 120.8,126.2 123.5,128.0C126.2,129.8 128.2,131.3 130.5,133.0C132.8,134.7 135.9,137.2 137.0,138.0" fill="none" stroke="#e8862c" stroke-width="1.25" stroke-linecap="round"/>
<path d="M36.0,145.0C37.4,144.8 41.8,144.5 44.5,144.0C47.2,143.5 49.8,142.8 52.5,142.0C55.2,141.2 57.6,140.5 60.5,139.0C63.4,137.5 66.8,135.5 70.0,133.0C73.2,130.5 76.4,124.8 79.5,124.0C82.6,123.2 85.3,126.2 88.5,128.0C91.7,129.8 95.5,134.5 98.5,135.0C101.5,135.5 103.8,133.8 106.5,131.0C109.2,128.2 112.1,121.8 114.5,118.0C116.9,114.2 118.7,111.8 121.0,108.0C123.3,104.2 125.8,100.0 128.5,95.0C131.2,90.0 135.6,80.8 137.0,78.0" fill="none" stroke="#4a9a3e" stroke-width="1.25" stroke-linecap="round"/>
<path d="M36.0,144.0C37.4,143.7 41.8,142.8 44.5,142.0C47.2,141.2 49.8,140.2 52.5,139.0C55.2,137.8 57.6,136.7 60.5,135.0C63.4,133.3 66.8,131.0 70.0,129.0C73.2,127.0 76.4,123.3 79.5,123.0C82.6,122.7 85.3,125.3 88.5,127.0C91.7,128.7 95.5,132.7 98.5,133.0C101.5,133.3 103.8,131.5 106.5,129.0C109.2,126.5 112.1,121.3 114.5,118.0C116.9,114.7 118.7,112.0 121.0,109.0C123.3,106.0 125.8,103.2 128.5,100.0C131.2,96.8 135.6,91.7 137.0,90.0" fill="none" stroke="#6c4fb8" stroke-width="1.25" stroke-linecap="round"/>
<path d="M36.0,143.0C37.4,142.8 41.8,142.7 44.5,142.0C47.2,141.3 49.8,140.3 52.5,139.0C55.2,137.7 57.6,136.2 60.5,134.0C63.4,131.8 66.8,128.7 70.0,126.0C73.2,123.3 76.4,119.7 79.5,118.0C82.6,116.3 85.3,115.8 88.5,116.0C91.7,116.2 95.2,118.7 98.5,119.0C101.8,119.3 105.5,119.0 108.5,118.0C111.5,117.0 114.0,115.0 116.5,113.0C119.0,111.0 121.2,108.5 123.5,106.0C125.8,103.5 128.2,101.0 130.5,98.0C132.8,95.0 135.9,89.7 137.0,88.0" fill="none" stroke="#e8862c" stroke-width="1.25" stroke-linecap="round"/>
<path d="M36.0,149.0C37.4,149.0 41.8,149.3 44.5,149.0C47.2,148.7 49.8,148.0 52.5,147.0C55.2,146.0 57.6,144.8 60.5,143.0C63.4,141.2 66.8,138.5 70.0,136.0C73.2,133.5 76.4,128.7 79.5,128.0C82.6,127.3 85.3,130.7 88.5,132.0C91.7,133.3 95.5,136.2 98.5,136.0C101.5,135.8 103.8,133.8 106.5,131.0C109.2,128.2 112.1,122.5 114.5,119.0C116.9,115.5 118.7,113.3 121.0,110.0C123.3,106.7 125.8,103.6 128.5,99.0C131.2,94.4 135.6,85.2 137.0,82.5" fill="none" stroke="#4a9a3e" stroke-width="1.25" stroke-linecap="round"/>
<path d="M36.0,146.0C37.4,145.7 41.8,145.0 44.5,144.0C47.2,143.0 49.8,141.3 52.5,140.0C55.2,138.7 57.6,137.5 60.5,136.0C63.4,134.5 66.8,133.0 70.0,131.0C73.2,129.0 76.4,124.3 79.5,124.0C82.6,123.7 85.3,126.7 88.5,129.0C91.7,131.3 95.5,137.2 98.5,138.0C101.5,138.8 103.8,136.8 106.5,134.0C109.2,131.2 112.1,124.8 114.5,121.0C116.9,117.2 118.7,114.2 121.0,111.0C123.3,107.8 125.8,104.7 128.5,102.0C131.2,99.3 135.6,96.2 137.0,95.0" fill="none" stroke="#6c4fb8" stroke-width="1.25" stroke-linecap="round"/>
<path d="M36.0,140.0C37.4,140.0 41.8,140.3 44.5,140.0C47.2,139.7 49.8,139.0 52.5,138.0C55.2,137.0 57.6,135.8 60.5,134.0C63.4,132.2 66.8,129.3 70.0,127.0C73.2,124.7 76.4,121.3 79.5,120.0C82.6,118.7 85.3,118.8 88.5,119.0C91.7,119.2 95.2,121.0 98.5,121.0C101.8,121.0 105.5,119.8 108.5,119.0C111.5,118.2 114.0,116.5 116.5,116.0C119.0,115.5 121.2,115.7 123.5,116.0C125.8,116.3 128.2,117.5 130.5,118.0C132.8,118.5 135.9,119.1 137.0,119.3" fill="none" stroke="#e8862c" stroke-width="1.25" stroke-linecap="round"/>
<path d="M36.0,139.0C37.4,138.8 41.8,138.7 44.5,138.0C47.2,137.3 49.8,136.0 52.5,135.0C55.2,134.0 57.6,133.3 60.5,132.0C63.4,130.7 66.8,128.8 70.0,127.0C73.2,125.2 76.4,121.5 79.5,121.0C82.6,120.5 85.3,122.8 88.5,124.0C91.7,125.2 95.5,128.0 98.5,128.0C101.5,128.0 103.8,126.0 106.5,124.0C109.2,122.0 112.1,118.5 114.5,116.0C116.9,113.5 118.7,112.0 121.0,109.0C123.3,106.0 125.8,102.1 128.5,98.0C131.2,93.9 135.6,86.8 137.0,84.6" fill="none" stroke="#6c4fb8" stroke-width="1.25" stroke-linecap="round"/>
<path d="M36.0,147.0C37.4,146.8 41.8,146.7 44.5,146.0C47.2,145.3 49.8,144.2 52.5,143.0C55.2,141.8 57.6,141.0 60.5,139.0C63.4,137.0 66.8,134.0 70.0,131.0C73.2,128.0 76.4,123.7 79.5,121.0C82.6,118.3 85.3,116.3 88.5,115.0C91.7,113.7 95.2,113.5 98.5,113.0C101.8,112.5 105.5,112.7 108.5,112.0C111.5,111.3 114.0,110.5 116.5,109.0C119.0,107.5 121.2,105.2 123.5,103.0C125.8,100.8 128.2,98.2 130.5,96.0C132.8,93.8 135.9,91.0 137.0,90.0" fill="none" stroke="#e8862c" stroke-width="1.25" stroke-linecap="round"/>
<path d="M34.1,129.4C38.2,129.5 50.3,129.5 58.5,129.5C66.7,129.5 76.0,129.7 83.5,129.3C91.0,128.9 98.5,128.0 103.5,127.0C108.5,126.0 110.5,123.5 113.7,123.1C116.9,122.7 119.4,124.0 122.5,124.8C125.6,125.6 130.7,127.5 132.3,128.0" fill="none" stroke="#6c4fb8" stroke-width="1.5" stroke-dasharray="4.5 2.3"/>
<path d="M58.5,142.0C61.2,142.1 70.2,142.7 74.5,142.5C78.8,142.3 81.2,141.8 84.5,141.0C87.8,140.2 91.2,139.2 94.5,138.0C97.8,136.8 101.7,135.1 104.5,134.0C107.3,132.9 108.5,132.6 111.5,131.4C114.5,130.2 118.8,128.7 122.5,127.0C126.2,125.3 130.3,124.1 133.4,121.5C136.5,118.9 138.9,114.3 141.1,111.6C143.3,108.8 144.7,108.3 146.5,105.0C148.3,101.7 151.1,94.2 152.0,92.0" fill="none" stroke="#e8862c" stroke-width="1.5" stroke-dasharray="2 2"/>
<path d="M112.5,129.2C114.2,129.6 119.9,131.3 122.5,131.4C125.1,131.5 125.6,131.3 128.0,129.7C130.4,128.0 134.1,124.0 136.7,121.5C139.2,119.0 141.3,117.3 143.3,114.9C145.3,112.5 147.2,110.0 148.8,107.2C150.4,104.5 152.0,99.9 152.7,98.4" fill="none" stroke="#6c4fb8" stroke-width="1.5" stroke-dasharray="2 2"/>
<path d="M172.2,135.0C173.9,133.8 179.3,130.3 182.5,128.0C185.7,125.7 188.8,122.0 191.5,121.0C194.2,120.0 196.0,121.0 198.5,122.0C201.0,123.0 203.5,126.0 206.5,127.0C209.5,128.0 213.2,128.3 216.5,128.0C219.8,127.7 223.2,126.3 226.5,125.0C229.8,123.7 233.5,121.5 236.5,120.0C239.5,118.5 241.9,117.3 244.5,116.0C247.1,114.7 249.2,112.7 252.2,112.0C255.2,111.3 259.0,111.8 262.5,112.0C266.0,112.2 271.2,112.8 273.0,113.0" fill="none" stroke="#e8862c" stroke-width="1.25" stroke-linecap="round"/>
<path d="M172.2,141.0C174.2,140.3 179.8,138.2 184.5,137.0C189.2,135.8 195.5,135.0 200.5,134.0C205.5,133.0 210.5,131.7 214.5,131.0C218.5,130.3 221.5,129.8 224.5,130.0C227.5,130.2 229.8,132.3 232.5,132.0C235.2,131.7 237.8,130.3 240.5,128.0C243.2,125.7 245.8,122.0 248.5,118.0C251.2,114.0 253.8,109.3 256.5,104.0C259.2,98.7 261.8,92.3 264.5,86.0C267.2,79.7 271.6,69.3 273.0,66.0" fill="none" stroke="#c0c83a" stroke-width="1.25" stroke-linecap="round"/>
<path d="M172.2,138.0C174.2,137.8 179.8,137.3 184.5,137.0C189.2,136.7 195.5,137.3 200.5,136.0C205.5,134.7 210.8,130.3 214.5,129.0C218.2,127.7 220.2,127.3 222.5,128.0C224.8,128.7 226.7,131.5 228.5,133.0C230.3,134.5 231.5,137.2 233.5,137.0C235.5,136.8 238.0,134.8 240.5,132.0C243.0,129.2 245.8,124.5 248.5,120.0C251.2,115.5 253.8,110.8 256.5,105.0C259.2,99.2 261.8,92.4 264.5,85.0C267.2,77.6 271.6,64.7 273.0,60.6" fill="none" stroke="#4a9a3e" stroke-width="1.25" stroke-linecap="round"/>
<path d="M172.2,138.0C173.6,136.7 177.6,132.7 180.5,130.0C183.4,127.3 186.7,122.8 189.5,122.0C192.3,121.2 194.7,123.5 197.5,125.0C200.3,126.5 203.3,129.5 206.5,131.0C209.7,132.5 213.2,133.2 216.5,134.0C219.8,134.8 223.2,136.7 226.5,136.0C229.8,135.3 233.5,132.3 236.5,130.0C239.5,127.7 241.8,125.3 244.5,122.0C247.2,118.7 250.0,115.3 252.5,110.0C255.0,104.7 257.2,98.0 259.5,90.0C261.8,82.0 264.2,71.4 266.5,62.0C268.8,52.6 271.9,38.2 273.0,33.4" fill="none" stroke="#6c4fb8" stroke-width="1.25" stroke-linecap="round"/>
<path d="M172.2,140.0C173.9,138.7 179.1,134.8 182.5,132.0C185.9,129.2 189.8,124.5 192.5,123.0C195.2,121.5 196.2,122.0 198.5,123.0C200.8,124.0 203.5,127.7 206.5,129.0C209.5,130.3 213.2,130.8 216.5,131.0C219.8,131.2 223.2,131.2 226.5,130.0C229.8,128.8 233.2,126.3 236.5,124.0C239.8,121.7 243.2,119.3 246.5,116.0C249.8,112.7 253.5,108.3 256.5,104.0C259.5,99.7 261.8,95.3 264.5,90.0C267.2,84.7 271.6,75.0 273.0,72.0" fill="none" stroke="#e8862c" stroke-width="1.25" stroke-linecap="round"/>
<path d="M172.2,140.0C174.2,139.8 179.8,139.5 184.5,139.0C189.2,138.5 195.5,138.2 200.5,137.0C205.5,135.8 210.8,133.0 214.5,132.0C218.2,131.0 220.2,130.5 222.5,131.0C224.8,131.5 226.7,133.8 228.5,135.0C230.3,136.2 231.5,138.3 233.5,138.0C235.5,137.7 238.0,135.7 240.5,133.0C243.0,130.3 245.8,126.2 248.5,122.0C251.2,117.8 253.8,113.7 256.5,108.0C259.2,102.3 261.8,95.2 264.5,88.0C267.2,80.8 271.6,68.6 273.0,64.7" fill="none" stroke="#4a9a3e" stroke-width="1.25" stroke-linecap="round"/>
<path d="M172.2,142.0C173.6,140.7 177.6,137.0 180.5,134.0C183.4,131.0 186.7,125.3 189.5,124.0C192.3,122.7 194.7,124.7 197.5,126.0C200.3,127.3 203.3,130.3 206.5,132.0C209.7,133.7 213.2,134.8 216.5,136.0C219.8,137.2 223.5,138.7 226.5,139.0C229.5,139.3 231.5,140.3 234.5,138.0C237.5,135.7 241.5,129.3 244.5,125.0C247.5,120.7 249.8,117.0 252.5,112.0C255.2,107.0 258.2,100.7 260.5,95.0C262.8,89.3 264.4,84.7 266.5,78.0C268.6,71.3 271.9,58.8 273.0,55.0" fill="none" stroke="#6c4fb8" stroke-width="1.25" stroke-linecap="round"/>
<path d="M172.2,144.0C173.9,143.0 179.1,140.7 182.5,138.0C185.9,135.3 189.5,130.0 192.5,128.0C195.5,126.0 197.5,125.7 200.5,126.0C203.5,126.3 207.2,129.0 210.5,130.0C213.8,131.0 217.5,131.8 220.5,132.0C223.5,132.2 225.8,132.2 228.5,131.0C231.2,129.8 233.5,127.7 236.5,125.0C239.5,122.3 243.2,118.5 246.5,115.0C249.8,111.5 253.5,107.7 256.5,104.0C259.5,100.3 261.8,96.6 264.5,93.0C267.2,89.4 271.6,84.2 273.0,82.5" fill="none" stroke="#e8862c" stroke-width="1.25" stroke-linecap="round"/>
<path d="M172.2,137.0C174.2,136.8 179.8,136.5 184.5,136.0C189.2,135.5 195.5,135.3 200.5,134.0C205.5,132.7 210.5,129.3 214.5,128.0C218.5,126.7 221.5,126.0 224.5,126.0C227.5,126.0 229.8,128.0 232.5,128.0C235.2,128.0 237.8,127.8 240.5,126.0C243.2,124.2 245.8,120.3 248.5,117.0C251.2,113.7 253.8,110.2 256.5,106.0C259.2,101.8 261.8,97.2 264.5,92.0C267.2,86.8 271.6,77.8 273.0,75.0" fill="none" stroke="#4a9a3e" stroke-width="1.25" stroke-linecap="round"/>
<path d="M172.2,145.0C173.6,143.8 177.6,141.0 180.5,138.0C183.4,135.0 186.7,128.7 189.5,127.0C192.3,125.3 194.7,126.8 197.5,128.0C200.3,129.2 203.3,132.3 206.5,134.0C209.7,135.7 213.5,136.8 216.5,138.0C219.5,139.2 222.0,140.3 224.5,141.0C227.0,141.7 229.0,142.7 231.5,142.0C234.0,141.3 237.1,139.1 239.5,137.0C241.9,134.9 243.1,133.7 245.9,129.7C248.7,125.7 252.8,118.6 256.3,113.0C259.8,107.4 264.0,100.3 266.8,96.0C269.6,91.7 272.0,88.5 273.0,87.0" fill="none" stroke="#6c4fb8" stroke-width="1.25" stroke-linecap="round"/>
<path d="M172.2,147.0C173.9,146.2 179.1,144.3 182.5,142.0C185.9,139.7 189.5,135.3 192.5,133.0C195.5,130.7 197.5,128.5 200.5,128.0C203.5,127.5 207.2,129.5 210.5,130.0C213.8,130.5 217.5,131.0 220.5,131.0C223.5,131.0 225.8,131.2 228.5,130.0C231.2,128.8 233.5,126.7 236.5,124.0C239.5,121.3 243.2,117.3 246.5,114.0C249.8,110.7 253.5,107.2 256.5,104.0C259.5,100.8 261.8,97.9 264.5,95.0C267.2,92.1 271.6,88.1 273.0,86.7" fill="none" stroke="#e8862c" stroke-width="1.25" stroke-linecap="round"/>
<path d="M172.2,137.0C173.6,136.0 177.6,133.0 180.5,131.0C183.4,129.0 186.7,125.8 189.5,125.0C192.3,124.2 194.7,125.5 197.5,126.0C200.3,126.5 203.3,127.8 206.5,128.0C209.7,128.2 213.4,128.3 216.5,127.0C219.6,125.7 222.1,121.8 225.0,120.0C227.9,118.2 230.8,117.6 234.0,116.3C237.2,115.0 241.1,113.7 244.5,112.0C247.9,110.3 251.2,108.0 254.5,106.0C257.8,104.0 261.4,101.5 264.5,100.0C267.6,98.5 271.6,97.5 273.0,97.0" fill="none" stroke="#6c4fb8" stroke-width="1.25" stroke-linecap="round"/>
<path d="M172.2,133.0C173.9,132.0 179.1,128.8 182.5,127.0C185.9,125.2 189.5,122.5 192.5,122.0C195.5,121.5 197.5,123.2 200.5,124.0C203.5,124.8 207.2,126.7 210.5,127.0C213.8,127.3 217.8,127.0 220.5,126.0C223.2,125.0 224.2,122.5 226.5,121.0C228.8,119.5 231.3,118.2 234.0,117.0C236.7,115.8 239.5,114.8 242.5,114.0C245.5,113.2 248.9,112.7 252.2,112.0C255.5,111.3 259.0,111.2 262.5,110.0C266.0,108.8 271.2,105.8 273.0,105.0" fill="none" stroke="#e8862c" stroke-width="1.25" stroke-linecap="round"/>
<path d="M172.2,140.0C173.9,138.8 179.1,135.5 182.5,133.0C185.9,130.5 189.5,125.8 192.5,125.0C195.5,124.2 197.5,126.7 200.5,128.0C203.5,129.3 207.2,131.7 210.5,133.0C213.8,134.3 217.5,135.2 220.5,136.0C223.5,136.8 225.8,138.3 228.5,138.0C231.2,137.7 233.5,136.3 236.5,134.0C239.5,131.7 243.2,128.0 246.5,124.0C249.8,120.0 253.5,114.8 256.5,110.0C259.5,105.2 261.8,100.7 264.5,95.0C267.2,89.3 271.6,79.2 273.0,76.0" fill="none" stroke="#6c4fb8" stroke-width="1.25" stroke-linecap="round"/>
<path d="M178.5,141.7C180.3,142.1 185.8,143.4 189.5,144.0C193.2,144.6 196.3,145.4 200.5,145.3C204.7,145.2 210.5,144.6 214.5,143.5C218.5,142.4 221.2,140.8 224.5,139.0C227.8,137.2 230.8,135.1 234.5,132.6C238.2,130.1 242.3,126.6 246.5,124.0C250.7,121.4 255.1,118.7 259.5,117.0C263.9,115.3 268.3,113.8 273.0,114.0C277.7,114.2 285.1,117.5 287.5,118.2" fill="none" stroke="#e8862c" stroke-width="1.5" stroke-dasharray="2 2"/>
<path d="M170.5,125.4C172.8,125.8 180.2,127.0 184.5,128.0C188.8,129.1 192.2,131.7 196.5,131.7C200.8,131.7 205.8,129.4 210.5,128.0C215.2,126.6 218.7,124.5 224.5,123.4C230.3,122.3 238.5,121.7 245.5,121.3C252.5,120.9 261.3,121.8 266.5,121.3C271.7,120.8 273.0,119.9 276.5,118.0C280.0,116.1 285.7,111.2 287.5,109.8" fill="none" stroke="#6c4fb8" stroke-width="1.5" stroke-dasharray="4.5 2.3"/>
<path d="M176.5,148.0C178.3,147.1 183.7,144.4 187.5,142.6C191.3,140.8 195.0,138.8 199.5,137.0C204.0,135.2 209.5,133.5 214.5,132.0C219.5,130.5 224.5,129.3 229.5,128.0C234.5,126.7 239.5,125.0 244.5,124.0C249.5,123.0 254.8,122.4 259.5,122.0C264.2,121.6 270.8,121.6 273.0,121.5" fill="none" stroke="#6c4fb8" stroke-width="1.5" stroke-dasharray="2 2"/>
<path d="M307.8,138.0C309.6,137.7 314.7,137.0 318.5,136.0C322.3,135.0 326.8,133.5 330.5,132.0C334.2,130.5 337.2,129.3 340.5,127.0C343.8,124.7 347.2,121.3 350.5,118.0C353.8,114.7 357.2,110.3 360.5,107.0C363.8,103.7 367.2,100.3 370.5,98.0C373.8,95.7 377.7,94.1 380.5,93.0C383.3,91.9 385.0,91.0 387.5,91.2C390.0,91.4 393.0,92.5 395.5,94.0C398.0,95.5 400.3,98.2 402.5,100.0C404.7,101.8 407.8,104.2 408.9,105.0" fill="none" stroke="#e8862c" stroke-width="1.25" stroke-linecap="round"/>
<path d="M307.8,141.0C309.6,140.2 314.7,137.8 318.5,136.0C322.3,134.2 326.5,132.0 330.5,130.0C334.5,128.0 338.8,126.3 342.5,124.0C346.2,121.7 349.2,119.0 352.5,116.0C355.8,113.0 359.2,109.2 362.5,106.0C365.8,102.8 369.5,99.2 372.5,97.0C375.5,94.8 377.5,93.5 380.5,93.0C383.5,92.5 387.2,93.3 390.5,94.0C393.8,94.7 397.4,96.0 400.5,97.0C403.6,98.0 407.5,99.5 408.9,100.0" fill="none" stroke="#c0c83a" stroke-width="1.25" stroke-linecap="round"/>
<path d="M307.8,144.0C309.6,143.2 314.7,140.7 318.5,139.0C322.3,137.3 326.5,135.5 330.5,134.0C334.5,132.5 338.8,131.0 342.5,130.0C346.2,129.0 349.4,128.5 352.5,128.0C355.6,127.5 358.5,127.0 360.8,127.2C363.1,127.4 364.3,128.4 366.5,129.0C368.7,129.6 371.8,131.3 374.0,130.5C376.2,129.7 377.7,126.8 379.5,124.0C381.3,121.2 382.8,117.0 385.0,114.0C387.2,111.0 390.0,108.6 392.5,106.0C395.0,103.4 397.3,102.0 400.0,98.6C402.7,95.2 407.4,87.8 408.9,85.7" fill="none" stroke="#4a9a3e" stroke-width="1.25" stroke-linecap="round"/>
<path d="M307.8,140.0C309.2,138.8 314.1,135.3 316.5,133.0C318.9,130.7 320.4,127.8 322.5,126.0C324.6,124.2 327.0,122.5 329.2,122.3C331.4,122.1 333.2,123.9 335.5,125.0C337.8,126.1 340.4,128.8 342.9,129.1C345.4,129.4 347.9,127.8 350.5,127.0C353.1,126.2 356.2,124.2 358.5,124.0C360.8,123.8 362.3,124.4 364.5,126.0C366.7,127.6 369.5,133.1 371.8,133.8C374.1,134.5 376.3,132.2 378.5,130.0C380.7,127.8 382.7,124.8 385.0,120.6C387.3,116.4 390.0,111.3 392.5,105.0C395.0,98.7 397.3,89.2 400.0,83.0C402.7,76.8 407.4,70.4 408.9,67.9" fill="none" stroke="#6c4fb8" stroke-width="1.25" stroke-linecap="round"/>
<path d="M307.8,142.0C309.6,141.5 314.7,140.2 318.5,139.0C322.3,137.8 326.8,136.5 330.5,135.0C334.2,133.5 337.2,132.0 340.5,130.0C343.8,128.0 347.2,125.8 350.5,123.0C353.8,120.2 357.2,116.3 360.5,113.0C363.8,109.7 367.2,105.8 370.5,103.0C373.8,100.2 377.5,97.3 380.5,96.0C383.5,94.7 385.8,94.5 388.5,95.0C391.2,95.5 394.2,96.8 396.5,99.0C398.8,101.2 400.4,104.3 402.5,108.0C404.6,111.7 407.8,119.2 408.9,121.4" fill="none" stroke="#e8862c" stroke-width="1.25" stroke-linecap="round"/>
<path d="M307.8,146.0C309.6,145.2 314.7,142.8 318.5,141.0C322.3,139.2 326.5,136.7 330.5,135.0C334.5,133.3 338.8,132.0 342.5,131.0C346.2,130.0 349.2,129.0 352.5,129.0C355.8,129.0 359.5,130.5 362.5,131.0C365.5,131.5 368.2,132.2 370.5,132.0C372.8,131.8 374.2,132.3 376.5,130.0C378.8,127.7 381.8,122.2 384.5,118.0C387.2,113.8 389.8,108.7 392.5,105.0C395.2,101.3 397.8,98.3 400.5,96.0C403.2,93.7 407.5,91.8 408.9,91.0" fill="none" stroke="#4a9a3e" stroke-width="1.25" stroke-linecap="round"/>
<path d="M307.8,148.0C309.6,147.0 314.7,144.2 318.5,142.0C322.3,139.8 326.8,137.2 330.5,135.0C334.2,132.8 337.3,131.0 340.5,129.0C343.7,127.0 347.1,125.3 349.8,122.8C352.5,120.3 354.3,116.4 356.5,114.0C358.7,111.6 360.7,110.0 363.0,108.5C365.3,107.0 367.6,105.9 370.5,105.0C373.4,104.1 377.2,103.3 380.5,103.0C383.8,102.7 387.2,102.8 390.5,103.0C393.8,103.2 396.9,103.2 400.0,104.0C403.1,104.8 407.4,107.1 408.9,107.7" fill="none" stroke="#6c4fb8" stroke-width="1.25" stroke-linecap="round"/>
<path d="M307.8,146.0C309.6,145.5 314.7,144.3 318.5,143.0C322.3,141.7 326.8,139.7 330.5,138.0C334.2,136.3 337.2,134.8 340.5,133.0C343.8,131.2 347.2,129.7 350.5,127.0C353.8,124.3 357.2,120.5 360.5,117.0C363.8,113.5 367.2,109.2 370.5,106.0C373.8,102.8 377.5,99.8 380.5,98.0C383.5,96.2 385.8,95.7 388.5,95.0C391.2,94.3 394.2,94.2 396.5,94.0C398.8,93.8 400.4,94.0 402.5,94.0C404.6,94.0 407.8,94.0 408.9,94.0" fill="none" stroke="#e8862c" stroke-width="1.25" stroke-linecap="round"/>
<path d="M307.8,148.4C309.8,148.1 315.5,147.6 320.0,146.8C324.5,146.0 330.4,145.6 335.0,143.8C339.6,142.1 343.7,138.9 347.3,136.3C350.9,133.7 353.6,130.3 356.5,128.0C359.4,125.7 362.1,124.5 365.0,122.7C367.9,120.9 370.6,118.6 374.0,117.3C377.4,116.0 381.9,115.9 385.5,115.0C389.1,114.1 391.6,112.5 395.5,112.0C399.4,111.5 406.7,111.8 408.9,111.8" fill="none" stroke="#6c4fb8" stroke-width="1.25" stroke-linecap="round"/>
<path d="M307.8,140.0C309.6,139.5 314.7,138.2 318.5,137.0C322.3,135.8 326.8,134.3 330.5,133.0C334.2,131.7 337.2,130.5 340.5,129.0C343.8,127.5 347.2,126.2 350.5,124.0C353.8,121.8 357.2,118.7 360.5,116.0C363.8,113.3 367.2,110.3 370.5,108.0C373.8,105.7 377.5,103.3 380.5,102.0C383.5,100.7 385.8,100.3 388.5,100.0C391.2,99.7 394.2,100.0 396.5,100.0C398.8,100.0 400.4,100.3 402.5,100.0C404.6,99.7 407.8,98.3 408.9,98.0" fill="none" stroke="#e8862c" stroke-width="1.25" stroke-linecap="round"/>
<path d="M307.8,143.0C309.6,142.2 314.7,139.8 318.5,138.0C322.3,136.2 326.8,133.7 330.5,132.0C334.2,130.3 337.2,129.2 340.5,128.0C343.8,126.8 347.2,126.0 350.5,125.0C353.8,124.0 357.2,123.2 360.5,122.0C363.8,120.8 367.2,119.7 370.5,118.0C373.8,116.3 377.2,114.5 380.5,112.0C383.8,109.5 387.2,106.2 390.5,103.0C393.8,99.8 396.9,96.3 400.0,93.0C403.1,89.7 407.4,84.7 408.9,83.0" fill="none" stroke="#6c4fb8" stroke-width="1.25" stroke-linecap="round"/>
<path d="M307.8,149.6C309.6,148.8 314.7,146.8 318.5,145.0C322.3,143.2 326.8,140.8 330.5,139.0C334.2,137.2 337.2,135.7 340.5,134.0C343.8,132.3 347.2,131.0 350.5,129.0C353.8,127.0 357.2,124.7 360.5,122.0C363.8,119.3 367.2,115.7 370.5,113.0C373.8,110.3 377.5,107.7 380.5,106.0C383.5,104.3 385.8,103.5 388.5,103.0C391.2,102.5 394.2,102.8 396.5,103.0C398.8,103.2 400.4,104.0 402.5,104.0C404.6,104.0 407.8,103.2 408.9,103.0" fill="none" stroke="#e8862c" stroke-width="1.25" stroke-linecap="round"/>
<path d="M307.8,137.0C309.6,136.5 314.7,135.2 318.5,134.0C322.3,132.8 326.8,131.3 330.5,130.0C334.2,128.7 337.2,127.5 340.5,126.0C343.8,124.5 347.2,123.5 350.5,121.0C353.8,118.5 357.2,114.3 360.5,111.0C363.8,107.7 367.2,103.5 370.5,101.0C373.8,98.5 377.5,96.7 380.5,96.0C383.5,95.3 385.8,96.2 388.5,97.0C391.2,97.8 394.2,99.5 396.5,101.0C398.8,102.5 400.4,104.2 402.5,106.0C404.6,107.8 407.8,111.0 408.9,112.0" fill="none" stroke="#e8862c" stroke-width="1.25" stroke-linecap="round"/>
<path d="M307.8,145.0C309.8,144.8 315.5,144.5 320.0,143.8C324.5,143.1 330.4,142.3 335.0,140.8C339.6,139.3 343.7,137.1 347.3,135.0C350.9,132.9 353.6,130.8 356.5,128.0C359.4,125.2 362.3,121.3 365.0,118.0C367.7,114.7 369.9,111.0 372.5,108.0C375.1,105.0 377.8,101.8 380.5,100.0C383.2,98.2 385.8,97.3 388.5,97.0C391.2,96.7 394.2,97.2 396.5,98.0C398.8,98.8 400.4,100.0 402.5,102.0C404.6,104.0 407.8,108.7 408.9,110.0" fill="none" stroke="#e8862c" stroke-width="1.25" stroke-linecap="round"/>
<path d="M305.8,127.2C308.1,127.0 315.4,126.7 319.5,126.2C323.6,125.7 327.2,124.7 330.5,124.0C333.8,123.3 335.6,123.6 339.0,122.3C342.4,121.0 347.4,118.1 350.7,116.4C353.9,114.7 357.2,112.7 358.5,112.0" fill="none" stroke="#6c4fb8" stroke-width="1.5" stroke-dasharray="4.5 2.3"/>
<path d="M360.5,125.0C363.2,124.6 370.6,123.2 376.5,122.8C382.4,122.4 390.4,123.0 395.7,122.8C401.0,122.6 403.4,122.5 408.5,121.4C413.6,120.3 423.1,116.9 426.0,116.0" fill="none" stroke="#6c4fb8" stroke-width="1.5" stroke-dasharray="4.5 2.3"/>
<path d="M340.5,144.0C342.4,143.4 348.3,142.1 352.0,140.4C355.7,138.7 359.0,135.9 362.7,134.0C366.4,132.1 369.9,130.9 374.0,129.0C378.1,127.1 383.2,124.5 387.5,122.8C391.8,121.1 396.4,120.1 400.0,119.0C403.6,117.9 404.7,118.1 409.0,116.0C413.3,113.9 423.2,107.9 426.0,106.3" fill="none" stroke="#e8862c" stroke-width="1.5" stroke-dasharray="2 2"/>
<path d="M443.8,134.3C444.4,134.8 446.2,136.4 447.5,137.0C448.8,137.6 449.5,138.5 451.5,138.0C453.5,137.5 456.4,135.8 459.5,134.0C462.6,132.2 466.2,130.0 470.0,127.0C473.8,124.0 478.5,119.0 482.3,116.0C486.1,113.0 489.9,110.5 492.9,109.0C495.9,107.5 498.1,107.2 500.5,107.0C502.9,106.8 504.7,106.8 507.5,107.5C510.3,108.2 514.2,109.2 517.5,111.0C520.8,112.8 524.5,115.5 527.5,118.0C530.5,120.5 532.8,123.3 535.5,126.0C538.2,128.7 542.6,132.7 544.0,134.0" fill="none" stroke="#e8862c" stroke-width="1.25" stroke-linecap="round"/>
<path d="M443.8,142.0C444.8,141.3 447.6,139.8 449.5,138.0C451.4,136.2 453.0,133.1 455.0,131.0C457.0,128.9 459.7,126.5 461.5,125.2C463.3,123.9 464.0,123.6 465.7,123.0C467.4,122.4 469.5,122.2 471.8,121.4C474.1,120.6 476.9,119.4 479.5,118.0C482.1,116.6 484.8,114.2 487.5,113.0C490.2,111.8 492.5,111.0 495.5,110.5C498.5,110.0 502.2,109.8 505.5,110.0C508.8,110.2 511.8,111.0 515.5,112.0C519.2,113.0 524.2,114.7 527.5,116.0C530.8,117.3 532.8,119.0 535.5,120.0C538.2,121.0 542.6,121.8 544.0,122.2" fill="none" stroke="#c0c83a" stroke-width="1.25" stroke-linecap="round"/>
<path d="M443.8,144.9C445.7,144.4 450.6,143.8 455.0,142.0C459.4,140.2 465.4,137.3 470.0,134.0C474.6,130.7 478.5,125.3 482.3,122.0C486.1,118.7 489.9,115.7 492.9,114.0C495.9,112.3 498.1,112.4 500.5,112.0C502.9,111.6 504.7,111.3 507.5,111.5C510.3,111.7 514.2,112.1 517.5,113.0C520.8,113.9 524.5,115.3 527.5,117.0C530.5,118.7 532.8,121.0 535.5,123.0C538.2,125.0 542.6,128.0 544.0,129.0" fill="none" stroke="#4a9a3e" stroke-width="1.25" stroke-linecap="round"/>
<path d="M443.8,139.0C445.7,138.8 450.6,139.5 455.0,138.0C459.4,136.5 465.4,133.5 470.0,130.0C474.6,126.5 478.5,120.5 482.3,117.0C486.1,113.5 489.9,110.9 492.9,109.0C495.9,107.1 498.0,106.2 500.5,105.5C503.0,104.8 505.0,104.5 507.8,104.8C510.6,105.0 514.2,105.6 517.5,107.0C520.8,108.4 524.5,110.5 527.5,113.0C530.5,115.5 532.8,118.1 535.5,122.0C538.2,125.9 542.6,133.9 544.0,136.3" fill="none" stroke="#6c4fb8" stroke-width="1.25" stroke-linecap="round"/>
<path d="M443.8,146.0C445.7,145.6 450.6,145.1 455.0,143.4C459.4,141.7 465.4,139.2 470.0,135.8C474.6,132.4 478.5,127.0 482.3,123.0C486.1,119.0 489.9,114.3 492.9,112.0C495.9,109.7 498.1,109.5 500.5,109.0C502.9,108.5 504.7,108.7 507.5,109.0C510.3,109.3 514.2,109.8 517.5,111.0C520.8,112.2 524.5,114.3 527.5,116.0C530.5,117.7 532.8,119.3 535.5,121.0C538.2,122.7 542.6,125.2 544.0,126.0" fill="none" stroke="#e8862c" stroke-width="1.25" stroke-linecap="round"/>
<path d="M443.8,143.4C445.7,143.0 450.6,142.6 455.0,141.0C459.4,139.4 465.4,136.8 470.0,134.0C474.6,131.2 478.5,127.0 482.3,124.0C486.1,121.0 489.9,117.7 492.9,116.0C495.9,114.3 498.1,114.3 500.5,114.0C502.9,113.7 504.7,113.8 507.5,114.0C510.3,114.2 514.2,114.3 517.5,115.0C520.8,115.7 524.5,116.8 527.5,118.0C530.5,119.2 532.8,120.8 535.5,122.0C538.2,123.2 542.6,124.5 544.0,125.0" fill="none" stroke="#4a9a3e" stroke-width="1.25" stroke-linecap="round"/>
<path d="M443.8,141.0C445.7,140.8 450.6,141.3 455.0,140.0C459.4,138.7 465.4,135.8 470.0,133.0C474.6,130.2 478.5,125.8 482.3,123.0C486.1,120.2 489.9,117.5 492.9,116.2C495.9,115.0 498.1,115.6 500.5,115.5C502.9,115.4 504.7,115.5 507.5,115.6C510.3,115.7 514.2,115.4 517.5,116.0C520.8,116.6 524.5,117.5 527.5,119.0C530.5,120.5 532.8,122.8 535.5,125.0C538.2,127.2 542.6,130.8 544.0,132.0" fill="none" stroke="#6c4fb8" stroke-width="1.25" stroke-linecap="round"/>
<path d="M443.8,145.0C445.7,144.5 450.6,144.0 455.0,142.0C459.4,140.0 465.4,137.0 470.0,133.0C474.6,129.0 478.5,122.1 482.3,118.0C486.1,113.9 489.9,110.5 492.9,108.6C495.9,106.6 498.1,106.6 500.5,106.3C502.9,106.0 504.7,106.0 507.5,106.5C510.3,107.0 514.2,107.8 517.5,109.0C520.8,110.2 524.5,112.3 527.5,114.0C530.5,115.7 532.8,117.3 535.5,119.0C538.2,120.7 542.6,123.2 544.0,124.0" fill="none" stroke="#e8862c" stroke-width="1.25" stroke-linecap="round"/>
<path d="M443.8,143.0C445.7,142.7 450.6,142.5 455.0,141.0C459.4,139.5 465.4,137.2 470.0,134.0C474.6,130.8 479.3,124.9 482.3,122.0C485.3,119.1 485.6,117.2 488.1,116.5C490.6,115.8 494.2,117.2 497.5,117.5C500.8,117.8 504.5,118.5 507.8,118.4C511.1,118.3 514.2,117.6 517.5,117.0C520.8,116.4 524.5,115.4 527.5,114.6C530.5,113.8 532.8,112.9 535.5,112.0C538.2,111.1 542.6,109.8 544.0,109.4" fill="none" stroke="#6c4fb8" stroke-width="1.25" stroke-linecap="round"/>
<path d="M443.8,143.0C445.7,142.7 450.6,142.7 455.0,141.0C459.4,139.3 465.4,136.3 470.0,133.0C474.6,129.7 478.5,124.3 482.3,121.0C486.1,117.7 489.9,114.7 492.9,113.0C495.9,111.3 498.1,111.4 500.5,111.0C502.9,110.6 504.7,110.5 507.5,110.5C510.3,110.5 514.2,110.6 517.5,111.0C520.8,111.4 524.5,112.3 527.5,113.0C530.5,113.7 532.8,114.5 535.5,115.0C538.2,115.5 542.6,115.9 544.0,116.1" fill="none" stroke="#e8862c" stroke-width="1.25" stroke-linecap="round"/>
<path d="M443.8,140.0C445.7,139.8 450.6,140.3 455.0,139.0C459.4,137.7 465.4,134.5 470.0,132.0C474.6,129.5 478.5,126.3 482.3,124.0C486.1,121.7 489.9,119.2 492.9,118.0C495.9,116.8 498.1,117.2 500.5,117.0C502.9,116.8 504.7,116.8 507.5,117.0C510.3,117.2 514.2,117.3 517.5,118.0C520.8,118.7 524.5,119.7 527.5,121.0C530.5,122.3 532.8,124.5 535.5,126.0C538.2,127.5 542.6,129.3 544.0,130.0" fill="none" stroke="#6c4fb8" stroke-width="1.25" stroke-linecap="round"/>
<path d="M443.8,137.0C445.7,137.0 450.6,138.0 455.0,137.0C459.4,136.0 465.4,134.0 470.0,131.0C474.6,128.0 478.5,122.5 482.3,119.0C486.1,115.5 489.9,111.8 492.9,110.0C495.9,108.2 498.1,108.2 500.5,108.0C502.9,107.8 504.7,107.8 507.5,108.5C510.3,109.2 514.2,110.2 517.5,112.0C520.8,113.8 524.5,116.3 527.5,119.0C530.5,121.7 532.8,124.5 535.5,128.0C538.2,131.6 542.6,138.2 544.0,140.3" fill="none" stroke="#e8862c" stroke-width="1.25" stroke-linecap="round"/>
<path d="M441.5,132.0C443.8,131.9 450.7,131.7 455.5,131.3C460.3,130.9 465.9,130.5 470.2,129.8C474.5,129.1 477.8,127.9 481.5,127.0C485.2,126.1 489.4,125.3 492.5,124.5C495.6,123.7 497.2,122.7 500.2,122.0C503.2,121.3 507.2,121.0 510.5,120.5C513.8,120.0 516.5,119.7 519.8,119.2C523.1,118.7 528.7,117.8 530.5,117.5" fill="none" stroke="#6c4fb8" stroke-width="1.5" stroke-dasharray="4.5 2.3"/>
<path d="M465.5,139.7C468.0,139.3 476.0,138.5 480.5,137.5C485.0,136.5 489.4,134.3 492.7,133.5C495.9,132.7 496.2,133.9 500.0,132.8C503.8,131.7 510.2,129.2 515.3,126.7C520.4,124.2 525.5,119.8 530.5,117.7C535.5,115.6 540.7,115.1 545.5,114.0C550.3,112.9 556.8,111.4 559.1,110.9" fill="none" stroke="#e8862c" stroke-width="1.5" stroke-dasharray="2 2"/>
<path d="M480.5,128.7C481.8,129.2 485.7,130.8 488.0,131.5C490.3,132.2 491.6,132.1 494.2,132.8C496.8,133.5 500.6,135.3 503.8,135.5C507.0,135.7 510.3,135.1 513.5,134.0C516.7,132.9 520.7,130.4 523.0,128.7C525.3,127.0 525.2,125.8 527.5,123.7C529.8,121.6 533.8,118.0 536.5,116.1C539.2,114.1 542.8,112.7 544.0,112.0" fill="none" stroke="#6c4fb8" stroke-width="1.5" stroke-dasharray="2 2"/>
<path d="M36.7,298.7C37.3,299.8 39.4,302.9 40.5,305.0C41.6,307.1 41.8,309.7 43.5,311.0C45.2,312.3 48.0,313.2 50.5,313.0C53.0,312.8 55.5,311.5 58.5,310.0C61.5,308.5 65.2,306.5 68.5,304.0C71.8,301.5 75.2,298.3 78.5,295.0C81.8,291.7 85.2,287.8 88.5,284.0C91.8,280.2 95.2,275.5 98.5,272.0C101.8,268.5 105.7,265.0 108.5,263.0C111.3,261.0 113.0,259.8 115.5,260.0C118.0,260.2 121.0,261.8 123.5,264.0C126.0,266.2 128.2,269.5 130.5,273.0C132.8,276.5 135.9,283.0 137.0,285.0" fill="none" stroke="#e8862c" stroke-width="1.25" stroke-linecap="round"/>
<path d="M36.7,309.0C38.7,308.8 44.9,308.7 48.5,308.0C52.1,307.3 55.2,306.5 58.5,305.0C61.8,303.5 65.2,301.3 68.5,299.0C71.8,296.7 75.2,294.2 78.5,291.0C81.8,287.8 85.2,284.0 88.5,280.0C91.8,276.0 95.5,270.7 98.5,267.0C101.5,263.3 104.6,259.8 106.5,258.0C108.4,256.2 108.3,256.3 110.0,256.3C111.7,256.3 114.1,256.4 116.5,258.0C118.9,259.6 122.2,263.0 124.5,266.0C126.8,269.0 128.4,271.7 130.5,276.0C132.6,280.3 135.9,289.3 137.0,292.0" fill="none" stroke="#c0c83a" stroke-width="1.25" stroke-linecap="round"/>
<path d="M36.7,313.0C38.7,312.8 44.9,312.8 48.5,312.0C52.1,311.2 55.2,309.5 58.5,308.0C61.8,306.5 65.2,305.0 68.5,303.0C71.8,301.0 75.2,298.7 78.5,296.0C81.8,293.3 85.2,290.3 88.5,287.0C91.8,283.7 95.2,279.8 98.5,276.0C101.8,272.2 105.6,267.4 108.5,264.0C111.4,260.6 113.6,256.2 115.8,255.4C118.0,254.6 119.4,255.7 121.5,259.0C123.6,262.3 125.9,267.3 128.5,275.0C131.1,282.7 135.6,300.3 137.0,305.4" fill="none" stroke="#4a9a3e" stroke-width="1.25" stroke-linecap="round"/>
<path d="M36.7,310.0C38.7,309.7 44.9,308.8 48.5,308.0C52.1,307.2 55.2,306.5 58.5,305.0C61.8,303.5 65.0,301.8 68.5,299.0C72.0,296.2 75.9,292.0 79.2,288.0C82.5,284.0 85.3,279.5 88.5,275.0C91.7,270.5 95.6,263.8 98.5,261.0C101.4,258.2 103.1,258.3 106.0,258.3C108.9,258.3 112.2,258.3 115.8,261.0C119.3,263.7 123.8,270.4 127.3,274.6C130.8,278.8 135.4,284.1 137.0,286.0" fill="none" stroke="#6c4fb8" stroke-width="1.25" stroke-linecap="round"/>
<path d="M36.7,310.0C38.7,310.7 44.9,313.5 48.5,314.0C52.1,314.5 55.2,314.2 58.5,313.0C61.8,311.8 65.2,309.5 68.5,307.0C71.8,304.5 75.2,301.3 78.5,298.0C81.8,294.7 85.2,290.7 88.5,287.0C91.8,283.3 95.2,279.3 98.5,276.0C101.8,272.7 105.5,269.2 108.5,267.0C111.5,264.8 113.8,263.3 116.5,263.0C119.2,262.7 122.2,263.7 124.5,265.0C126.8,266.3 128.4,268.0 130.5,271.0C132.6,274.0 135.9,281.0 137.0,283.0" fill="none" stroke="#e8862c" stroke-width="1.25" stroke-linecap="round"/>
<path d="M36.7,311.0C38.7,310.8 44.9,310.7 48.5,310.0C52.1,309.3 55.2,308.2 58.5,307.0C61.8,305.8 65.2,304.5 68.5,303.0C71.8,301.5 75.2,300.0 78.5,298.0C81.8,296.0 85.2,293.3 88.5,291.0C91.8,288.7 95.2,286.2 98.5,284.0C101.8,281.8 106.0,279.4 108.5,278.0C111.0,276.6 111.5,275.6 113.8,275.6C116.1,275.6 119.7,276.1 122.5,278.0C125.3,279.9 128.1,283.7 130.5,287.0C132.9,290.3 135.9,296.2 137.0,298.0" fill="none" stroke="#4a9a3e" stroke-width="1.25" stroke-linecap="round"/>
<path d="M36.7,311.0C38.7,310.7 44.9,309.8 48.5,309.0C52.1,308.2 55.2,307.2 58.5,306.0C61.8,304.8 65.2,303.7 68.5,302.0C71.8,300.3 75.2,298.3 78.5,296.0C81.8,293.7 85.2,290.8 88.5,288.0C91.8,285.2 95.2,281.8 98.5,279.0C101.8,276.2 105.6,273.3 108.5,271.0C111.4,268.7 112.7,266.3 115.8,265.0C118.9,263.7 123.8,263.0 127.3,263.0C130.8,263.0 135.4,264.7 137.0,265.0" fill="none" stroke="#6c4fb8" stroke-width="1.25" stroke-linecap="round"/>
<path d="M36.7,306.0C38.7,307.5 44.9,313.3 48.5,315.0C52.1,316.7 55.2,316.7 58.5,316.0C61.8,315.3 65.2,313.2 68.5,311.0C71.8,308.8 75.2,306.0 78.5,303.0C81.8,300.0 85.2,296.5 88.5,293.0C91.8,289.5 95.2,285.5 98.5,282.0C101.8,278.5 105.3,274.8 108.5,272.0C111.7,269.2 114.7,266.0 117.5,265.0C120.3,264.0 123.2,264.7 125.5,266.0C127.8,267.3 129.6,269.3 131.5,273.0C133.4,276.7 136.1,285.5 137.0,288.0" fill="none" stroke="#e8862c" stroke-width="1.25" stroke-linecap="round"/>
<path d="M36.7,306.0C38.0,304.8 42.2,301.2 44.5,299.0C46.8,296.8 48.5,294.3 50.5,293.0C52.5,291.7 54.6,291.0 56.8,291.0C59.0,291.0 61.2,292.1 63.5,293.0C65.8,293.9 67.8,296.9 70.3,296.7C72.8,296.5 75.5,294.3 78.5,292.0C81.5,289.7 85.2,286.2 88.5,283.0C91.8,279.8 95.2,275.7 98.5,273.0C101.8,270.3 105.2,267.8 108.5,267.0C111.8,266.2 115.2,266.3 118.5,268.0C121.8,269.7 125.4,273.0 128.5,277.0C131.6,281.0 135.6,289.5 137.0,292.0" fill="none" stroke="#6c4fb8" stroke-width="1.25" stroke-linecap="round"/>
<path d="M36.7,312.0C38.7,312.2 44.9,313.2 48.5,313.0C52.1,312.8 55.2,312.2 58.5,311.0C61.8,309.8 65.2,307.8 68.5,306.0C71.8,304.2 75.2,302.2 78.5,300.0C81.8,297.8 85.2,295.3 88.5,293.0C91.8,290.7 96.2,287.5 98.5,286.0C100.8,284.5 100.0,284.5 102.5,284.2C105.0,283.9 110.0,284.0 113.5,284.0C117.0,284.0 119.9,284.0 123.5,284.0C127.1,284.0 133.1,284.2 135.0,284.2" fill="none" stroke="#e8862c" stroke-width="1.25" stroke-linecap="round"/>
<path d="M36.7,312.0C38.7,311.8 44.9,311.7 48.5,311.0C52.1,310.3 55.2,309.0 58.5,308.0C61.8,307.0 65.2,306.2 68.5,305.0C71.8,303.8 75.2,302.5 78.5,301.0C81.8,299.5 85.2,298.2 88.5,296.0C91.8,293.8 95.2,290.7 98.5,288.0C101.8,285.3 105.7,281.8 108.5,280.0C111.3,278.2 113.0,277.3 115.5,277.0C118.0,276.7 121.0,277.0 123.5,278.0C126.0,279.0 128.2,280.8 130.5,283.0C132.8,285.2 135.9,289.9 137.0,291.3" fill="none" stroke="#6c4fb8" stroke-width="1.25" stroke-linecap="round"/>
<path d="M36.7,316.0C38.7,316.0 44.9,316.3 48.5,316.0C52.1,315.7 55.2,315.2 58.5,314.0C61.8,312.8 65.2,311.0 68.5,309.0C71.8,307.0 75.2,304.7 78.5,302.0C81.8,299.3 85.2,296.2 88.5,293.0C91.8,289.8 95.2,286.3 98.5,283.0C101.8,279.7 105.2,275.8 108.5,273.0C111.8,270.2 115.5,267.3 118.5,266.0C121.5,264.7 124.2,264.2 126.5,265.0C128.8,265.8 130.8,268.5 132.5,271.0C134.2,273.5 136.2,278.5 137.0,280.0" fill="none" stroke="#e8862c" stroke-width="1.25" stroke-linecap="round"/>
<path d="M36.7,314.0C38.7,313.8 44.9,313.7 48.5,313.0C52.1,312.3 55.2,311.2 58.5,310.0C61.8,308.8 65.2,307.5 68.5,306.0C71.8,304.5 75.2,303.0 78.5,301.0C81.8,299.0 85.2,296.5 88.5,294.0C91.8,291.5 95.2,288.5 98.5,286.0C101.8,283.5 105.2,280.7 108.5,279.0C111.8,277.3 115.5,276.0 118.5,276.0C121.5,276.0 124.2,277.5 126.5,279.0C128.8,280.5 130.8,282.5 132.5,285.0C134.2,287.5 136.2,292.5 137.0,294.0" fill="none" stroke="#6c4fb8" stroke-width="1.25" stroke-linecap="round"/>
<path d="M73.5,301.0C76.0,300.9 84.6,300.5 88.8,300.6C93.0,300.7 95.3,301.2 98.5,301.5C101.7,301.8 103.8,303.1 108.0,302.5C112.2,301.9 119.7,300.1 123.5,297.7C127.3,295.3 128.9,290.1 131.0,288.0C133.1,285.9 133.8,285.7 136.0,285.0C138.2,284.3 141.5,283.1 144.3,284.0C147.1,284.9 151.3,289.2 152.7,290.3" fill="none" stroke="#e8862c" stroke-width="1.5" stroke-dasharray="2 2"/>
<path d="M35.7,302.5C37.8,302.2 42.7,301.5 48.5,300.5C54.3,299.5 63.7,297.7 70.3,296.7C76.9,295.7 82.6,295.0 88.0,294.5C93.4,294.0 97.4,294.1 102.5,293.8C107.6,293.6 112.8,293.1 118.5,293.0C124.2,292.9 132.7,293.2 137.0,293.0C141.3,292.8 142.2,292.8 144.5,292.0C146.8,291.2 149.5,288.8 150.5,288.2" fill="none" stroke="#6c4fb8" stroke-width="1.5" stroke-dasharray="4.5 2.3"/>
<path d="M93.5,285.5C94.3,285.4 94.5,284.4 98.5,285.2C102.5,285.9 112.7,288.9 117.7,290.0C122.7,291.1 124.8,291.5 128.5,292.0C132.2,292.5 138.1,292.8 140.0,292.9" fill="none" stroke="#6c4fb8" stroke-width="1.5" stroke-dasharray="2 2"/>
<path d="M172.2,315.0C173.9,314.5 178.8,313.0 182.5,312.0C186.2,311.0 190.8,310.2 194.5,309.0C198.2,307.8 201.7,307.0 204.5,305.0C207.3,303.0 209.2,300.3 211.5,297.0C213.8,293.7 216.2,288.5 218.5,285.0C220.8,281.5 222.9,277.8 225.5,276.0C228.1,274.2 231.2,273.8 234.0,274.0C236.8,274.2 239.4,275.7 242.3,277.0C245.2,278.3 248.6,280.3 251.5,282.0C254.4,283.7 256.0,284.2 259.5,287.0C263.0,289.8 270.3,296.6 272.5,298.5" fill="none" stroke="#e8862c" stroke-width="1.25" stroke-linecap="round"/>
<path d="M172.2,312.0C173.6,310.0 177.8,303.5 180.5,300.0C183.2,296.5 186.2,293.0 188.5,291.0C190.8,289.0 192.5,287.8 194.5,288.1C196.5,288.4 198.4,289.7 200.5,293.0C202.6,296.3 204.5,305.9 206.8,307.9C209.1,309.9 211.6,306.3 214.5,305.0C217.4,303.7 221.2,301.0 224.5,300.0C227.8,299.0 230.7,299.1 234.0,298.8C237.3,298.5 241.1,299.5 244.5,298.0C247.9,296.5 251.5,294.2 254.5,290.0C257.5,285.8 260.2,278.5 262.5,273.0C264.8,267.5 266.8,261.8 268.5,257.0C270.2,252.2 271.8,246.6 272.5,244.5" fill="none" stroke="#c0c83a" stroke-width="1.25" stroke-linecap="round"/>
<path d="M172.2,306.0C174.2,306.0 180.4,306.1 184.5,306.0C188.6,305.9 193.3,306.2 197.0,305.4C200.7,304.6 203.8,302.4 206.5,301.0C209.2,299.6 210.5,299.0 213.5,297.2C216.5,295.4 221.1,292.3 224.5,290.0C227.9,287.7 231.0,284.5 234.0,283.2C237.0,281.9 239.8,282.0 242.5,282.0C245.2,282.0 247.8,283.3 250.5,283.0C253.2,282.7 255.8,281.8 258.5,280.0C261.2,278.2 264.2,275.3 266.5,272.0C268.8,268.7 271.5,262.0 272.5,260.0" fill="none" stroke="#4a9a3e" stroke-width="1.25" stroke-linecap="round"/>
<path d="M172.2,310.0C173.9,308.7 178.8,304.7 182.5,302.0C186.2,299.3 191.2,295.0 194.5,294.0C197.8,293.0 199.8,295.0 202.5,296.0C205.2,297.0 207.5,299.0 210.5,300.0C213.5,301.0 217.2,301.5 220.5,302.0C223.8,302.5 227.3,303.3 230.5,303.0C233.7,302.7 236.3,301.8 239.5,300.0C242.7,298.2 246.5,295.3 249.5,292.0C252.5,288.7 255.0,285.2 257.5,280.0C260.0,274.8 262.7,266.7 264.5,261.0C266.3,255.3 267.2,251.6 268.5,246.0C269.8,240.4 271.8,230.6 272.5,227.5" fill="none" stroke="#6c4fb8" stroke-width="1.25" stroke-linecap="round"/>
<path d="M172.2,317.8C173.9,317.3 178.8,316.1 182.5,315.0C186.2,313.9 190.8,312.3 194.5,311.0C198.2,309.7 201.5,308.7 204.5,307.0C207.5,305.3 209.8,304.2 212.5,301.0C215.2,297.8 218.0,291.5 220.5,288.0C223.0,284.5 225.2,281.5 227.5,280.0C229.8,278.5 232.0,278.5 234.5,279.0C237.0,279.5 239.7,282.0 242.5,283.0C245.3,284.0 248.7,284.8 251.5,285.0C254.3,285.2 257.0,285.2 259.5,284.0C262.0,282.8 264.3,280.9 266.5,278.0C268.7,275.1 271.5,268.7 272.5,266.8" fill="none" stroke="#e8862c" stroke-width="1.25" stroke-linecap="round"/>
<path d="M172.2,313.0C174.2,312.3 180.4,310.3 184.5,309.0C188.6,307.7 192.5,306.2 196.5,305.0C200.5,303.8 204.5,303.0 208.5,302.0C212.5,301.0 216.5,299.8 220.5,299.0C224.5,298.2 228.5,297.7 232.5,297.0C236.5,296.3 240.8,296.5 244.5,295.0C248.2,293.5 251.5,291.5 254.5,288.0C257.5,284.5 260.2,278.8 262.5,274.0C264.8,269.2 266.8,264.0 268.5,259.0C270.2,254.0 271.8,246.5 272.5,244.0" fill="none" stroke="#c0c83a" stroke-width="1.25" stroke-linecap="round"/>
<path d="M172.2,309.0C174.2,308.8 180.4,308.5 184.5,308.0C188.6,307.5 192.8,306.8 196.5,306.0C200.2,305.2 203.5,304.0 206.5,303.0C209.5,302.0 211.5,301.2 214.5,300.0C217.5,298.8 221.2,297.3 224.5,296.0C227.8,294.7 231.2,292.8 234.5,292.0C237.8,291.2 241.2,291.5 244.5,291.0C247.8,290.5 251.5,290.5 254.5,289.0C257.5,287.5 260.2,284.5 262.5,282.0C264.8,279.5 266.8,277.0 268.5,274.0C270.2,271.0 271.8,265.7 272.5,264.0" fill="none" stroke="#4a9a3e" stroke-width="1.25" stroke-linecap="round"/>
<path d="M172.2,314.0C173.9,312.5 178.8,307.9 182.5,305.0C186.2,302.1 191.2,297.7 194.5,296.4C197.8,295.1 199.3,297.6 202.5,297.0C205.7,296.4 209.8,292.5 213.5,293.0C217.2,293.5 221.1,297.5 224.5,300.0C227.9,302.5 231.5,306.4 234.0,307.9C236.5,309.4 237.1,309.8 239.5,309.0C241.9,308.2 245.7,306.2 248.5,303.0C251.3,299.8 253.8,295.0 256.5,290.0C259.2,285.0 261.8,279.5 264.5,273.0C267.2,266.5 271.2,254.7 272.5,251.0" fill="none" stroke="#6c4fb8" stroke-width="1.25" stroke-linecap="round"/>
<path d="M172.2,314.0C173.9,313.8 178.8,313.8 182.5,313.0C186.2,312.2 190.8,310.3 194.5,309.0C198.2,307.7 201.5,306.7 204.5,305.0C207.5,303.3 209.8,301.7 212.5,299.0C215.2,296.3 218.0,291.7 220.5,289.0C223.0,286.3 225.2,284.2 227.5,283.0C229.8,281.8 232.0,281.8 234.5,282.0C237.0,282.2 239.7,283.2 242.5,284.0C245.3,284.8 248.7,286.5 251.5,287.0C254.3,287.5 257.0,287.8 259.5,287.0C262.0,286.2 264.3,284.0 266.5,282.0C268.7,280.0 271.5,276.2 272.5,275.0" fill="none" stroke="#e8862c" stroke-width="1.25" stroke-linecap="round"/>
<path d="M172.2,312.0C174.2,310.7 180.4,306.5 184.5,304.0C188.6,301.5 193.2,298.0 196.5,297.0C199.8,296.0 201.5,297.7 204.5,298.0C207.5,298.3 211.2,298.3 214.5,299.0C217.8,299.7 221.2,301.0 224.5,302.0C227.8,303.0 231.5,304.2 234.5,305.0C237.5,305.8 239.8,307.8 242.5,307.0C245.2,306.2 247.8,303.2 250.5,300.0C253.2,296.8 255.8,292.7 258.5,288.0C261.2,283.3 264.2,277.0 266.5,272.0C268.8,267.0 271.5,260.3 272.5,258.0" fill="none" stroke="#6c4fb8" stroke-width="1.25" stroke-linecap="round"/>
<path d="M172.2,316.0C173.9,315.7 178.8,315.0 182.5,314.0C186.2,313.0 190.8,311.3 194.5,310.0C198.2,308.7 201.5,307.5 204.5,306.0C207.5,304.5 209.8,303.3 212.5,301.0C215.2,298.7 218.0,294.5 220.5,292.0C223.0,289.5 225.2,287.2 227.5,286.0C229.8,284.8 232.0,284.8 234.5,285.0C237.0,285.2 239.7,286.2 242.5,287.0C245.3,287.8 248.7,289.5 251.5,290.0C254.3,290.5 257.0,290.8 259.5,290.0C262.0,289.2 264.3,286.5 266.5,285.0C268.7,283.5 271.5,281.8 272.5,281.2" fill="none" stroke="#e8862c" stroke-width="1.25" stroke-linecap="round"/>
<path d="M172.2,316.0C174.2,314.7 180.4,310.7 184.5,308.0C188.6,305.3 192.8,301.5 196.5,300.0C200.2,298.5 203.2,299.5 206.5,299.0C209.8,298.5 213.2,297.7 216.5,297.0C219.8,296.3 223.2,295.5 226.5,295.0C229.8,294.5 233.2,294.5 236.5,294.0C239.8,293.5 243.2,293.5 246.5,292.0C249.8,290.5 253.5,287.7 256.5,285.0C259.5,282.3 261.8,279.2 264.5,276.0C267.2,272.8 271.2,267.7 272.5,266.0" fill="none" stroke="#6c4fb8" stroke-width="1.25" stroke-linecap="round"/>
<path d="M172.2,313.0C173.9,312.7 178.8,312.0 182.5,311.0C186.2,310.0 190.5,308.5 194.5,307.0C198.5,305.5 202.8,304.2 206.5,302.0C210.2,299.8 213.5,296.3 216.5,294.0C219.5,291.7 221.8,289.2 224.5,288.0C227.2,286.8 229.8,287.0 232.5,287.0C235.2,287.0 237.5,287.5 240.5,288.0C243.5,288.5 247.5,289.8 250.5,290.0C253.5,290.2 255.8,290.2 258.5,289.0C261.2,287.8 264.2,286.0 266.5,283.0C268.8,280.0 271.5,273.0 272.5,271.0" fill="none" stroke="#e8862c" stroke-width="1.25" stroke-linecap="round"/>
<path d="M170.6,298.8C172.9,298.9 180.1,299.2 184.5,299.5C188.9,299.8 192.0,300.9 197.0,300.5C202.0,300.1 208.2,298.4 214.5,297.0C220.8,295.6 227.8,293.7 234.5,292.0C241.2,290.3 249.4,288.1 254.5,287.0C259.6,285.9 262.0,285.4 265.3,285.6C268.6,285.8 271.6,287.3 274.5,288.0C277.4,288.7 279.7,289.8 282.5,289.9C285.3,290.0 289.8,288.6 291.2,288.4" fill="none" stroke="#6c4fb8" stroke-width="1.5" stroke-dasharray="4.5 2.3"/>
<path d="M187.0,314.5C188.6,314.6 193.2,314.9 196.5,315.0C199.8,315.1 203.0,315.5 206.8,315.3C210.6,315.1 215.0,314.6 219.5,314.0C224.0,313.4 229.8,313.3 234.0,312.0C238.2,310.7 241.1,308.5 244.5,306.0C247.9,303.5 251.2,300.3 254.5,297.0C257.8,293.7 261.5,289.1 264.5,286.0C267.5,282.9 269.5,279.9 272.5,278.4C275.5,276.9 279.4,276.8 282.5,277.0C285.6,277.2 289.8,279.3 291.2,279.8" fill="none" stroke="#e8862c" stroke-width="1.5" stroke-dasharray="2 2"/>
<path d="M177.2,318.6C179.2,318.0 185.8,316.1 189.5,315.0C193.2,313.9 196.1,312.9 199.5,312.0C202.9,311.1 206.7,310.5 210.0,309.5C213.3,308.5 216.2,307.2 219.5,306.0C222.8,304.8 227.8,302.7 229.5,302.0" fill="none" stroke="#6c4fb8" stroke-width="1.5" stroke-dasharray="2 2"/>
<path d="M308.2,313.0C309.4,311.3 312.8,306.1 315.5,303.0C318.2,299.9 321.9,295.7 324.7,294.7C327.5,293.7 329.8,295.9 332.5,297.0C335.2,298.1 338.7,301.8 341.2,301.0C343.7,300.2 345.3,295.2 347.5,292.0C349.7,288.8 351.9,285.0 354.4,282.0C356.9,279.0 359.8,276.0 362.5,274.0C365.2,272.0 367.5,270.7 370.5,270.0C373.5,269.3 377.2,269.2 380.5,270.0C383.8,270.8 387.2,272.8 390.5,275.0C393.8,277.2 397.5,280.5 400.5,283.0C403.5,285.5 407.2,288.8 408.5,290.0" fill="none" stroke="#e8862c" stroke-width="1.25" stroke-linecap="round"/>
<path d="M308.2,311.0C309.9,309.7 315.4,305.8 318.5,303.0C321.6,300.2 324.1,296.1 326.5,294.0C328.9,291.9 331.0,290.8 333.0,290.6C335.0,290.4 336.9,292.0 338.5,293.0C340.1,294.0 340.3,296.1 342.5,296.4C344.7,296.7 348.5,294.3 351.5,294.6C354.5,294.9 357.8,296.9 360.5,298.0C363.2,299.1 364.8,300.2 368.0,301.0C371.2,301.8 376.4,303.6 379.5,302.8C382.6,302.0 384.3,299.1 386.5,296.0C388.7,292.9 390.1,289.7 392.5,284.0C394.9,278.3 398.3,268.0 401.0,262.0C403.7,256.0 407.2,250.4 408.5,248.1" fill="none" stroke="#c0c83a" stroke-width="1.25" stroke-linecap="round"/>
<path d="M308.2,304.6C309.9,304.2 314.8,302.9 318.5,302.0C322.2,301.1 326.7,300.3 330.5,299.0C334.3,297.7 337.7,295.6 341.2,294.0C344.7,292.4 348.3,290.7 351.5,289.6C354.7,288.5 357.8,288.1 360.5,287.5C363.2,286.9 364.0,286.8 368.0,286.3C372.0,285.8 379.8,285.2 384.5,284.7C389.2,284.1 393.2,284.4 396.5,283.0C399.8,281.6 402.5,279.2 404.5,276.0C406.5,272.8 407.8,266.0 408.5,264.0" fill="none" stroke="#4a9a3e" stroke-width="1.25" stroke-linecap="round"/>
<path d="M308.2,312.0C309.9,311.0 314.8,308.0 318.5,306.0C322.2,304.0 326.7,301.7 330.5,300.0C334.3,298.3 337.7,296.6 341.2,296.0C344.7,295.4 348.3,294.9 351.5,296.2C354.7,297.5 357.8,301.9 360.5,304.0C363.2,306.1 365.1,308.5 368.0,308.6C370.9,308.7 375.1,307.0 377.8,304.4C380.6,301.8 382.6,296.8 384.5,293.0C386.4,289.2 387.6,285.6 389.4,281.4C391.2,277.2 393.6,272.4 395.5,268.0C397.4,263.6 399.4,259.7 401.0,255.0C402.6,250.3 403.8,245.7 405.0,240.0C406.2,234.3 407.9,224.0 408.5,220.8" fill="none" stroke="#6c4fb8" stroke-width="1.25" stroke-linecap="round"/>
<path d="M308.2,316.0C309.9,315.3 314.8,313.7 318.5,312.0C322.2,310.3 327.3,307.7 330.5,306.0C333.7,304.3 335.2,304.3 337.5,302.0C339.8,299.7 342.2,295.2 344.5,292.0C346.8,288.8 348.8,286.0 351.5,283.0C354.2,280.0 357.4,276.4 360.5,274.0C363.6,271.6 367.0,269.3 370.0,268.5C373.0,267.7 375.4,268.1 378.5,269.0C381.6,269.9 385.2,271.8 388.5,274.0C391.8,276.2 395.2,279.7 398.5,282.0C401.8,284.3 406.8,287.0 408.5,288.0" fill="none" stroke="#e8862c" stroke-width="1.25" stroke-linecap="round"/>
<path d="M308.2,308.0C309.9,307.7 314.8,306.8 318.5,306.0C322.2,305.2 326.8,304.3 330.5,303.0C334.2,301.7 337.0,299.8 340.5,298.0C344.0,296.2 348.2,293.1 351.5,292.0C354.8,290.9 357.3,291.5 360.5,291.5C363.7,291.5 367.2,291.9 370.5,292.0C373.8,292.1 377.2,292.3 380.5,292.0C383.8,291.7 387.2,291.5 390.5,290.0C393.8,288.5 397.5,285.7 400.5,283.0C403.5,280.3 407.2,275.5 408.5,274.0" fill="none" stroke="#4a9a3e" stroke-width="1.25" stroke-linecap="round"/>
<path d="M308.2,309.0C309.9,308.3 314.8,307.0 318.5,305.0C322.2,303.0 326.9,299.6 330.5,297.0C334.1,294.4 337.6,290.4 340.0,289.6C342.4,288.8 342.9,292.3 345.0,292.0C347.1,291.7 350.1,289.8 352.5,288.0C354.9,286.2 356.7,282.7 359.7,281.4C362.7,280.1 366.4,280.3 370.5,280.0C374.6,279.7 380.2,279.8 384.5,279.7C388.8,279.6 392.5,279.7 396.5,279.7C400.5,279.7 406.5,279.7 408.5,279.7" fill="none" stroke="#6c4fb8" stroke-width="1.25" stroke-linecap="round"/>
<path d="M308.2,317.8C309.6,317.6 313.8,316.9 316.5,316.5C319.2,316.1 322.2,315.5 324.7,315.3C327.2,315.1 329.3,316.1 331.5,315.5C333.7,314.9 335.5,314.6 337.9,312.0C340.3,309.4 343.6,303.3 346.0,299.6C348.4,295.9 350.1,292.9 352.5,290.0C354.9,287.1 357.5,284.3 360.5,282.0C363.5,279.7 367.2,277.0 370.5,276.0C373.8,275.0 377.2,275.2 380.5,276.0C383.8,276.8 387.2,279.0 390.5,281.0C393.8,283.0 397.5,285.7 400.5,288.0C403.5,290.3 407.2,293.5 408.5,294.6" fill="none" stroke="#e8862c" stroke-width="1.25" stroke-linecap="round"/>
<path d="M308.2,315.0C309.9,314.2 314.8,312.0 318.5,310.0C322.2,308.0 326.8,304.8 330.5,303.0C334.2,301.2 337.0,300.2 340.5,299.0C344.0,297.8 348.2,296.3 351.5,296.0C354.8,295.7 357.8,296.5 360.5,297.0C363.2,297.5 365.3,298.5 368.0,299.0C370.7,299.5 373.8,299.6 376.5,300.0C379.2,300.4 381.8,301.9 384.5,301.2C387.2,300.5 389.8,298.2 392.5,296.0C395.2,293.8 397.8,290.3 400.5,288.0C403.2,285.7 407.2,283.0 408.5,282.0" fill="none" stroke="#6c4fb8" stroke-width="1.25" stroke-linecap="round"/>
<path d="M308.2,314.0C309.9,313.3 314.8,311.7 318.5,310.0C322.2,308.3 326.8,305.8 330.5,304.0C334.2,302.2 337.2,301.2 340.5,299.0C343.8,296.8 347.5,293.5 350.5,291.0C353.5,288.5 355.8,286.2 358.5,284.0C361.2,281.8 363.5,279.3 366.5,278.0C369.5,276.7 373.2,276.2 376.5,276.0C379.8,275.8 383.2,276.7 386.5,277.0C389.8,277.3 392.8,278.7 396.5,278.0C400.2,277.3 406.5,273.5 408.5,272.6" fill="none" stroke="#e8862c" stroke-width="1.25" stroke-linecap="round"/>
<path d="M308.2,317.0C309.9,316.2 314.8,313.8 318.5,312.0C322.2,310.2 326.8,307.8 330.5,306.0C334.2,304.2 337.2,302.3 340.5,301.0C343.8,299.7 347.2,298.8 350.5,298.0C353.8,297.2 357.2,296.7 360.5,296.0C363.8,295.3 367.2,294.8 370.5,294.0C373.8,293.2 377.2,292.3 380.5,291.0C383.8,289.7 387.2,288.8 390.5,286.0C393.8,283.2 397.5,278.9 400.5,274.0C403.5,269.1 407.2,259.7 408.5,256.8" fill="none" stroke="#6c4fb8" stroke-width="1.25" stroke-linecap="round"/>
<path d="M308.2,319.4C309.9,318.5 314.8,316.1 318.5,314.0C322.2,311.9 326.8,309.3 330.5,307.0C334.2,304.7 337.2,302.3 340.5,300.0C343.8,297.7 347.5,295.2 350.5,293.0C353.5,290.8 355.8,288.8 358.5,287.0C361.2,285.2 363.5,283.2 366.5,282.0C369.5,280.8 373.2,280.0 376.5,280.0C379.8,280.0 383.2,281.5 386.5,282.0C389.8,282.5 392.8,283.3 396.5,283.0C400.2,282.7 406.5,280.5 408.5,280.0" fill="none" stroke="#e8862c" stroke-width="1.25" stroke-linecap="round"/>
<path d="M305.0,300.5C307.6,300.3 315.5,299.7 320.5,299.5C325.5,299.3 330.0,299.7 335.0,299.5C340.0,299.3 345.0,298.8 350.5,298.5C356.0,298.2 361.6,298.3 368.0,297.8C374.4,297.3 382.1,296.7 388.8,295.6C395.6,294.5 402.7,292.7 408.5,291.3C414.3,289.9 421.0,287.7 423.5,287.0" fill="none" stroke="#6c4fb8" stroke-width="1.5" stroke-dasharray="4.5 2.3"/>
<path d="M380.5,296.0C382.8,295.2 389.8,293.0 394.5,291.3C399.2,289.6 403.7,286.3 408.5,285.6C413.3,284.9 421.0,286.8 423.5,287.0" fill="none" stroke="#e8862c" stroke-width="1.5" stroke-dasharray="2 2"/>
<path d="M443.7,295.6C445.4,295.9 450.9,296.9 454.2,297.5C457.5,298.1 460.6,298.5 463.5,299.0C466.4,299.5 468.5,300.4 471.5,300.4C474.5,300.4 478.2,299.9 481.5,299.0C484.8,298.1 488.2,296.5 491.5,295.0C494.8,293.5 498.2,291.7 501.5,290.0C504.8,288.3 508.2,286.5 511.5,285.0C514.8,283.5 518.2,282.0 521.5,281.0C524.8,280.0 527.8,279.7 531.5,279.0C535.2,278.3 541.9,277.3 544.0,277.0" fill="none" stroke="#e8862c" stroke-width="1.25" stroke-linecap="round"/>
<path d="M443.7,309.0C445.7,308.2 451.5,305.8 455.5,304.0C459.5,302.2 463.5,300.0 467.5,298.0C471.5,296.0 475.5,294.0 479.5,292.0C483.5,290.0 487.5,287.8 491.5,286.0C495.5,284.2 499.8,282.3 503.5,281.0C507.2,279.7 510.2,278.7 513.5,278.0C516.8,277.3 520.2,277.0 523.5,277.0C526.8,277.0 530.1,277.2 533.5,278.0C536.9,278.8 542.2,281.3 544.0,282.0" fill="none" stroke="#c0c83a" stroke-width="1.25" stroke-linecap="round"/>
<path d="M443.7,311.0C445.7,310.5 451.5,309.3 455.5,308.0C459.5,306.7 463.5,304.7 467.5,303.0C471.5,301.3 475.5,299.8 479.5,298.0C483.5,296.2 487.5,294.0 491.5,292.0C495.5,290.0 500.2,288.2 503.5,286.0C506.8,283.8 508.8,281.5 511.5,279.0C514.2,276.5 517.0,272.7 520.0,271.2C523.0,269.7 526.8,269.9 529.7,270.2C532.6,270.5 535.1,271.9 537.5,273.0C539.9,274.1 542.9,276.3 544.0,277.0" fill="none" stroke="#4a9a3e" stroke-width="1.25" stroke-linecap="round"/>
<path d="M443.7,308.0C445.0,306.7 449.2,302.5 451.5,300.0C453.8,297.5 455.4,294.8 457.5,293.0C459.6,291.2 462.0,289.4 463.8,289.2C465.6,289.0 467.2,290.8 468.5,292.0C469.8,293.2 469.7,295.5 471.5,296.5C473.3,297.5 476.5,298.2 479.5,298.0C482.5,297.8 486.2,296.5 489.5,295.0C492.8,293.5 496.2,290.8 499.5,289.0C502.8,287.2 506.1,285.0 509.5,284.0C512.9,283.0 516.3,282.0 520.0,283.0C523.7,284.0 527.5,287.0 531.5,290.0C535.5,293.0 541.9,299.2 544.0,301.0" fill="none" stroke="#6c4fb8" stroke-width="1.25" stroke-linecap="round"/>
<path d="M443.7,312.0C445.7,311.5 451.5,310.2 455.5,309.0C459.5,307.8 463.5,306.5 467.5,305.0C471.5,303.5 475.5,301.8 479.5,300.0C483.5,298.2 487.5,296.0 491.5,294.0C495.5,292.0 499.8,289.8 503.5,288.0C507.2,286.2 510.2,284.5 513.5,283.0C516.8,281.5 520.2,279.8 523.5,279.0C526.8,278.2 530.1,277.7 533.5,278.0C536.9,278.3 542.2,280.5 544.0,281.0" fill="none" stroke="#e8862c" stroke-width="1.25" stroke-linecap="round"/>
<path d="M443.7,313.0C445.7,312.3 451.5,310.5 455.5,309.0C459.5,307.5 463.5,305.7 467.5,304.0C471.5,302.3 475.5,300.7 479.5,299.0C483.5,297.3 487.8,295.5 491.5,294.0C495.2,292.5 498.2,291.5 501.5,290.0C504.8,288.5 508.4,286.7 511.5,285.0C514.6,283.3 517.0,281.5 520.0,280.0C523.0,278.5 525.5,276.0 529.5,276.0C533.5,276.0 541.6,279.3 544.0,280.0" fill="none" stroke="#4a9a3e" stroke-width="1.25" stroke-linecap="round"/>
<path d="M443.7,312.0C445.7,311.0 451.5,308.2 455.5,306.0C459.5,303.8 463.5,301.5 467.5,299.0C471.5,296.5 475.5,293.5 479.5,291.0C483.5,288.5 487.5,286.2 491.5,284.0C495.5,281.8 499.5,279.5 503.5,278.0C507.5,276.5 511.2,276.2 515.5,275.0C519.8,273.8 524.8,271.8 529.5,271.0C534.2,270.2 541.6,270.3 544.0,270.2" fill="none" stroke="#6c4fb8" stroke-width="1.25" stroke-linecap="round"/>
<path d="M443.7,316.0C445.7,315.3 451.5,313.5 455.5,312.0C459.5,310.5 463.5,308.7 467.5,307.0C471.5,305.3 475.5,303.7 479.5,302.0C483.5,300.3 487.5,298.7 491.5,297.0C495.5,295.3 499.8,293.5 503.5,292.0C507.2,290.5 510.2,289.2 513.5,288.0C516.8,286.8 520.2,285.7 523.5,285.0C526.8,284.3 530.1,283.4 533.5,284.0C536.9,284.6 542.2,287.8 544.0,288.5" fill="none" stroke="#e8862c" stroke-width="1.25" stroke-linecap="round"/>
<path d="M443.7,310.0C445.7,309.2 451.5,306.8 455.5,305.0C459.5,303.2 463.5,301.0 467.5,299.0C471.5,297.0 475.5,295.2 479.5,293.0C483.5,290.8 487.5,288.2 491.5,286.0C495.5,283.8 499.8,281.5 503.5,280.0C507.2,278.5 510.2,277.7 513.5,277.0C516.8,276.3 520.2,276.2 523.5,276.0C526.8,275.8 530.1,276.0 533.5,276.0C536.9,276.0 542.2,276.0 544.0,276.0" fill="none" stroke="#6c4fb8" stroke-width="1.25" stroke-linecap="round"/>
<path d="M443.7,317.0C445.7,316.7 451.5,316.0 455.5,315.0C459.5,314.0 463.5,312.5 467.5,311.0C471.5,309.5 476.2,307.5 479.5,306.0C482.8,304.5 484.9,303.3 487.5,302.0C490.1,300.7 491.7,298.8 495.0,298.0C498.3,297.2 503.4,297.3 507.5,297.0C511.6,296.7 515.5,296.3 519.5,296.0C523.5,295.7 527.4,295.4 531.5,295.0C535.6,294.6 541.9,293.6 544.0,293.3" fill="none" stroke="#e8862c" stroke-width="1.25" stroke-linecap="round"/>
<path d="M443.7,314.0C445.7,313.2 451.5,310.7 455.5,309.0C459.5,307.3 463.5,305.7 467.5,304.0C471.5,302.3 475.5,300.8 479.5,299.0C483.5,297.2 487.5,295.0 491.5,293.0C495.5,291.0 499.8,288.7 503.5,287.0C507.2,285.3 510.2,283.5 513.5,283.0C516.8,282.5 520.2,283.3 523.5,284.0C526.8,284.7 530.1,285.8 533.5,287.0C536.9,288.2 542.2,290.7 544.0,291.4" fill="none" stroke="#6c4fb8" stroke-width="1.25" stroke-linecap="round"/>
<path d="M443.7,305.0C445.7,304.8 451.5,304.5 455.5,304.0C459.5,303.5 463.5,302.8 467.5,302.0C471.5,301.2 475.5,300.2 479.5,299.0C483.5,297.8 487.5,296.5 491.5,295.0C495.5,293.5 499.5,291.7 503.5,290.0C507.5,288.3 511.5,286.3 515.5,285.0C519.5,283.7 524.2,282.5 527.5,282.0C530.8,281.5 532.8,281.5 535.5,282.0C538.2,282.5 542.6,284.5 544.0,285.0" fill="none" stroke="#e8862c" stroke-width="1.25" stroke-linecap="round"/>
<path d="M440.8,301.3C443.2,301.2 450.1,301.2 455.5,301.0C460.9,300.8 467.7,300.5 473.5,300.0C479.3,299.5 485.8,298.7 490.5,298.0C495.2,297.3 497.5,296.8 501.5,296.0C505.5,295.2 510.3,293.5 514.3,293.3C518.3,293.1 522.3,294.5 525.5,295.0C528.7,295.5 530.4,296.2 533.5,296.2C536.6,296.2 542.2,295.2 544.0,295.0" fill="none" stroke="#6c4fb8" stroke-width="1.5" stroke-dasharray="4.5 2.3"/>
<path d="M446.5,317.7C448.8,317.2 456.0,315.9 460.5,315.0C465.0,314.1 468.5,313.5 473.5,312.0C478.5,310.5 485.2,307.9 490.5,306.0C495.8,304.1 499.2,302.7 505.0,300.4C510.8,298.1 519.0,294.5 525.5,292.0C532.0,289.5 538.5,286.4 544.0,285.6C549.5,284.9 556.1,287.2 558.5,287.5" fill="none" stroke="#e8862c" stroke-width="1.5" stroke-dasharray="2 2"/>
<path d="M473.5,308.0C477.1,307.3 489.7,304.8 495.0,304.0C500.3,303.2 500.7,303.5 505.5,303.0C510.3,302.5 519.0,301.7 524.0,301.0C529.0,300.3 532.3,299.8 535.5,299.0C538.7,298.2 540.8,297.7 543.0,296.2C545.2,294.7 546.9,292.6 548.5,290.0C550.1,287.4 550.8,284.7 552.8,280.8C554.8,276.9 559.2,268.8 560.5,266.4" fill="none" stroke="#6c4fb8" stroke-width="1.5" stroke-dasharray="2 2"/>
</svg></div></body></html>
